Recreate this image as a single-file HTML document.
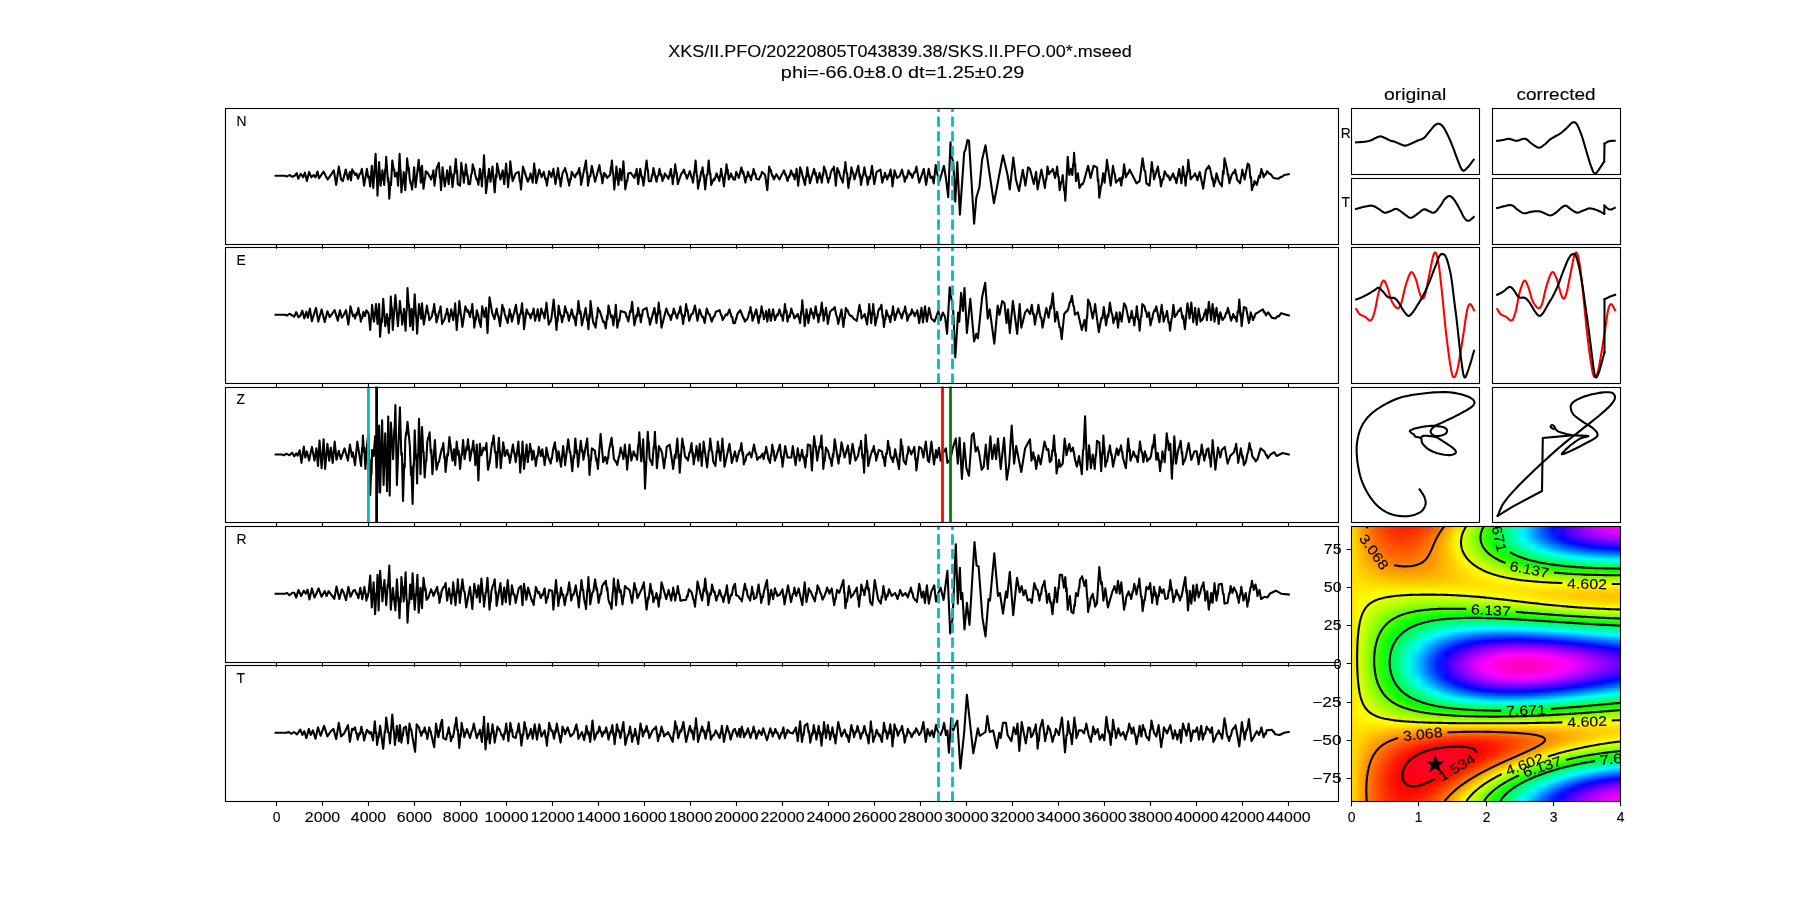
<!DOCTYPE html>
<html><head><meta charset="utf-8"><style>
html,body{margin:0;padding:0;background:#fff;}
#fig{position:relative;width:1800px;height:900px;overflow:hidden;background:#fff;}
#field{position:absolute;left:1351.24px;top:525.84px;width:268.76px;height:275.16px;overflow:hidden;}
svg{position:absolute;left:0;top:0;will-change:transform;}
text{font-family:"Liberation Sans", sans-serif;fill:#000;stroke:#000;stroke-width:0.12px;}
</style></head><body><div id="fig">
<div id="field"><div style="height:2px;background:linear-gradient(90deg,#ffe500,#ffa900,#ff7300,#ff4800,#ff2d00,#ff1d00,#ff1d00,#ff2800,#ff4300,#ff6900,#ff9900,#ffd500,#e8ff00,#9dff00,#4cff00,#00ff0b,#00ff5b,#00ffb1,#00f6ff,#00a5ff,#0059ff,#0012ff,#2a00ff,#6000ff,#9100ff,#b700ff,#d700ff,#ed00ff,#fe00ff)"></div><div style="height:2px;background:linear-gradient(90deg,#ffe500,#ffa900,#ff7300,#ff4e00,#ff3300,#ff2200,#ff2200,#ff2d00,#ff4800,#ff6e00,#ff9f00,#ffda00,#deff00,#92ff00,#41ff00,#00ff10,#00ff66,#00ffbc,#00f1ff,#00a0ff,#0059ff,#0012ff,#2f00ff,#6500ff,#9100ff,#b700ff,#d700ff,#ed00ff,#f800ff)"></div><div style="height:2px;background:linear-gradient(90deg,#ffe500,#ffa900,#ff7900,#ff4e00,#ff3300,#ff2800,#ff2800,#ff3300,#ff4e00,#ff7300,#ffa900,#ffe500,#d8ff00,#8dff00,#3bff00,#00ff16,#00ff6c,#00ffbc,#00ecff,#00a0ff,#0053ff,#0012ff,#2a00ff,#6000ff,#8b00ff,#b100ff,#cd00ff,#e200ff,#f300ff)"></div><div style="height:2px;background:linear-gradient(90deg,#ffe500,#ffa900,#ff7900,#ff5300,#ff3800,#ff2d00,#ff2d00,#ff3800,#ff5300,#ff7e00,#ffaf00,#ffea00,#d3ff00,#87ff00,#36ff00,#00ff1b,#00ff6c,#00ffc2,#00ecff,#00a0ff,#0059ff,#0018ff,#2400ff,#5a00ff,#8600ff,#a700ff,#c200ff,#d700ff,#e200ff)"></div><div style="height:2px;background:linear-gradient(90deg,#ffe500,#ffa900,#ff7900,#ff5300,#ff3d00,#ff3300,#ff3300,#ff3d00,#ff5e00,#ff8400,#ffb400,#fff000,#cdff00,#82ff00,#36ff00,#00ff1b,#00ff6c,#00ffbc,#00f1ff,#00a5ff,#005eff,#001dff,#1900ff,#5000ff,#7600ff,#9c00ff,#b700ff,#c700ff,#d200ff)"></div><div style="height:2px;background:linear-gradient(90deg,#ffe500,#ffaf00,#ff7e00,#ff5800,#ff3d00,#ff3300,#ff3800,#ff4300,#ff6300,#ff8900,#ffba00,#fff500,#c8ff00,#82ff00,#31ff00,#00ff1b,#00ff6c,#00ffbc,#00f6ff,#00aaff,#0069ff,#0028ff,#0e00ff,#3f00ff,#6500ff,#8b00ff,#a100ff,#b100ff,#bc00ff)"></div><div style="height:2px;background:linear-gradient(90deg,#ffe500,#ffaf00,#ff7e00,#ff5e00,#ff4300,#ff3800,#ff3d00,#ff4800,#ff6300,#ff8e00,#ffbf00,#fff500,#c8ff00,#82ff00,#36ff00,#00ff1b,#00ff66,#00ffb1,#00fffd,#00b5ff,#0074ff,#0038ff,#0002ff,#2f00ff,#5500ff,#7600ff,#8b00ff,#9c00ff,#a700ff)"></div><div style="height:2px;background:linear-gradient(90deg,#ffe500,#ffaf00,#ff8400,#ff5e00,#ff4800,#ff3d00,#ff4300,#ff4e00,#ff6900,#ff8e00,#ffbf00,#fffb00,#c8ff00,#82ff00,#36ff00,#00ff16,#00ff61,#00ffac,#00fff2,#00c6ff,#0084ff,#0049ff,#0018ff,#1400ff,#3a00ff,#5a00ff,#7000ff,#8100ff,#8b00ff)"></div><div style="height:2px;background:linear-gradient(90deg,#ffe500,#ffaf00,#ff8400,#ff6300,#ff4e00,#ff4300,#ff4800,#ff5300,#ff6e00,#ff9400,#ffc400,#fffb00,#c8ff00,#82ff00,#3bff00,#00ff0b,#00ff56,#00ffa1,#00ffe7,#00d6ff,#009aff,#005eff,#002dff,#0002ff,#1f00ff,#3f00ff,#5500ff,#6000ff,#6b00ff)"></div><div style="height:2px;background:linear-gradient(90deg,#ffe500,#ffb400,#ff8900,#ff6900,#ff5300,#ff4800,#ff4800,#ff5800,#ff7300,#ff9900,#ffc400,#fffb00,#c8ff00,#87ff00,#41ff00,#00ff05,#00ff4b,#00ff91,#00ffd2,#00ecff,#00b0ff,#0079ff,#0049ff,#001dff,#0400ff,#1f00ff,#3400ff,#3f00ff,#4a00ff)"></div><div style="height:2px;background:linear-gradient(90deg,#ffe500,#ffb400,#ff8900,#ff6900,#ff5800,#ff4e00,#ff4e00,#ff5e00,#ff7900,#ff9900,#ffc400,#fffb00,#cdff00,#8dff00,#4cff00,#05ff00,#00ff3b,#00ff81,#00ffc2,#00fffd,#00c6ff,#0095ff,#0064ff,#003eff,#001dff,#0007ff,#0e00ff,#1900ff,#2400ff)"></div><div style="height:2px;background:linear-gradient(90deg,#ffe500,#ffb400,#ff8e00,#ff6e00,#ff5800,#ff5300,#ff5300,#ff6300,#ff7900,#ff9900,#ffc400,#fff500,#cdff00,#92ff00,#56ff00,#16ff00,#00ff30,#00ff6c,#00ffac,#00ffe7,#00e1ff,#00b0ff,#0084ff,#005eff,#0043ff,#0028ff,#0018ff,#000dff,#0007ff)"></div><div style="height:2px;background:linear-gradient(90deg,#ffe500,#ffba00,#ff8e00,#ff7300,#ff5e00,#ff5800,#ff5800,#ff6900,#ff7e00,#ff9f00,#ffc400,#fff500,#d3ff00,#9dff00,#61ff00,#20ff00,#00ff1b,#00ff5b,#00ff97,#00ffcc,#00fffd,#00d0ff,#00aaff,#0084ff,#0069ff,#0053ff,#0043ff,#0038ff,#002dff)"></div><div style="height:2px;background:linear-gradient(90deg,#ffe500,#ffba00,#ff9400,#ff7900,#ff6300,#ff5e00,#ff5e00,#ff6900,#ff7e00,#ff9f00,#ffc400,#fff000,#d8ff00,#a2ff00,#6cff00,#31ff00,#00ff0b,#00ff46,#00ff7c,#00ffb1,#00ffe2,#00f1ff,#00cbff,#00aaff,#008fff,#0079ff,#0069ff,#0064ff,#005eff)"></div><div style="height:2px;background:linear-gradient(90deg,#ffe500,#ffba00,#ff9900,#ff7e00,#ff6900,#ff6300,#ff6300,#ff6e00,#ff8400,#ff9f00,#ffc400,#fff000,#e3ff00,#adff00,#77ff00,#41ff00,#0bff00,#00ff2b,#00ff61,#00ff91,#00ffc2,#00ffe7,#00f1ff,#00d6ff,#00bbff,#00a5ff,#009aff,#008fff,#008aff)"></div><div style="height:2px;background:linear-gradient(90deg,#ffe500,#ffbf00,#ff9900,#ff8400,#ff6e00,#ff6900,#ff6900,#ff7300,#ff8900,#ff9f00,#ffc400,#ffea00,#e8ff00,#b8ff00,#87ff00,#51ff00,#1bff00,#00ff16,#00ff46,#00ff76,#00ff9c,#00ffc2,#00ffe7,#00fcff,#00e6ff,#00d0ff,#00c6ff,#00bbff,#00bbff)"></div><div style="height:2px;background:linear-gradient(90deg,#ffe500,#ffbf00,#ff9f00,#ff8900,#ff7900,#ff6e00,#ff6e00,#ff7900,#ff8900,#ffa400,#ffbf00,#ffe500,#eeff00,#c3ff00,#92ff00,#61ff00,#31ff00,#05ff00,#00ff2b,#00ff56,#00ff7c,#00ffa1,#00ffbc,#00ffd7,#00ffed,#00fffd,#00f6ff,#00ecff,#00e6ff)"></div><div style="height:2px;background:linear-gradient(90deg,#ffe500,#ffc400,#ffa400,#ff8e00,#ff7e00,#ff7300,#ff7300,#ff7e00,#ff8e00,#ffa400,#ffbf00,#ffe000,#f9ff00,#cdff00,#a2ff00,#77ff00,#46ff00,#1bff00,#00ff0b,#00ff36,#00ff56,#00ff7c,#00ff97,#00ffac,#00ffc2,#00ffd2,#00ffdc,#00ffe2,#00ffe7)"></div><div style="height:2px;background:linear-gradient(90deg,#ffe500,#ffc400,#ffa900,#ff9400,#ff8400,#ff7900,#ff7900,#ff8400,#ff8e00,#ffa400,#ffbf00,#ffe000,#feff00,#d8ff00,#b2ff00,#87ff00,#5cff00,#36ff00,#10ff00,#00ff16,#00ff36,#00ff51,#00ff6c,#00ff81,#00ff97,#00ffa1,#00ffac,#00ffb1,#00ffb7)"></div><div style="height:2px;background:linear-gradient(90deg,#ffe500,#ffc400,#ffaf00,#ff9900,#ff8900,#ff8400,#ff8400,#ff8900,#ff9400,#ffa400,#ffbf00,#ffda00,#fffb00,#e3ff00,#bdff00,#97ff00,#72ff00,#51ff00,#2bff00,#0bff00,#00ff10,#00ff2b,#00ff46,#00ff56,#00ff66,#00ff76,#00ff7c,#00ff86,#00ff86)"></div><div style="height:2px;background:linear-gradient(90deg,#ffe500,#ffca00,#ffaf00,#ff9f00,#ff8e00,#ff8900,#ff8900,#ff8e00,#ff9900,#ffa900,#ffbf00,#ffd500,#fff000,#eeff00,#cdff00,#adff00,#87ff00,#67ff00,#4cff00,#2bff00,#10ff00,#00ff05,#00ff1b,#00ff30,#00ff3b,#00ff46,#00ff51,#00ff56,#00ff56)"></div><div style="height:2px;background:linear-gradient(90deg,#ffe500,#ffca00,#ffb400,#ffa400,#ff9900,#ff8e00,#ff8e00,#ff9400,#ff9f00,#ffa900,#ffbf00,#ffd500,#ffea00,#f9ff00,#d8ff00,#bdff00,#9dff00,#82ff00,#67ff00,#4cff00,#31ff00,#1bff00,#0bff00,#00ff05,#00ff10,#00ff1b,#00ff26,#00ff2b,#00ff2b)"></div><div style="height:2px;background:linear-gradient(90deg,#ffe500,#ffcf00,#ffba00,#ffa900,#ff9f00,#ff9900,#ff9400,#ff9900,#ff9f00,#ffaf00,#ffbf00,#ffcf00,#ffe500,#feff00,#e8ff00,#cdff00,#b2ff00,#97ff00,#82ff00,#67ff00,#51ff00,#41ff00,#31ff00,#20ff00,#16ff00,#10ff00,#05ff00,#05ff00,#00ff00)"></div><div style="height:2px;background:linear-gradient(90deg,#ffe500,#ffcf00,#ffbf00,#ffaf00,#ffa400,#ff9f00,#ff9f00,#ff9f00,#ffa400,#ffaf00,#ffbf00,#ffcf00,#ffe000,#fff500,#f3ff00,#deff00,#c3ff00,#adff00,#97ff00,#87ff00,#72ff00,#61ff00,#56ff00,#46ff00,#41ff00,#36ff00,#31ff00,#2bff00,#2bff00)"></div><div style="height:2px;background:linear-gradient(90deg,#ffe500,#ffd500,#ffc400,#ffb400,#ffaf00,#ffa900,#ffa400,#ffa900,#ffa900,#ffb400,#ffbf00,#ffcf00,#ffe000,#fff000,#feff00,#e8ff00,#d8ff00,#c3ff00,#b2ff00,#a2ff00,#92ff00,#82ff00,#77ff00,#6cff00,#67ff00,#5cff00,#56ff00,#56ff00,#56ff00)"></div><div style="height:2px;background:linear-gradient(90deg,#ffe500,#ffd500,#ffca00,#ffbf00,#ffb400,#ffaf00,#ffaf00,#ffaf00,#ffb400,#ffba00,#ffc400,#ffcf00,#ffda00,#ffea00,#fffb00,#f9ff00,#e8ff00,#d8ff00,#c8ff00,#b8ff00,#adff00,#a2ff00,#97ff00,#8dff00,#87ff00,#82ff00,#7cff00,#7cff00,#7cff00)"></div><div style="height:2px;background:linear-gradient(90deg,#ffe500,#ffda00,#ffcf00,#ffc400,#ffbf00,#ffba00,#ffb400,#ffba00,#ffba00,#ffbf00,#ffc400,#ffcf00,#ffda00,#ffe500,#fff000,#fffb00,#f3ff00,#e8ff00,#deff00,#d3ff00,#c8ff00,#bdff00,#b2ff00,#adff00,#a8ff00,#a2ff00,#a2ff00,#9dff00,#9dff00)"></div><div style="height:2px;background:linear-gradient(90deg,#ffe500,#ffe000,#ffd500,#ffca00,#ffc400,#ffc400,#ffbf00,#ffbf00,#ffc400,#ffc400,#ffca00,#ffcf00,#ffda00,#ffe000,#ffea00,#fff500,#feff00,#f9ff00,#eeff00,#e3ff00,#deff00,#d8ff00,#cdff00,#c8ff00,#c8ff00,#c3ff00,#c3ff00,#bdff00,#bdff00)"></div><div style="height:2px;background:linear-gradient(90deg,#ffe500,#ffe000,#ffda00,#ffd500,#ffcf00,#ffca00,#ffca00,#ffca00,#ffca00,#ffcf00,#ffcf00,#ffd500,#ffda00,#ffe000,#ffe500,#fff000,#fff500,#fffb00,#feff00,#f9ff00,#f3ff00,#eeff00,#e8ff00,#e3ff00,#e3ff00,#deff00,#deff00,#deff00,#deff00)"></div><div style="height:2px;background:linear-gradient(90deg,#ffe500,#ffe500,#ffe000,#ffda00,#ffda00,#ffd500,#ffd500,#ffd500,#ffd500,#ffd500,#ffda00,#ffda00,#ffe000,#ffe000,#ffe500,#ffea00,#fff000,#fff000,#fff500,#fffb00,#fffb00,#feff00,#feff00,#f9ff00,#f9ff00,#f9ff00,#f3ff00,#f3ff00,#f3ff00)"></div><div style="height:2px;background:linear-gradient(90deg,#ffe500,#ffe500,#ffe500,#ffe500,#ffe000,#ffe000,#ffe000,#ffe000,#ffe000,#ffe000,#ffe000,#ffe500,#ffe500,#ffe500,#ffe500,#ffe500,#ffea00,#ffea00,#ffea00,#fff000,#fff000,#fff000,#fff000,#fff000,#fff000,#fff500,#fff500,#fff500,#fff500)"></div><div style="height:2px;background:linear-gradient(90deg,#ffe500,#ffea00,#ffea00,#ffea00,#ffea00,#ffea00,#ffea00,#ffea00,#ffea00,#ffea00,#ffea00,#ffea00,#ffea00,#ffea00,#ffea00,#ffea00,#ffe500,#ffe500,#ffe500,#ffe500,#ffe500,#ffe500,#ffe500,#ffe500,#ffe500,#ffe000,#ffe000,#ffe000,#ffe000)"></div><div style="height:2px;background:linear-gradient(90deg,#ffe500,#ffea00,#fff000,#fff500,#fff500,#fff500,#fffb00,#fffb00,#fffb00,#fffb00,#fff500,#fff500,#fff500,#fff000,#fff000,#ffea00,#ffea00,#ffe500,#ffe500,#ffe000,#ffe000,#ffda00,#ffda00,#ffda00,#ffd500,#ffd500,#ffd500,#ffd500,#ffd500)"></div><div style="height:2px;background:linear-gradient(90deg,#ffe500,#fff000,#fff500,#fffb00,#feff00,#f9ff00,#f9ff00,#f9ff00,#f9ff00,#f9ff00,#f9ff00,#feff00,#feff00,#fffb00,#fff500,#fff000,#fff000,#ffea00,#ffe500,#ffe000,#ffda00,#ffd500,#ffd500,#ffcf00,#ffcf00,#ffcf00,#ffca00,#ffca00,#ffca00)"></div><div style="height:2px;background:linear-gradient(90deg,#ffe500,#fff000,#fffb00,#f9ff00,#f3ff00,#eeff00,#eeff00,#e8ff00,#e8ff00,#e8ff00,#e8ff00,#eeff00,#f3ff00,#f9ff00,#feff00,#fffb00,#fff500,#fff000,#ffea00,#ffe000,#ffda00,#ffd500,#ffd500,#ffcf00,#ffca00,#ffca00,#ffc400,#ffc400,#ffc400)"></div><div style="height:2px;background:linear-gradient(90deg,#ffe500,#fff500,#feff00,#f3ff00,#e8ff00,#e3ff00,#deff00,#d8ff00,#d8ff00,#d8ff00,#deff00,#deff00,#e3ff00,#e8ff00,#eeff00,#f9ff00,#feff00,#fff500,#fff000,#ffea00,#ffe000,#ffda00,#ffd500,#ffcf00,#ffca00,#ffca00,#ffc400,#ffc400,#ffc400)"></div><div style="height:2px;background:linear-gradient(90deg,#ffe500,#fff500,#f9ff00,#e8ff00,#deff00,#d8ff00,#cdff00,#c8ff00,#c8ff00,#c8ff00,#c8ff00,#cdff00,#d3ff00,#d8ff00,#deff00,#e8ff00,#f3ff00,#f9ff00,#fffb00,#fff000,#ffea00,#ffe000,#ffda00,#ffd500,#ffcf00,#ffca00,#ffca00,#ffc400,#ffc400)"></div><div style="height:2px;background:linear-gradient(90deg,#ffe500,#fffb00,#f3ff00,#e3ff00,#d3ff00,#c8ff00,#bdff00,#b8ff00,#b8ff00,#b2ff00,#b8ff00,#b8ff00,#bdff00,#c8ff00,#cdff00,#d8ff00,#e3ff00,#e8ff00,#f3ff00,#feff00,#fff500,#fff000,#ffe500,#ffe000,#ffda00,#ffd500,#ffcf00,#ffcf00,#ffca00)"></div><div style="height:2px;background:linear-gradient(90deg,#ffe500,#feff00,#eeff00,#d8ff00,#c8ff00,#bdff00,#b2ff00,#a8ff00,#a2ff00,#a2ff00,#a2ff00,#a2ff00,#a8ff00,#b2ff00,#b8ff00,#c3ff00,#cdff00,#d8ff00,#e3ff00,#eeff00,#f9ff00,#fffb00,#fff500,#ffea00,#ffe500,#ffe000,#ffda00,#ffda00,#ffd500)"></div><div style="height:2px;background:linear-gradient(90deg,#ffe500,#feff00,#e3ff00,#d3ff00,#bdff00,#adff00,#a2ff00,#97ff00,#8dff00,#8dff00,#8dff00,#8dff00,#92ff00,#97ff00,#a2ff00,#adff00,#b8ff00,#c3ff00,#cdff00,#d8ff00,#e3ff00,#eeff00,#f9ff00,#feff00,#fff500,#fff000,#ffea00,#ffe500,#ffe500)"></div><div style="height:2px;background:linear-gradient(90deg,#ffe500,#f9ff00,#deff00,#c8ff00,#b2ff00,#9dff00,#92ff00,#82ff00,#7cff00,#77ff00,#72ff00,#77ff00,#77ff00,#82ff00,#87ff00,#92ff00,#9dff00,#a8ff00,#b2ff00,#c3ff00,#cdff00,#d8ff00,#e3ff00,#eeff00,#f3ff00,#f9ff00,#feff00,#fffb00,#fff500)"></div><div style="height:2px;background:linear-gradient(90deg,#ffe500,#f9ff00,#d8ff00,#bdff00,#a8ff00,#92ff00,#7cff00,#72ff00,#67ff00,#5cff00,#5cff00,#5cff00,#5cff00,#61ff00,#6cff00,#77ff00,#82ff00,#8dff00,#97ff00,#a8ff00,#b2ff00,#bdff00,#c8ff00,#d3ff00,#deff00,#e3ff00,#e8ff00,#eeff00,#f3ff00)"></div><div style="height:2px;background:linear-gradient(90deg,#ffe500,#f3ff00,#d3ff00,#b8ff00,#9dff00,#82ff00,#6cff00,#5cff00,#51ff00,#46ff00,#41ff00,#41ff00,#41ff00,#46ff00,#4cff00,#56ff00,#61ff00,#6cff00,#77ff00,#87ff00,#92ff00,#9dff00,#adff00,#b8ff00,#bdff00,#c8ff00,#cdff00,#d3ff00,#d8ff00)"></div><div style="height:2px;background:linear-gradient(90deg,#ffe500,#f3ff00,#cdff00,#adff00,#8dff00,#72ff00,#5cff00,#46ff00,#36ff00,#2bff00,#26ff00,#20ff00,#20ff00,#26ff00,#2bff00,#36ff00,#41ff00,#4cff00,#56ff00,#67ff00,#72ff00,#7cff00,#8dff00,#97ff00,#a2ff00,#a8ff00,#b2ff00,#b8ff00,#bdff00)"></div><div style="height:2px;background:linear-gradient(90deg,#ffe500,#eeff00,#c8ff00,#a2ff00,#82ff00,#67ff00,#4cff00,#31ff00,#20ff00,#16ff00,#0bff00,#05ff00,#00ff00,#05ff00,#0bff00,#10ff00,#1bff00,#26ff00,#31ff00,#41ff00,#4cff00,#5cff00,#67ff00,#72ff00,#7cff00,#87ff00,#92ff00,#97ff00,#9dff00)"></div><div style="height:2px;background:linear-gradient(90deg,#ffe500,#eeff00,#c3ff00,#9dff00,#77ff00,#56ff00,#36ff00,#20ff00,#0bff00,#00ff05,#00ff16,#00ff1b,#00ff20,#00ff20,#00ff1b,#00ff16,#00ff0b,#00ff00,#0bff00,#1bff00,#26ff00,#36ff00,#41ff00,#4cff00,#5cff00,#61ff00,#6cff00,#77ff00,#7cff00)"></div><div style="height:2px;background:linear-gradient(90deg,#ffe500,#e8ff00,#bdff00,#92ff00,#6cff00,#46ff00,#26ff00,#0bff00,#00ff10,#00ff20,#00ff30,#00ff3b,#00ff41,#00ff41,#00ff41,#00ff3b,#00ff30,#00ff26,#00ff1b,#00ff10,#00ff00,#0bff00,#1bff00,#26ff00,#31ff00,#3bff00,#46ff00,#51ff00,#56ff00)"></div><div style="height:2px;background:linear-gradient(90deg,#ffe500,#e8ff00,#b8ff00,#8dff00,#61ff00,#36ff00,#16ff00,#00ff0b,#00ff26,#00ff3b,#00ff51,#00ff5b,#00ff66,#00ff66,#00ff66,#00ff61,#00ff5b,#00ff51,#00ff46,#00ff3b,#00ff2b,#00ff20,#00ff10,#00ff05,#0bff00,#16ff00,#20ff00,#2bff00,#31ff00)"></div><div style="height:2px;background:linear-gradient(90deg,#ffe500,#e3ff00,#b2ff00,#82ff00,#56ff00,#2bff00,#00ff00,#00ff20,#00ff41,#00ff5b,#00ff6c,#00ff7c,#00ff86,#00ff8c,#00ff8c,#00ff8c,#00ff86,#00ff7c,#00ff71,#00ff66,#00ff5b,#00ff4b,#00ff3b,#00ff30,#00ff20,#00ff16,#00ff0b,#00ff00,#0bff00)"></div><div style="height:2px;background:linear-gradient(90deg,#ffe500,#e3ff00,#adff00,#7cff00,#4cff00,#1bff00,#00ff10,#00ff36,#00ff56,#00ff76,#00ff8c,#00ffa1,#00ffac,#00ffb1,#00ffb7,#00ffb7,#00ffb1,#00ffac,#00ffa1,#00ff97,#00ff86,#00ff7c,#00ff6c,#00ff5b,#00ff51,#00ff41,#00ff36,#00ff2b,#00ff20)"></div><div style="height:2px;background:linear-gradient(90deg,#ffe500,#deff00,#a8ff00,#72ff00,#41ff00,#0bff00,#00ff20,#00ff4b,#00ff71,#00ff91,#00ffac,#00ffc2,#00ffd2,#00ffdc,#00ffe2,#00ffe2,#00ffdc,#00ffd7,#00ffcc,#00ffc2,#00ffb7,#00ffa7,#00ff9c,#00ff8c,#00ff7c,#00ff6c,#00ff61,#00ff56,#00ff4b)"></div><div style="height:2px;background:linear-gradient(90deg,#ffe500,#deff00,#a2ff00,#6cff00,#36ff00,#00ff00,#00ff36,#00ff61,#00ff8c,#00ffac,#00ffcc,#00ffe2,#00fff7,#00fcff,#00f6ff,#00f1ff,#00f1ff,#00f6ff,#00fffd,#00fff2,#00ffe7,#00ffd7,#00ffc7,#00ffb7,#00ffac,#00ff9c,#00ff8c,#00ff81,#00ff76)"></div><div style="height:2px;background:linear-gradient(90deg,#ffe500,#deff00,#a2ff00,#67ff00,#2bff00,#00ff10,#00ff46,#00ff76,#00ffa1,#00ffc7,#00ffe7,#00fcff,#00e6ff,#00d6ff,#00cbff,#00c6ff,#00c6ff,#00cbff,#00d0ff,#00dbff,#00e6ff,#00f6ff,#00fff7,#00ffe7,#00ffd7,#00ffc7,#00ffbc,#00ffac,#00ffa1)"></div><div style="height:2px;background:linear-gradient(90deg,#ffe500,#d8ff00,#9dff00,#5cff00,#20ff00,#00ff1b,#00ff56,#00ff8c,#00ffb7,#00ffe2,#00f6ff,#00d6ff,#00c0ff,#00b0ff,#00a0ff,#009aff,#009aff,#009aff,#00a0ff,#00aaff,#00b5ff,#00c6ff,#00d6ff,#00e6ff,#00f6ff,#00fff7,#00ffe7,#00ffd7,#00ffcc)"></div><div style="height:2px;background:linear-gradient(90deg,#ffe500,#d8ff00,#97ff00,#56ff00,#16ff00,#00ff2b,#00ff66,#00ff9c,#00ffd2,#00fffd,#00d6ff,#00b5ff,#009aff,#0084ff,#0079ff,#006fff,#0069ff,#006fff,#0074ff,#0079ff,#008aff,#0095ff,#00a5ff,#00b5ff,#00cbff,#00dbff,#00ecff,#00fcff,#00fff2)"></div><div style="height:2px;background:linear-gradient(90deg,#ffe500,#d8ff00,#92ff00,#51ff00,#0bff00,#00ff36,#00ff76,#00ffb1,#00ffe7,#00e6ff,#00bbff,#0095ff,#0079ff,#005eff,#004eff,#0043ff,#003eff,#003eff,#0043ff,#004eff,#0059ff,#0069ff,#0079ff,#008aff,#009aff,#00b0ff,#00c0ff,#00d0ff,#00e1ff)"></div><div style="height:2px;background:linear-gradient(90deg,#ffe500,#d3ff00,#92ff00,#4cff00,#05ff00,#00ff41,#00ff81,#00ffc2,#00fffd,#00cbff,#00a0ff,#0079ff,#0053ff,#003eff,#0028ff,#001dff,#0018ff,#0012ff,#0018ff,#001dff,#002dff,#0038ff,#0049ff,#005eff,#006fff,#0084ff,#0095ff,#00a5ff,#00b5ff)"></div><div style="height:2px;background:linear-gradient(90deg,#ffe500,#d3ff00,#8dff00,#46ff00,#00ff05,#00ff4b,#00ff91,#00ffd2,#00ecff,#00b5ff,#0084ff,#0059ff,#0033ff,#0018ff,#0002ff,#0e00ff,#1400ff,#1900ff,#1400ff,#0e00ff,#0400ff,#000dff,#001dff,#0033ff,#0043ff,#0059ff,#0069ff,#007fff,#008fff)"></div><div style="height:2px;background:linear-gradient(90deg,#ffe500,#d3ff00,#8dff00,#41ff00,#00ff0b,#00ff56,#00ff9c,#00ffe2,#00dbff,#00a0ff,#0069ff,#003eff,#0018ff,#0900ff,#1f00ff,#3400ff,#3a00ff,#3f00ff,#3f00ff,#3400ff,#2a00ff,#1f00ff,#0e00ff,#0007ff,#001dff,#002dff,#0043ff,#0059ff,#006fff)"></div><div style="height:2px;background:linear-gradient(90deg,#ffe500,#d3ff00,#87ff00,#3bff00,#00ff16,#00ff61,#00ffac,#00fff2,#00c6ff,#008aff,#0053ff,#0023ff,#0900ff,#2a00ff,#4500ff,#5500ff,#6000ff,#6500ff,#6500ff,#6000ff,#5500ff,#4500ff,#3400ff,#1f00ff,#0900ff,#000dff,#0023ff,#0033ff,#0049ff)"></div><div style="height:2px;background:linear-gradient(90deg,#ffe500,#cdff00,#87ff00,#36ff00,#00ff1b,#00ff66,#00ffb7,#00fcff,#00b5ff,#0074ff,#003eff,#0007ff,#2400ff,#4a00ff,#6500ff,#7600ff,#8600ff,#8b00ff,#8b00ff,#8600ff,#7b00ff,#6b00ff,#5a00ff,#4500ff,#2f00ff,#1900ff,#0400ff,#0012ff,#0028ff)"></div><div style="height:2px;background:linear-gradient(90deg,#ffe500,#cdff00,#82ff00,#31ff00,#00ff20,#00ff71,#00ffc2,#00f1ff,#00a5ff,#0064ff,#0028ff,#0e00ff,#3f00ff,#6500ff,#8100ff,#9600ff,#a700ff,#ac00ff,#ac00ff,#a700ff,#9c00ff,#8b00ff,#7b00ff,#6500ff,#5000ff,#3a00ff,#2400ff,#0900ff,#000dff)"></div><div style="height:2px;background:linear-gradient(90deg,#ffe500,#cdff00,#82ff00,#31ff00,#00ff26,#00ff76,#00ffc7,#00e6ff,#009aff,#0053ff,#0012ff,#2400ff,#5500ff,#7b00ff,#9c00ff,#b100ff,#c200ff,#cd00ff,#cd00ff,#c700ff,#bc00ff,#ac00ff,#9c00ff,#8600ff,#7000ff,#5500ff,#3f00ff,#2400ff,#0e00ff)"></div><div style="height:2px;background:linear-gradient(90deg,#ffe500,#cdff00,#82ff00,#2bff00,#00ff26,#00ff7c,#00ffd2,#00dbff,#008fff,#0043ff,#0002ff,#3a00ff,#6b00ff,#9100ff,#b700ff,#cd00ff,#dd00ff,#e800ff,#e800ff,#e200ff,#d700ff,#c700ff,#b700ff,#a100ff,#8b00ff,#7000ff,#5500ff,#3f00ff,#2400ff)"></div><div style="height:2px;background:linear-gradient(90deg,#ffe500,#cdff00,#7cff00,#2bff00,#00ff2b,#00ff81,#00ffd7,#00d0ff,#0084ff,#0038ff,#0900ff,#4a00ff,#7b00ff,#a700ff,#c700ff,#e200ff,#f300ff,#fe00ff,#fe00ff,#fe00ff,#f300ff,#e200ff,#cd00ff,#b700ff,#a100ff,#8600ff,#6b00ff,#5500ff,#3a00ff)"></div><div style="height:2px;background:linear-gradient(90deg,#ffe500,#cdff00,#7cff00,#2bff00,#00ff30,#00ff86,#00ffdc,#00cbff,#0079ff,#002dff,#1900ff,#5500ff,#8b00ff,#b700ff,#dd00ff,#f800ff,#ff00f6,#ff00eb,#ff00eb,#ff00f0,#ff00f6,#f800ff,#e200ff,#cd00ff,#b100ff,#9600ff,#7b00ff,#6500ff,#4a00ff)"></div><div style="height:2px;background:linear-gradient(90deg,#ffe500,#cdff00,#7cff00,#26ff00,#00ff30,#00ff86,#00ffe2,#00c6ff,#0074ff,#0028ff,#1f00ff,#6000ff,#9600ff,#c700ff,#e800ff,#ff00f6,#ff00e5,#ff00da,#ff00da,#ff00da,#ff00e5,#ff00f6,#f300ff,#dd00ff,#c200ff,#a700ff,#8b00ff,#7000ff,#5500ff)"></div><div style="height:2px;background:linear-gradient(90deg,#ffe500,#cdff00,#7cff00,#26ff00,#00ff30,#00ff8c,#00ffe2,#00c0ff,#006fff,#001dff,#2a00ff,#6b00ff,#a100ff,#d200ff,#f800ff,#ff00eb,#ff00da,#ff00d0,#ff00ca,#ff00d0,#ff00da,#ff00eb,#fe00ff,#e800ff,#cd00ff,#b100ff,#9600ff,#7b00ff,#6000ff)"></div><div style="height:2px;background:linear-gradient(90deg,#ffe500,#cdff00,#7cff00,#26ff00,#00ff30,#00ff8c,#00ffe7,#00c0ff,#0069ff,#001dff,#2f00ff,#7000ff,#a700ff,#d700ff,#fe00ff,#ff00e5,#ff00d0,#ff00c5,#ff00c5,#ff00c5,#ff00d0,#ff00e0,#ff00f6,#ed00ff,#d200ff,#b700ff,#9c00ff,#8100ff,#6000ff)"></div><div style="height:2px;background:linear-gradient(90deg,#ffe500,#cdff00,#7cff00,#2bff00,#00ff30,#00ff8c,#00ffe7,#00c0ff,#0069ff,#001dff,#2f00ff,#7000ff,#ac00ff,#dd00ff,#ff00fb,#ff00e0,#ff00ca,#ff00bf,#ff00bf,#ff00c5,#ff00d0,#ff00e0,#ff00f6,#f300ff,#d700ff,#b700ff,#9c00ff,#8100ff,#6500ff)"></div><div style="height:2px;background:linear-gradient(90deg,#ffe500,#cdff00,#82ff00,#2bff00,#00ff30,#00ff86,#00ffe2,#00c0ff,#006fff,#001dff,#2f00ff,#7000ff,#ac00ff,#dd00ff,#ff00fb,#ff00e0,#ff00ca,#ff00bf,#ff00bf,#ff00bf,#ff00d0,#ff00e0,#ff00f6,#f300ff,#d200ff,#b700ff,#9c00ff,#7b00ff,#6000ff)"></div><div style="height:2px;background:linear-gradient(90deg,#ffe500,#cdff00,#82ff00,#2bff00,#00ff2b,#00ff86,#00ffe2,#00c6ff,#006fff,#001dff,#2a00ff,#6b00ff,#a700ff,#d700ff,#fe00ff,#ff00e0,#ff00d0,#ff00c5,#ff00bf,#ff00c5,#ff00d0,#ff00e5,#ff00fb,#ed00ff,#cd00ff,#b100ff,#9100ff,#7600ff,#5a00ff)"></div><div style="height:2px;background:linear-gradient(90deg,#ffe500,#d3ff00,#82ff00,#31ff00,#00ff2b,#00ff81,#00ffdc,#00cbff,#0074ff,#0023ff,#2400ff,#6500ff,#a100ff,#d200ff,#f800ff,#ff00eb,#ff00d5,#ff00ca,#ff00ca,#ff00d0,#ff00da,#ff00eb,#fe00ff,#e200ff,#c700ff,#a700ff,#8600ff,#6b00ff,#4a00ff)"></div><div style="height:2px;background:linear-gradient(90deg,#ffe500,#d3ff00,#87ff00,#31ff00,#00ff26,#00ff7c,#00ffd7,#00d0ff,#0079ff,#002dff,#1f00ff,#6000ff,#9600ff,#c700ff,#ed00ff,#ff00f6,#ff00e0,#ff00d5,#ff00d5,#ff00da,#ff00e5,#ff00fb,#ed00ff,#d200ff,#b700ff,#9600ff,#7b00ff,#5a00ff,#3f00ff)"></div><div style="height:2px;background:linear-gradient(90deg,#ffe500,#d3ff00,#87ff00,#36ff00,#00ff20,#00ff76,#00ffcc,#00dbff,#0084ff,#0038ff,#0e00ff,#5000ff,#8b00ff,#b700ff,#dd00ff,#f800ff,#ff00f0,#ff00e5,#ff00e5,#ff00eb,#ff00fb,#f300ff,#dd00ff,#c200ff,#a700ff,#8600ff,#6500ff,#4a00ff,#2a00ff)"></div><div style="height:2px;background:linear-gradient(90deg,#ffe500,#d3ff00,#87ff00,#3bff00,#00ff1b,#00ff71,#00ffc7,#00e1ff,#008fff,#0043ff,#0400ff,#4500ff,#7b00ff,#a700ff,#cd00ff,#e800ff,#f800ff,#ff00fb,#ff00fb,#fe00ff,#ed00ff,#dd00ff,#c700ff,#ac00ff,#8b00ff,#7000ff,#5000ff,#2f00ff,#1400ff)"></div><div style="height:2px;background:linear-gradient(90deg,#ffe500,#d3ff00,#8dff00,#41ff00,#00ff16,#00ff66,#00ffbc,#00f1ff,#00a0ff,#0053ff,#000dff,#2f00ff,#6500ff,#9100ff,#b700ff,#d200ff,#e200ff,#ed00ff,#ed00ff,#e200ff,#d700ff,#c200ff,#ac00ff,#9100ff,#7600ff,#5500ff,#3400ff,#1900ff,#0007ff)"></div><div style="height:2px;background:linear-gradient(90deg,#ffe500,#d8ff00,#92ff00,#46ff00,#00ff0b,#00ff61,#00ffb1,#00fcff,#00b0ff,#0064ff,#0023ff,#1900ff,#5000ff,#7b00ff,#9c00ff,#b700ff,#c700ff,#d200ff,#d200ff,#c700ff,#bc00ff,#a700ff,#9100ff,#7600ff,#5500ff,#3a00ff,#1900ff,#0007ff,#0023ff)"></div><div style="height:2px;background:linear-gradient(90deg,#ffe500,#d8ff00,#92ff00,#4cff00,#00ff05,#00ff56,#00ffa1,#00fff2,#00c0ff,#0079ff,#0038ff,#0400ff,#3400ff,#6000ff,#8100ff,#9c00ff,#ac00ff,#b100ff,#b100ff,#a700ff,#9c00ff,#8600ff,#7000ff,#5500ff,#3400ff,#1900ff,#0007ff,#0023ff,#0043ff)"></div><div style="height:2px;background:linear-gradient(90deg,#ffe500,#d8ff00,#97ff00,#51ff00,#05ff00,#00ff46,#00ff97,#00ffe2,#00d0ff,#008fff,#004eff,#0018ff,#1900ff,#4500ff,#6500ff,#7b00ff,#8600ff,#9100ff,#8b00ff,#8600ff,#7600ff,#6000ff,#4a00ff,#2f00ff,#1400ff,#000dff,#0028ff,#0049ff,#0064ff)"></div><div style="height:2px;background:linear-gradient(90deg,#ffe500,#deff00,#9dff00,#56ff00,#10ff00,#00ff3b,#00ff86,#00ffd2,#00e6ff,#00a5ff,#0069ff,#0033ff,#0002ff,#2400ff,#3f00ff,#5500ff,#6500ff,#6b00ff,#6500ff,#6000ff,#5000ff,#3a00ff,#2400ff,#0900ff,#0012ff,#0033ff,#004eff,#0069ff,#008aff)"></div><div style="height:2px;background:linear-gradient(90deg,#ffe500,#deff00,#a2ff00,#61ff00,#1bff00,#00ff30,#00ff76,#00ffbc,#00fcff,#00c0ff,#0084ff,#004eff,#0023ff,#0400ff,#1f00ff,#2f00ff,#3f00ff,#3f00ff,#3f00ff,#3400ff,#2400ff,#1400ff,#0007ff,#0023ff,#003eff,#0059ff,#0074ff,#0095ff,#00b0ff)"></div><div style="height:2px;background:linear-gradient(90deg,#ffe500,#e3ff00,#a8ff00,#67ff00,#26ff00,#00ff20,#00ff66,#00ffa7,#00ffe7,#00dbff,#00a0ff,#006fff,#0049ff,#0023ff,#0007ff,#0900ff,#1400ff,#1400ff,#1400ff,#0900ff,#0007ff,#001dff,#0033ff,#004eff,#0069ff,#0084ff,#00a0ff,#00bbff,#00d6ff)"></div><div style="height:2px;background:linear-gradient(90deg,#ffe500,#e3ff00,#adff00,#72ff00,#31ff00,#00ff10,#00ff51,#00ff91,#00ffd2,#00f6ff,#00c0ff,#0095ff,#0069ff,#004eff,#0033ff,#0023ff,#0018ff,#0018ff,#001dff,#0028ff,#0033ff,#0049ff,#005eff,#0079ff,#0095ff,#00b0ff,#00cbff,#00e6ff,#00fcff)"></div><div style="height:2px;background:linear-gradient(90deg,#ffe500,#e8ff00,#b2ff00,#77ff00,#3bff00,#00ff05,#00ff41,#00ff7c,#00ffb7,#00ffed,#00e1ff,#00b5ff,#0095ff,#0074ff,#005eff,#004eff,#0049ff,#0043ff,#0049ff,#0053ff,#0064ff,#0079ff,#008fff,#00a5ff,#00c0ff,#00dbff,#00f6ff,#00ffed,#00ffd7)"></div><div style="height:2px;background:linear-gradient(90deg,#ffe500,#e8ff00,#b8ff00,#82ff00,#46ff00,#10ff00,#00ff2b,#00ff66,#00ff9c,#00ffcc,#00fff7,#00dbff,#00bbff,#00a0ff,#008aff,#007fff,#0074ff,#0074ff,#0079ff,#0084ff,#0095ff,#00aaff,#00c0ff,#00d6ff,#00f1ff,#00fff7,#00ffdc,#00ffc2,#00ffac)"></div><div style="height:2px;background:linear-gradient(90deg,#ffe500,#eeff00,#bdff00,#8dff00,#56ff00,#20ff00,#00ff16,#00ff4b,#00ff7c,#00ffac,#00ffd7,#00fffd,#00e6ff,#00cbff,#00bbff,#00aaff,#00a5ff,#00aaff,#00b0ff,#00bbff,#00c6ff,#00dbff,#00f1ff,#00fff7,#00ffe2,#00ffc7,#00ffb1,#00ff97,#00ff81)"></div><div style="height:2px;background:linear-gradient(90deg,#ffe500,#eeff00,#c3ff00,#92ff00,#61ff00,#31ff00,#00ff00,#00ff30,#00ff61,#00ff8c,#00ffb1,#00ffd2,#00fff2,#00f6ff,#00e6ff,#00dbff,#00dbff,#00dbff,#00e1ff,#00ecff,#00fcff,#00fff2,#00ffdc,#00ffc7,#00ffb1,#00ff9c,#00ff81,#00ff6c,#00ff5b)"></div><div style="height:2px;background:linear-gradient(90deg,#ffe500,#f3ff00,#c8ff00,#9dff00,#72ff00,#41ff00,#16ff00,#00ff1b,#00ff46,#00ff6c,#00ff8c,#00ffac,#00ffc7,#00ffd7,#00ffe7,#00ffed,#00fff2,#00fff2,#00ffe7,#00ffdc,#00ffd2,#00ffc2,#00ffac,#00ff97,#00ff81,#00ff6c,#00ff56,#00ff41,#00ff30)"></div><div style="height:2px;background:linear-gradient(90deg,#ffe500,#f3ff00,#cdff00,#a8ff00,#7cff00,#51ff00,#2bff00,#00ff00,#00ff26,#00ff46,#00ff66,#00ff81,#00ff97,#00ffac,#00ffb7,#00ffbc,#00ffc2,#00ffbc,#00ffb7,#00ffac,#00ff9c,#00ff8c,#00ff7c,#00ff66,#00ff56,#00ff41,#00ff2b,#00ff1b,#00ff05)"></div><div style="height:2px;background:linear-gradient(90deg,#ffe500,#f9ff00,#d8ff00,#b2ff00,#8dff00,#67ff00,#41ff00,#1bff00,#00ff05,#00ff26,#00ff41,#00ff5b,#00ff6c,#00ff7c,#00ff86,#00ff8c,#00ff8c,#00ff8c,#00ff81,#00ff7c,#00ff6c,#00ff5b,#00ff4b,#00ff3b,#00ff26,#00ff16,#00ff00,#10ff00,#20ff00)"></div><div style="height:2px;background:linear-gradient(90deg,#ffe500,#f9ff00,#deff00,#bdff00,#9dff00,#77ff00,#56ff00,#36ff00,#1bff00,#00ff05,#00ff1b,#00ff30,#00ff41,#00ff51,#00ff56,#00ff5b,#00ff5b,#00ff56,#00ff51,#00ff46,#00ff3b,#00ff2b,#00ff1b,#00ff0b,#05ff00,#16ff00,#26ff00,#36ff00,#46ff00)"></div><div style="height:2px;background:linear-gradient(90deg,#ffe500,#feff00,#e3ff00,#c8ff00,#a8ff00,#8dff00,#6cff00,#51ff00,#36ff00,#20ff00,#0bff00,#00ff05,#00ff16,#00ff20,#00ff26,#00ff2b,#00ff2b,#00ff26,#00ff20,#00ff16,#00ff0b,#00ff00,#10ff00,#20ff00,#31ff00,#41ff00,#4cff00,#5cff00,#67ff00)"></div><div style="height:2px;background:linear-gradient(90deg,#ffe500,#fffb00,#e8ff00,#d3ff00,#b8ff00,#9dff00,#87ff00,#6cff00,#56ff00,#41ff00,#31ff00,#20ff00,#16ff00,#0bff00,#05ff00,#05ff00,#05ff00,#0bff00,#10ff00,#1bff00,#26ff00,#31ff00,#3bff00,#4cff00,#56ff00,#67ff00,#72ff00,#7cff00,#87ff00)"></div><div style="height:2px;background:linear-gradient(90deg,#ffe500,#fffb00,#f3ff00,#deff00,#c8ff00,#b2ff00,#9dff00,#87ff00,#77ff00,#67ff00,#56ff00,#4cff00,#41ff00,#3bff00,#36ff00,#36ff00,#36ff00,#3bff00,#41ff00,#46ff00,#51ff00,#5cff00,#67ff00,#72ff00,#7cff00,#87ff00,#92ff00,#9dff00,#a8ff00)"></div><div style="height:2px;background:linear-gradient(90deg,#ffe500,#fff500,#f9ff00,#e8ff00,#d8ff00,#c3ff00,#b2ff00,#a2ff00,#97ff00,#87ff00,#7cff00,#72ff00,#6cff00,#67ff00,#61ff00,#61ff00,#67ff00,#67ff00,#6cff00,#72ff00,#7cff00,#82ff00,#8dff00,#97ff00,#a2ff00,#adff00,#b2ff00,#bdff00,#c3ff00)"></div><div style="height:2px;background:linear-gradient(90deg,#ffe500,#fff500,#feff00,#f3ff00,#e3ff00,#d8ff00,#cdff00,#bdff00,#b2ff00,#a8ff00,#a2ff00,#97ff00,#92ff00,#92ff00,#8dff00,#8dff00,#92ff00,#92ff00,#97ff00,#9dff00,#a2ff00,#adff00,#b2ff00,#b8ff00,#c3ff00,#c8ff00,#cdff00,#d8ff00,#deff00)"></div><div style="height:2px;background:linear-gradient(90deg,#ffe500,#fff000,#fffb00,#feff00,#f3ff00,#e8ff00,#e3ff00,#d8ff00,#d3ff00,#c8ff00,#c3ff00,#c3ff00,#bdff00,#b8ff00,#b8ff00,#b8ff00,#b8ff00,#bdff00,#c3ff00,#c3ff00,#c8ff00,#cdff00,#d3ff00,#d8ff00,#deff00,#e3ff00,#e8ff00,#eeff00,#f3ff00)"></div><div style="height:2px;background:linear-gradient(90deg,#ffe500,#ffea00,#fff000,#fff500,#fffb00,#feff00,#f9ff00,#f3ff00,#eeff00,#e8ff00,#e8ff00,#e3ff00,#e3ff00,#e3ff00,#e3ff00,#e3ff00,#e3ff00,#e3ff00,#e3ff00,#e8ff00,#e8ff00,#eeff00,#f3ff00,#f3ff00,#f9ff00,#f9ff00,#feff00,#fffb00,#fffb00)"></div><div style="height:2px;background:linear-gradient(90deg,#ffe500,#ffea00,#ffea00,#ffea00,#fff000,#fff000,#fff000,#fff000,#fff500,#fff500,#fff500,#fff500,#fff500,#fff500,#fff500,#fff500,#fff500,#fff500,#fff500,#fff500,#fff500,#fff500,#fff000,#fff000,#fff000,#fff000,#fff000,#fff000,#ffea00)"></div><div style="height:2px;background:linear-gradient(90deg,#ffe500,#ffe500,#ffe500,#ffe000,#ffe000,#ffe000,#ffda00,#ffda00,#ffda00,#ffd500,#ffd500,#ffd500,#ffd500,#ffd500,#ffd500,#ffd500,#ffd500,#ffd500,#ffd500,#ffd500,#ffda00,#ffda00,#ffda00,#ffda00,#ffe000,#ffe000,#ffe000,#ffe000,#ffe500)"></div><div style="height:2px;background:linear-gradient(90deg,#ffe500,#ffe500,#ffe000,#ffda00,#ffcf00,#ffca00,#ffc400,#ffc400,#ffbf00,#ffba00,#ffba00,#ffb400,#ffb400,#ffb400,#ffb400,#ffb400,#ffb400,#ffba00,#ffba00,#ffbf00,#ffbf00,#ffc400,#ffca00,#ffca00,#ffcf00,#ffd500,#ffd500,#ffda00,#ffda00)"></div><div style="height:2px;background:linear-gradient(90deg,#ffe500,#ffe000,#ffd500,#ffcf00,#ffc400,#ffba00,#ffb400,#ffa900,#ffa400,#ff9f00,#ff9900,#ff9900,#ff9400,#ff9400,#ff9400,#ff9400,#ff9900,#ff9f00,#ff9f00,#ffa400,#ffaf00,#ffb400,#ffba00,#ffbf00,#ffc400,#ffca00,#ffcf00,#ffd500,#ffda00)"></div><div style="height:2px;background:linear-gradient(90deg,#ffe500,#ffda00,#ffcf00,#ffc400,#ffba00,#ffa900,#ff9f00,#ff9400,#ff8e00,#ff8400,#ff7e00,#ff7900,#ff7900,#ff7900,#ff7900,#ff7e00,#ff7e00,#ff8400,#ff8e00,#ff9400,#ff9f00,#ffa400,#ffaf00,#ffb400,#ffbf00,#ffca00,#ffcf00,#ffd500,#ffda00)"></div><div style="height:2px;background:linear-gradient(90deg,#ffe500,#ffda00,#ffca00,#ffba00,#ffa900,#ff9900,#ff8e00,#ff8400,#ff7900,#ff6e00,#ff6900,#ff6300,#ff5e00,#ff5e00,#ff5e00,#ff6300,#ff6900,#ff7300,#ff7900,#ff8400,#ff8e00,#ff9900,#ffa900,#ffb400,#ffbf00,#ffca00,#ffcf00,#ffda00,#ffe500)"></div><div style="height:2px;background:linear-gradient(90deg,#ffe500,#ffd500,#ffc400,#ffaf00,#ff9f00,#ff8e00,#ff7e00,#ff6e00,#ff6300,#ff5800,#ff4e00,#ff4800,#ff4800,#ff4800,#ff4800,#ff4e00,#ff5800,#ff6300,#ff6e00,#ff7900,#ff8900,#ff9400,#ffa400,#ffb400,#ffbf00,#ffcf00,#ffda00,#ffe500,#ffea00)"></div><div style="height:2px;background:linear-gradient(90deg,#ffe500,#ffd500,#ffbf00,#ffa900,#ff9400,#ff7e00,#ff6e00,#ff5e00,#ff4e00,#ff4300,#ff3800,#ff3300,#ff3300,#ff3300,#ff3800,#ff3d00,#ff4800,#ff5300,#ff6300,#ff7300,#ff8400,#ff9400,#ffa400,#ffb400,#ffc400,#ffd500,#ffe500,#fff000,#fffb00)"></div><div style="height:2px;background:linear-gradient(90deg,#ffe500,#ffcf00,#ffba00,#ff9f00,#ff8900,#ff7300,#ff5e00,#ff4800,#ff3d00,#ff2d00,#ff2800,#ff2200,#ff2200,#ff2200,#ff2800,#ff3300,#ff3d00,#ff4e00,#ff5e00,#ff6e00,#ff8400,#ff9900,#ffa900,#ffbf00,#ffcf00,#ffe500,#fff000,#feff00,#f3ff00)"></div><div style="height:2px;background:linear-gradient(90deg,#ffe500,#ffcf00,#ffb400,#ff9900,#ff7e00,#ff6300,#ff4e00,#ff3d00,#ff2d00,#ff1d00,#ff1800,#ff1200,#ff1200,#ff1200,#ff1d00,#ff2800,#ff3800,#ff4800,#ff5e00,#ff6e00,#ff8900,#ff9f00,#ffb400,#ffca00,#ffe000,#fff500,#f9ff00,#e8ff00,#deff00)"></div><div style="height:2px;background:linear-gradient(90deg,#ffe500,#ffca00,#ffa900,#ff8e00,#ff7300,#ff5800,#ff4300,#ff2d00,#ff1d00,#ff0d00,#ff0700,#ff0200,#ff0200,#ff0700,#ff1200,#ff2200,#ff3300,#ff4800,#ff5e00,#ff7300,#ff8e00,#ffa900,#ffbf00,#ffda00,#fff000,#f3ff00,#e3ff00,#d3ff00,#c3ff00)"></div><div style="height:2px;background:linear-gradient(90deg,#ffe500,#ffca00,#ffa900,#ff8900,#ff6900,#ff4e00,#ff3300,#ff1d00,#ff0d00,#ff0200,#ff0003,#ff0009,#ff0009,#ff0200,#ff0d00,#ff1d00,#ff3300,#ff4800,#ff6300,#ff7e00,#ff9900,#ffb400,#ffd500,#fff000,#f3ff00,#deff00,#c8ff00,#b8ff00,#a8ff00)"></div><div style="height:2px;background:linear-gradient(90deg,#ffe500,#ffc400,#ffa400,#ff7e00,#ff5e00,#ff4300,#ff2800,#ff1200,#ff0200,#ff0009,#ff000e,#ff0013,#ff000e,#ff0003,#ff0700,#ff1d00,#ff3300,#ff4e00,#ff6900,#ff8900,#ffa900,#ffca00,#ffea00,#f9ff00,#deff00,#c3ff00,#adff00,#97ff00,#87ff00)"></div><div style="height:2px;background:linear-gradient(90deg,#ffe500,#ffc400,#ff9f00,#ff7900,#ff5800,#ff3800,#ff1d00,#ff0700,#ff0009,#ff0013,#ff0019,#ff0019,#ff0013,#ff0009,#ff0700,#ff1d00,#ff3800,#ff5800,#ff7900,#ff9900,#ffba00,#ffe000,#feff00,#deff00,#bdff00,#a2ff00,#8dff00,#77ff00,#61ff00)"></div><div style="height:2px;background:linear-gradient(90deg,#ffe500,#ffbf00,#ff9900,#ff7300,#ff4e00,#ff3300,#ff1200,#ff0003,#ff0013,#ff001e,#ff001e,#ff001e,#ff0013,#ff0009,#ff0d00,#ff2800,#ff4300,#ff6300,#ff8400,#ffa900,#ffcf00,#fff500,#e3ff00,#bdff00,#9dff00,#82ff00,#67ff00,#51ff00,#3bff00)"></div><div style="height:2px;background:linear-gradient(90deg,#ffe500,#ffbf00,#ff9400,#ff6e00,#ff4800,#ff2800,#ff0d00,#ff0009,#ff0019,#ff0023,#ff0023,#ff001e,#ff0013,#ff0003,#ff1200,#ff2d00,#ff4e00,#ff7300,#ff9900,#ffbf00,#ffea00,#eeff00,#c3ff00,#9dff00,#7cff00,#5cff00,#41ff00,#26ff00,#16ff00)"></div><div style="height:2px;background:linear-gradient(90deg,#ffe500,#ffba00,#ff8e00,#ff6900,#ff4300,#ff2200,#ff0700,#ff000e,#ff001e,#ff0029,#ff0029,#ff0023,#ff0013,#ff0200,#ff1800,#ff3800,#ff5e00,#ff8400,#ffaf00,#ffda00,#f9ff00,#cdff00,#a2ff00,#7cff00,#56ff00,#36ff00,#16ff00,#00ff00,#00ff16)"></div><div style="height:2px;background:linear-gradient(90deg,#ffe500,#ffba00,#ff8900,#ff6300,#ff3d00,#ff1800,#ff0003,#ff0013,#ff0023,#ff0029,#ff0029,#ff001e,#ff000e,#ff0700,#ff2200,#ff4800,#ff6e00,#ff9900,#ffc400,#fff500,#deff00,#adff00,#82ff00,#56ff00,#31ff00,#0bff00,#00ff10,#00ff2b,#00ff41)"></div><div style="height:2px;background:linear-gradient(90deg,#ffe500,#ffb400,#ff8900,#ff5e00,#ff3800,#ff1200,#ff0009,#ff0019,#ff0029,#ff0029,#ff0029,#ff001e,#ff0009,#ff1200,#ff3300,#ff5800,#ff7e00,#ffaf00,#ffe000,#eeff00,#bdff00,#8dff00,#5cff00,#31ff00,#05ff00,#00ff20,#00ff41,#00ff56,#00ff71)"></div><div style="height:2px;background:linear-gradient(90deg,#ffe500,#ffb400,#ff8400,#ff5800,#ff3300,#ff0d00,#ff0009,#ff001e,#ff0029,#ff0029,#ff0023,#ff0019,#ff0003,#ff1d00,#ff3d00,#ff6900,#ff9400,#ffca00,#fffb00,#cdff00,#97ff00,#67ff00,#36ff00,#05ff00,#00ff26,#00ff4b,#00ff6c,#00ff86,#00ff9c)"></div><div style="height:2px;background:linear-gradient(90deg,#ffe500,#ffb400,#ff8400,#ff5300,#ff2d00,#ff0d00,#ff000e,#ff001e,#ff0029,#ff0029,#ff0023,#ff0013,#ff0700,#ff2800,#ff4e00,#ff7e00,#ffaf00,#ffe000,#e3ff00,#adff00,#77ff00,#41ff00,#0bff00,#00ff26,#00ff51,#00ff76,#00ff97,#00ffb7,#00ffcc)"></div><div style="height:2px;background:linear-gradient(90deg,#ffe500,#ffaf00,#ff7e00,#ff5300,#ff2800,#ff0700,#ff0013,#ff0023,#ff0029,#ff0029,#ff001e,#ff0009,#ff1200,#ff3800,#ff6300,#ff9400,#ffc400,#feff00,#c8ff00,#8dff00,#51ff00,#16ff00,#00ff1b,#00ff51,#00ff7c,#00ffa7,#00ffc7,#00ffe2,#00fff7)"></div><div style="height:2px;background:linear-gradient(90deg,#ffe500,#ffaf00,#ff7e00,#ff4e00,#ff2800,#ff0700,#ff0013,#ff0023,#ff0029,#ff0023,#ff0013,#ff0200,#ff1d00,#ff4800,#ff7300,#ffa900,#ffe000,#e3ff00,#a8ff00,#67ff00,#2bff00,#00ff10,#00ff46,#00ff7c,#00ffa7,#00ffd2,#00fff7,#00ecff,#00d6ff)"></div><div style="height:2px;background:linear-gradient(90deg,#ffe500,#ffaf00,#ff7900,#ff4800,#ff2200,#ff0200,#ff0013,#ff0023,#ff0023,#ff001e,#ff000e,#ff0d00,#ff2d00,#ff5800,#ff8900,#ffbf00,#fffb00,#c3ff00,#82ff00,#46ff00,#05ff00,#00ff36,#00ff71,#00ffa7,#00ffd7,#00fffd,#00dbff,#00bbff,#00a5ff)"></div><div style="height:2px;background:linear-gradient(90deg,#ffe500,#ffaf00,#ff7900,#ff4800,#ff2200,#ff0200,#ff0013,#ff001e,#ff0023,#ff0019,#ff0003,#ff1800,#ff3d00,#ff6900,#ff9f00,#ffda00,#e8ff00,#a8ff00,#61ff00,#20ff00,#00ff20,#00ff61,#00ff9c,#00ffd2,#00fcff,#00d0ff,#00aaff,#008fff,#0079ff)"></div><div style="height:2px;background:linear-gradient(90deg,#ffe500,#ffa900,#ff7300,#ff4800,#ff1d00,#ff0200,#ff0013,#ff001e,#ff001e,#ff0013,#ff0200,#ff2200,#ff4e00,#ff7e00,#ffb400,#fff000,#cdff00,#87ff00,#41ff00,#00ff05,#00ff46,#00ff86,#00ffc7,#00fffd,#00d0ff,#00a5ff,#007fff,#0064ff,#004eff)"></div><div style="height:2px;background:linear-gradient(90deg,#ffe500,#ffa900,#ff7300,#ff4300,#ff1d00,#ff0200,#ff0013,#ff0019,#ff0019,#ff0009,#ff0d00,#ff3300,#ff5e00,#ff8e00,#ffca00,#f3ff00,#adff00,#67ff00,#20ff00,#00ff26,#00ff6c,#00ffb1,#00ffed,#00d6ff,#00a5ff,#0079ff,#0053ff,#0038ff,#0023ff)"></div><div style="height:2px;background:linear-gradient(90deg,#ffe500,#ffa900,#ff7300,#ff4300,#ff1d00,#ff0200,#ff0013,#ff0019,#ff0013,#ff0003,#ff1800,#ff3d00,#ff6e00,#ffa400,#ffe000,#d8ff00,#92ff00,#46ff00,#00ff00,#00ff4b,#00ff91,#00ffd7,#00ecff,#00b0ff,#007fff,#004eff,#002dff,#000dff,#0900ff)"></div><div style="height:2px;background:linear-gradient(90deg,#ffe500,#ffa900,#ff7300,#ff4300,#ff1d00,#ff0200,#ff000e,#ff0013,#ff000e,#ff0700,#ff2200,#ff4e00,#ff7e00,#ffba00,#fffb00,#bdff00,#77ff00,#2bff00,#00ff20,#00ff6c,#00ffb7,#00fffd,#00c6ff,#008aff,#0053ff,#0028ff,#0002ff,#1900ff,#2f00ff)"></div><div style="height:2px;background:linear-gradient(90deg,#ffe500,#ffa900,#ff6e00,#ff4300,#ff1d00,#ff0200,#ff000e,#ff000e,#ff0003,#ff1200,#ff3300,#ff5800,#ff8e00,#ffca00,#eeff00,#a8ff00,#5cff00,#0bff00,#00ff41,#00ff8c,#00ffd7,#00e1ff,#00a0ff,#0064ff,#002dff,#0002ff,#2400ff,#3f00ff,#5500ff)"></div><div style="height:2px;background:linear-gradient(90deg,#ffe500,#ffa900,#ff6e00,#ff4300,#ff1d00,#ff0200,#ff0009,#ff0009,#ff0200,#ff1800,#ff3d00,#ff6900,#ff9f00,#ffe000,#d8ff00,#8dff00,#41ff00,#00ff10,#00ff61,#00ffac,#00fff7,#00c0ff,#007fff,#0043ff,#000dff,#1f00ff,#4500ff,#6000ff,#7600ff)"></div><div style="height:2px;background:linear-gradient(90deg,#ffe500,#ffa900,#ff6e00,#ff4300,#ff1d00,#ff0700,#ff0003,#ff0003,#ff0700,#ff2200,#ff4800,#ff7900,#ffaf00,#fff000,#c3ff00,#77ff00,#26ff00,#00ff2b,#00ff7c,#00ffcc,#00e6ff,#00a0ff,#005eff,#0023ff,#1400ff,#3f00ff,#6500ff,#8100ff,#9600ff)"></div><div style="height:2px;background:linear-gradient(90deg,#ffe500,#ffa900,#ff6e00,#ff4300,#ff1d00,#ff0700,#ff0003,#ff0200,#ff1200,#ff2d00,#ff5300,#ff8400,#ffbf00,#f9ff00,#adff00,#61ff00,#10ff00,#00ff46,#00ff97,#00ffe7,#00cbff,#0084ff,#003eff,#0007ff,#2f00ff,#5a00ff,#8100ff,#9c00ff,#ac00ff)"></div><div style="height:2px;background:linear-gradient(90deg,#ffe500,#ffa900,#ff6e00,#ff4300,#ff2200,#ff0d00,#ff0200,#ff0700,#ff1800,#ff3800,#ff5e00,#ff9400,#ffcf00,#e8ff00,#9dff00,#4cff00,#00ff05,#00ff5b,#00ffac,#00fffd,#00b0ff,#0069ff,#0028ff,#1400ff,#4a00ff,#7600ff,#9600ff,#b100ff,#c700ff)"></div><div style="height:2px;background:linear-gradient(90deg,#ffe500,#ffa900,#ff6e00,#ff4300,#ff2200,#ff0d00,#ff0700,#ff0d00,#ff2200,#ff3d00,#ff6900,#ff9f00,#ffe000,#d8ff00,#8dff00,#36ff00,#00ff1b,#00ff71,#00ffc2,#00e6ff,#009aff,#0053ff,#0012ff,#2a00ff,#6000ff,#8b00ff,#ac00ff,#c700ff,#d700ff)"></div><div style="height:2px;background:linear-gradient(90deg,#ffe500,#ffa900,#ff6e00,#ff4300,#ff2200,#ff1200,#ff0d00,#ff1200,#ff2800,#ff4800,#ff7300,#ffaf00,#fff000,#c8ff00,#77ff00,#26ff00,#00ff30,#00ff81,#00ffd7,#00d6ff,#0084ff,#003eff,#0400ff,#3f00ff,#7000ff,#9c00ff,#bc00ff,#d700ff,#e800ff)"></div><div style="height:2px;background:linear-gradient(90deg,#ffe500,#ffa900,#ff6e00,#ff4300,#ff2800,#ff1200,#ff1200,#ff1800,#ff2d00,#ff5300,#ff7e00,#ffba00,#fffb00,#b8ff00,#6cff00,#16ff00,#00ff41,#00ff97,#00ffe7,#00c6ff,#0074ff,#002dff,#1400ff,#5000ff,#8100ff,#a700ff,#c700ff,#e200ff,#f300ff)"></div><div style="height:2px;background:linear-gradient(90deg,#ffe500,#ffa900,#ff7300,#ff4800,#ff2800,#ff1800,#ff1800,#ff1d00,#ff3800,#ff5800,#ff8900,#ffc400,#f9ff00,#adff00,#5cff00,#0bff00,#00ff4b,#00ffa1,#00fff7,#00b5ff,#0069ff,#0023ff,#1f00ff,#5a00ff,#8b00ff,#b100ff,#d200ff,#e800ff,#f800ff)"></div><div style="height:2px;background:linear-gradient(90deg,#ffe500,#ffa900,#ff7300,#ff4800,#ff2d00,#ff1d00,#ff1800,#ff2800,#ff3d00,#ff6300,#ff9400,#ffcf00,#eeff00,#a2ff00,#51ff00,#00ff05,#00ff56,#00ffac,#00fcff,#00aaff,#005eff,#0018ff,#2a00ff,#6000ff,#9100ff,#b700ff,#d700ff,#ed00ff,#fe00ff)"></div></div>
<svg width="1800" height="900" viewBox="0 0 1800 900">
<text x="900.00" y="56.90" font-size="16.67" text-anchor="middle" textLength="463.5" lengthAdjust="spacingAndGlyphs">XKS/II.PFO/20220805T043839.38/SKS.II.PFO.00*.mseed</text>
<text x="902.60" y="77.70" font-size="16.67" text-anchor="middle" textLength="243.5" lengthAdjust="spacingAndGlyphs">phi=-66.0±8.0 dt=1.25±0.29</text>
<path d="M275.6 175.7 L284.8 175.7 287.1 176.5 289.4 175 292.4 176.8 294.7 175.7 296.7 173.1 298.2 178.8 300.8 173.8 303.1 177.3 304.9 172.7 306.9 181.1 309.1 171.9 311.4 177.3 313.7 175 315.5 177.3 317.5 171.6 319 178.3 321.3 175 323.6 171.6 325.6 175.7 327.7 179.5 330.4 175.7 333.8 170.4 336.2 184.9 338.8 166.6 341.1 179.5 342.9 181.1 345.7 169.6 348 179.5 349.9 171.9 351 180.3 352.2 169.4 353.7 172.6 354.2 172.4 355 175 356.5 173.5 358 178.8 359.8 173.7 360.5 173.8 361.9 168.9 364.1 185.7 366.9 168.9 368.3 177.5 369 176.3 370.2 186.4 371.8 165.9 373.3 187.9 375.6 153.7 376.6 177.2 377 179.2 377.5 195.6 379.1 162.1 380.6 185.7 381.3 178.9 381.5 180.6 382.4 170.4 383.3 178.4 383.5 176.4 384.2 184.9 385.2 169.3 385.6 169.9 386.2 156.7 387.9 181.3 388.3 178.1 389.3 198.6 390.4 182.1 391 185.1 392.3 160.5 393.6 169.5 394.2 169.3 394.9 176.5 396.9 172.7 398.1 185.7 399.6 153.7 400.3 169.6 400.6 169.9 401.4 192.5 402.6 181.6 403.1 180.1 403.7 172 405.3 190.2 406.2 172.5 406.5 173.2 407.1 158.3 408.4 169.9 408.8 167.7 409.8 179.6 410.6 183.4 411.1 184.1 412.1 189.5 412.8 180.7 413.1 181.4 414.1 167.4 415.6 187.2 418.7 159.8 419.6 171 419.8 167.8 420.8 182.6 422 165.9 423.5 188.7 424.7 179 425.1 178.5 425.8 171.2 428.1 173.5 429.6 176.8 430.1 176.7 431.1 179.6 432.1 175.4 432.4 176.3 433.4 170.4 434.5 185.7 435.6 175.8 435.8 176.6 436.5 168.9 438.8 162.8 439.9 177.9 440.3 177 441 190.2 442.6 167.4 444.8 186.4 445.9 178.6 446.3 177.9 447.1 170.4 448.7 184.1 450.2 166.6 451.1 175.9 451.4 173.5 452.5 187.2 453.9 174.5 454.4 173.8 455.8 159 456.8 173.4 457.1 170.7 457.8 184.1 460.1 185.7 461.3 162.8 462.3 171.3 462.7 171.2 463.9 182.6 464.7 174.1 465 174.9 465.9 164.3 467.3 176.1 467.7 175.6 468.4 184.1 470 184.1 471.3 174 471.9 173.5 472.7 164.3 473.7 168.8 474.1 168.4 475.3 175 476.5 179.6 477.2 178.8 478.4 184.9 479.9 168.9 480.9 179 481.3 177.3 481.9 186.4 482.9 169.5 483.3 169.8 484 155.2 485.1 177.4 485.4 176.2 486 193.2 489 168.9 490.5 181.8 492.5 166.6 494.7 192.5 496 174.8 496.5 177.2 497.1 163.6 500.4 179.5 502.7 170.4 504.2 184.1 506.1 163.6 506.8 173.2 507.2 174.4 508.1 187.1 509 175.1 509.3 177.8 510.3 161.3 512.6 181.1 515.7 173.4 518.7 171.9 519.9 181.5 520.2 180.6 521 189.4 523 166.6 523.9 169.9 524.3 170.2 525.1 173.4 527.8 181.8 528.8 178.2 529.3 179.2 530.6 173.4 531.3 177.1 531.6 176.4 532.7 182.6 534.2 163.6 534.9 171.9 535.2 169.4 536.2 183.3 539.3 169.6 540.3 173.4 540.7 173.8 541.5 177.3 543.8 171.9 545.3 179.4 545.8 178.2 546.9 185.6 549.1 171.2 550.1 173.9 550.6 174 551.4 177.3 552.5 172.3 552.9 172.7 553.4 168.9 555.5 184.1 558 168.1 559.4 179.2 559.9 178.1 560.6 186.4 562.5 173.4 564 170.4 564.5 170.1 565.1 168.1 566.3 173 566.6 172.9 567.4 177.3 568.1 180.9 568.4 180.3 569.2 185.6 570.4 178.5 570.9 179.3 571.7 171.9 575 177.3 576.7 173.1 577.3 174 579.3 168.1 579.9 175.1 580.2 172.6 581.1 184.9 583.4 173.4 586 160.5 586.8 172.6 587.2 172.2 588 185.6 589.6 176 590.4 176 591.8 165.8 595.1 181.8 599.4 165.1 600.7 173.8 601.2 173.6 602.4 183.3 604.2 172.7 605.7 175.8 606.1 175.2 607 178 610 175 611 166.7 611.4 166.9 611.9 160.5 612.9 174 613.2 172.9 614.3 189.4 615.3 177.7 615.6 179.9 616.4 166.6 617.4 176.6 617.8 177 618.4 184.9 619.9 168.9 621.4 180.3 622.5 169.6 622.8 169.9 623.4 161.3 625.3 189.4 626.8 180.8 627.3 180.9 628.3 173.4 630.6 172.7 634.4 178 635.3 173.7 635.7 174.7 636.7 168.9 638.2 184.1 640.2 168.9 641.8 177.6 642.2 176.6 643.5 185.6 646.6 160.5 647.4 168.9 647.9 169.9 648.8 181.1 651.1 181.1 652 175.1 652.5 175.5 653.4 168.1 656.5 181.8 657.7 175.8 658.4 175.4 659.5 168.9 661.1 175.9 661.5 174.9 662.5 181.1 663.4 177.8 663.8 178.3 664.8 173.4 668.6 178.8 670.9 168.9 671.8 177.2 672.1 175.5 672.7 184.1 673.6 176.3 674 176.6 675.2 164.3 676.2 172.7 676.6 172.4 677.8 184.1 680.8 175 682 172.7 682.5 172.7 683.9 169.6 685.2 174.1 685.8 174.5 686.9 178.8 689.9 171.2 691.6 177.7 692.3 178.7 693 182.6 694 173 694.5 172.1 695.6 160.5 696.8 175.8 697.2 175.8 698 188.7 699.4 180.8 699.8 180.8 700.6 175 701.4 171.2 701.8 172.1 702.6 167.4 703.5 176.4 703.8 174.5 705.2 189.4 706.7 175.3 707.4 175 708.7 160.5 710 174.5 710.4 173.5 711.2 184.9 713.8 178.8 714.5 180 716.6 173.4 718 177.8 718.4 177.1 719.3 181.1 720.1 175.4 720.4 175.9 721.1 168.9 722.3 176.6 722.9 177.9 723.9 186.4 725.3 173.7 725.7 174.4 726.5 164.3 727.3 170.9 727.6 169.4 728.8 179.5 729.7 176.7 730 177.4 731 173.4 732.2 176.9 732.7 176.9 733.3 179.5 735 179.5 736.2 171.9 737.4 175 737.9 174.8 738.8 178 741.4 167.4 742.8 173.6 743.3 171.6 745.4 182.6 746.7 176.3 747.3 176.6 747.9 171.9 749.5 176.5 749.9 176.1 751 180.3 752.2 174.6 752.5 175.1 753.6 168.9 755 174.5 755.4 173.6 756.3 178.8 759 179.5 760.2 176.4 760.6 176.8 762.1 171.9 765.1 175 767.3 190.2 769.2 166.6 770.4 170.6 770.9 170 771.5 173.4 772.4 176.3 772.8 175.6 773.8 179.5 776.4 174.2 779.4 179.5 784 170.4 785.3 174.9 785.8 174.4 787.5 181.1 789 176 789.5 176.8 791 170.4 792.9 175.7 793.4 174.3 794.7 179.5 795.5 174.5 795.9 173.9 796.6 168.9 798.2 185.6 799 177.4 799.3 177.5 800.1 167.4 801 170.3 801.2 170.1 802 173.4 805 184.9 805.9 176.8 806.4 177.2 807.3 167.4 808.6 176.3 809 175.4 809.9 183.3 814.1 168.9 815.3 174.8 815.7 172.8 817.2 182.6 818.4 176.9 818.7 177.6 819.5 172.7 820.7 178.5 821.1 177.7 821.8 182.6 822.9 173.7 823.2 175.3 824 166.6 825.2 170.2 825.5 170.3 826.3 173.4 827.2 178.4 827.6 178.5 828.2 182.6 829.2 177.8 829.8 178.1 830.9 171.9 832.4 169 833.1 169.3 833.9 166.6 834.6 174.3 835 174.9 835.8 185.6 837.3 168.1 838.4 171.8 839 171.4 840 175.7 841.4 179.3 841.7 179.2 842.8 182.6 844.1 171 844.7 169.3 845.4 162 846.5 172.9 847.1 173.4 848.4 187.9 849.7 177.9 850.2 179 851.4 167.4 852.6 172.3 853 172.2 854.5 179.5 858.3 165.8 859.7 177.1 860.1 174.6 861 184.9 862.6 176.2 863.2 175.2 864.4 167.4 865.9 176 866.6 176.2 867.7 184.9 869.2 176.9 870 178.6 872 165.8 874.3 184.1 876.6 171.9 880.4 169.6 882.3 182.6 883.7 176.8 884.1 177.5 884.9 172.7 887.2 179.5 888.5 175.1 889 175.7 890.6 169.6 891.3 176.9 891.6 175.3 892.5 186.4 893.4 178.7 893.7 178.7 894.5 170.4 897.1 178 899.4 176.5 902.1 169.6 903.4 176.1 903.9 175.9 904.7 181.8 906.1 177.1 906.8 177.8 908.5 170.4 910.5 174.8 910.9 173.7 912.3 178 914.2 172.2 915.1 172.5 916.4 166.6 919.2 182.6 923.8 168.9 926.1 184.9 928.7 168.9 930.7 178 932.2 176.5 933.7 183.4 935.7 165.1 937.5 175 939.5 181.1 941.3 175 943.9 165.9 945.9 178 948.2 197.1 950.5 142.3 951.5 156.7 953.2 161.3 955.3 201.7 957.3 162.1 959.9 214.6 964.2 152.2 965.4 149.9 967.5 140 969 140.7 974.1 223.7 976.3 197.8 979.4 187.2 982.1 159.8 985.5 145.3 989.3 172 993.9 203.2 996.1 191.8 999.2 175 1003 155.2 1007.6 175 1009.8 189.5 1013.3 157.5 1015.9 179.6 1019 191 1022.8 169.7 1025.4 185.7 1028.1 167.4 1030 168.9 1033.8 184.1 1036.1 171.9 1037.6 189.4 1041.4 169.6 1044.9 187.9 1045.9 179 1046.4 179.2 1047.5 166.6 1049 174.2 1051.1 171.2 1051.9 170.9 1052.8 168.9 1055.1 178 1056 172.5 1056.4 172.4 1057.1 166.6 1058.1 176.5 1058.6 176.4 1059.7 190.2 1061.2 181.7 1061.9 181.7 1062.7 175 1064.1 190.5 1064.5 187.9 1065.3 200.8 1067.7 156.7 1069.3 175 1070 172.2 1070.3 172.6 1071.1 168.9 1072.3 175 1073.2 163.6 1073.4 166.2 1074.1 152.9 1074.8 164.7 1075.2 164.2 1076 181.1 1076.9 177 1077.3 176.9 1077.9 173.4 1079.5 187.9 1081.7 184.1 1082.6 184.3 1084 181.1 1088.1 165.8 1090.6 178 1093.6 165.8 1097 167.4 1097.9 181.3 1098.3 179.5 1099.3 197.8 1101 185.8 1101.6 185 1103.1 173.4 1104.6 182.6 1105.6 172 1106.1 170.3 1106.9 159.8 1110.7 185.6 1113 165.8 1114.1 172.9 1114.7 173.7 1116 182.6 1117.8 180.2 1118.5 180.3 1119.8 178 1121.3 185.6 1122.3 176.7 1122.7 178.9 1124.1 164.3 1125.9 177.3 1127.6 173.4 1128.2 173.7 1129.7 169.6 1136.5 183.3 1139.6 181.1 1142.6 158.2 1144.4 170.7 1145.2 171.2 1146.4 183.3 1149.5 185.6 1151.8 162 1152.9 171.7 1153.3 170.4 1154 179.5 1157.9 166.6 1159.4 177.5 1159.9 176.6 1160.9 186.4 1162.5 179.2 1163.3 179.2 1164.7 171.2 1167.4 176.3 1168.3 175.7 1170 180.3 1173.1 173.4 1174.6 178.5 1175.1 177.6 1176.4 183.3 1179.2 168.9 1180.3 176.8 1180.7 176.4 1181.4 183.3 1183 166.6 1184.1 176 1184.7 176.1 1185.6 185.6 1186.8 172.4 1187.2 174.6 1188.3 159.8 1189.5 171.5 1189.9 170.3 1190.6 179.5 1192.6 176.7 1193.5 176.2 1195.1 173.4 1196.1 176.5 1196.4 176.2 1197.4 180.3 1199.7 171.9 1203.2 188.7 1205.8 170.4 1207.2 168.1 1207.6 168.4 1208.8 165.8 1209.7 169 1210 168.1 1211.1 173.4 1212.2 179.5 1212.6 177.7 1213.9 186.4 1214.8 181 1215.1 182.5 1216.5 173.4 1218.7 181.1 1220.2 183.9 1220.8 183.7 1221.8 186.4 1223.1 170.8 1223.6 174 1224.5 158.2 1227.1 169.6 1228 175.5 1228.3 174.4 1229.4 183.3 1231.7 175 1233.2 172.4 1233.8 172.8 1235.2 169.6 1236 174.8 1236.4 174.5 1237 179.5 1238.6 181.7 1239.3 181.9 1240 183.3 1241 177.3 1241.3 177.3 1242.3 169.6 1243.4 175 1243.9 174.4 1244.6 179.5 1247.7 163.6 1249.2 165.1 1250.4 177.9 1251 177.1 1251.9 190.2 1253.2 184.9 1253.8 185.4 1254.5 181.1 1255.4 182.7 1255.7 182.3 1256.8 184.9 1259.1 175.8 1259.9 177.5 1261.4 168.9 1262.5 173.6 1262.8 172.8 1263.6 177.3 1265 174.6 1265.5 174.8 1267.1 171.2 1269.6 174 1270.6 174.1 1273.5 178 1278.1 178.8 1280.9 176.9 1281.9 177 1284.2 175 1288.8 174.2" fill="none" stroke="#000" stroke-width="2.08" stroke-linejoin="round" stroke-linecap="square"/>
<path d="M938.5 244.55V108.00" stroke="#00bfbf" stroke-width="2.78" stroke-dasharray="10.28 4.44"/>
<path d="M952.5 244.55V108.00" stroke="#00bfbf" stroke-width="2.78" stroke-dasharray="10.28 4.44"/>
<rect x="225.5" y="108.5" width="1113.0" height="136.0" fill="none" stroke="#000" stroke-width="1.11"/>
<path d="M276.5 244.5v4.36M322.5 244.5v4.36M368.5 244.5v4.36M414.5 244.5v4.36M460.5 244.5v4.36M506.5 244.5v4.36M552.5 244.5v4.36M598.5 244.5v4.36M644.5 244.5v4.36M690.5 244.5v4.36M736.5 244.5v4.36M782.5 244.5v4.36M828.5 244.5v4.36M874.5 244.5v4.36M920.5 244.5v4.36M966.5 244.5v4.36M1012.5 244.5v4.36M1058.5 244.5v4.36M1104.5 244.5v4.36M1150.5 244.5v4.36M1196.5 244.5v4.36M1242.5 244.5v4.36M1288.5 244.5v4.36" stroke="#000" stroke-width="1.11"/>
<text x="236.60" y="125.67" font-size="13.89" text-anchor="start">N</text>
<path d="M275.6 314.7 L284.8 314.7 287.1 315.5 289.4 313.7 292.4 315.5 294.2 316.7 296.2 312.1 298.5 317.3 300.3 315.8 302.3 310.6 304.3 318.5 306.4 311.7 307.9 317.8 309.9 308.6 311.9 321.3 314 314 316 307.9 318.3 321.6 321.6 309.4 324.7 321.9 327.4 311.2 329.7 317 332 314 334.7 310.2 337.8 320.8 339.9 310.2 341.9 317.8 343.8 314.7 346 310.2 348.4 324.6 350.5 306.4 353 316.3 354 314.7 354.3 314.8 355 318.6 356.4 313.4 356.9 314.8 358.4 307.9 359.6 315.6 359.9 314.4 360.8 321.6 361.8 317 362.2 318.2 363.4 311.7 364.9 316.3 366.4 310.2 367.5 312.1 367.9 312.1 368.7 314 370.2 330 370.9 319.4 371.3 319.6 372.1 304.9 373.1 314.9 373.4 313.2 374 321.6 375 312.3 375.4 311.7 376 304.1 377.5 323.9 379.1 304.1 380.1 336.8 381.4 319.2 381.9 322.1 383.2 298.8 385.2 326.2 386 319.6 386.3 320.4 387 314 388 325.5 388.2 323.6 388.8 333 389.5 317.5 389.9 319 390.8 296.5 391.6 312.2 391.8 307.2 392.8 330 395.4 295 397.9 326.2 398.9 313.2 399.1 313.6 399.9 301.1 401 313.1 401.4 313.2 402.2 324.7 403.1 316.3 403.5 316.1 404 308.7 405.6 330.8 406.4 311.9 406.8 310 407.5 288.1 408.6 304.9 409 304.1 410.1 326.2 411.6 308.7 412.9 330 414.7 294.2 416 316.5 416.4 317.8 417.1 333.8 419 304.1 421.2 318.6 422 303.3 423.8 324.7 426.9 305.6 428.2 313.8 428.5 313.1 429.3 320.1 430.5 318.2 430.8 318.3 431.9 316.3 432.8 311 433.2 311.8 434.2 304.1 435.4 314.8 435.8 313.8 436.5 322.4 437.5 318 437.8 318.1 438.4 314.8 439.2 311.4 439.6 311.7 440.6 306.4 442.1 323.9 444.8 318.6 445.8 314 446.3 313.9 447.1 308.7 447.9 314.3 448.1 313.1 449.1 321.6 450.1 315.7 450.5 315.7 451.2 309.4 452.3 315.8 452.6 314.8 453.2 320.1 454.1 311.9 454.4 311.9 455.2 303.3 456.7 330 457.9 315.5 458.5 314.2 459.3 301.1 462.4 326.9 465.4 306.4 467.5 312 468.1 310.3 470 317 470.9 311.3 471.3 312.2 472.3 304.1 473.4 318.2 473.7 316.5 474.3 327.7 475.5 318.4 475.9 319.9 476.8 310.2 477.7 314.1 478.1 314.2 478.8 318.5 479.8 323.5 480.1 323.3 480.7 326.9 482.2 306.4 484.5 317 486 307.9 487.5 333 489.5 297.2 492.1 312.4 493.2 316.3 493.6 315.7 494.4 319.3 496.6 308.6 497.9 315.6 498.5 316 500.1 326.1 502.3 304.8 503.2 308.9 503.6 308.3 504.7 314 507.7 323.1 508.7 315.1 509 316.8 509.6 309.4 510.5 314.9 510.9 314 511.9 321.6 516 304.8 517 313.6 517.5 314.5 518.4 323.9 520 314.4 520.7 313.4 522.1 303.3 522.9 315.5 523.2 312.2 524 329.2 526.6 309.4 528.5 314.2 529.3 313.8 530.6 318.5 532.1 313 532.7 313.7 533.6 308.6 535.1 320.8 536.3 315.2 536.6 316.2 537.7 309.4 539.3 320.8 540.1 315.5 540.4 315.1 541.2 308.6 542.6 313 543.1 313 544.6 318.5 545.5 309.2 545.9 310.5 546.4 302.6 548.8 324.6 550.1 321.3 550.5 321.8 551.4 318.5 553.7 299.5 555.2 317.1 555.6 317.1 556.5 330 557.2 320 557.6 321.5 558.6 305.6 560.5 315.3 561 315 562.1 322.3 563.2 315.8 563.7 316.9 565.1 306.4 566.6 312.8 567.4 312.6 568.9 320.8 570.1 315.6 570.7 314.7 571.7 309.4 573.7 318.2 574.3 316.6 575.8 325.4 576.9 313.5 577.4 314.3 578.4 301 580 313.7 580.6 311.4 581.9 325.4 585.7 307.9 587.1 320.1 587.6 319.6 588.4 329.2 589.4 314.5 589.8 317.6 590.5 301 593 321.6 594 324.5 594.4 323.7 595.6 327.7 596.7 317.1 597.1 317.9 597.9 307.9 599.2 311.3 599.8 311.1 601.2 315.5 603.3 322.1 604.3 321.8 605.8 328.4 607.1 315.7 607.5 319 608.5 305.6 611.1 317.3 612 315.7 613.4 325.4 614.5 315 614.8 317.3 615.8 304.8 617.3 327.7 618.7 320 619.3 320.9 620.7 310.9 625.3 312.4 626.6 316.9 627 316.8 628.3 321.6 630.2 310.8 630.8 312.1 632.1 301.8 634.4 325.4 636.4 315.1 637 316.7 638.2 307.9 639.4 315.6 639.9 314.4 640.8 322.3 641.8 315.3 642.2 315.7 642.8 310.2 646.6 307.9 648.4 317.6 649 317.7 649.9 324.6 654.5 307.9 655.2 313.8 655.6 314.5 656.5 323.1 657.5 313 657.8 314.6 658.7 302.6 659.7 312.9 660.1 310.9 661.5 327.7 666.3 308.6 668.8 315.3 669.7 315.2 670.9 320.1 672.2 314.1 672.8 314.1 673.7 308.6 677 318.5 678.4 313.1 678.9 313.1 680.4 306.4 681.5 314.5 682 314.4 683.1 323.9 684.2 315.5 684.8 316.2 686.1 304.1 687.2 310.9 687.6 309.9 689.2 320.8 691.4 314.2 692.7 313.9 695 305.6 697.5 320.8 699.5 309.4 702.1 317 703.1 316.7 704.7 323.1 706.7 308.6 708.7 314.3 709.6 314.4 711.7 321.6 713.6 316.6 714.4 316.6 715.8 311.7 719.6 310.2 721.1 315.2 721.5 314.9 722.7 320.1 726 314.2 727.2 315.1 729.5 309.4 731.5 317.1 732.2 316.8 733.3 323.1 735 323.1 736.1 318.3 736.4 318.8 737.3 314 738.8 311.8 739.3 312.2 740.3 310.2 741.8 314 743.4 318.2 743.8 318.1 744.9 321.6 746.1 319.9 746.6 319.9 747.9 317.8 749.3 311.7 749.8 312.3 750.5 307.1 751.3 313.4 751.7 312.5 752.5 320.8 756.3 309.4 758.6 323.1 759.8 315.5 760.2 316.9 761.6 306.4 762.7 312.8 763 312.5 763.9 319.3 764.9 315.2 765.3 315.6 766.2 310.9 767.3 321.6 769.2 309.4 770.8 320.8 772 314.4 772.3 314.4 773.1 309.4 774 315.4 774.3 315.4 774.9 320.1 777.1 314.3 777.8 315.4 779.4 309.4 781.3 316.2 782 315.5 782.9 320.8 783.9 311.8 784.2 313 784.9 304.1 786 312.6 786.5 310.9 787.5 321.6 789.1 315.5 789.7 316.8 791.3 308.6 792.6 313.4 793.2 313.5 794.4 318.5 796.1 315.9 796.6 316.1 797.7 314 798.9 318.6 799.2 318.5 800.1 323.1 801.1 311.7 801.6 310.9 802.3 300.3 803.5 314.9 804 315.2 804.7 326.1 805.6 317.3 805.9 317.9 806.5 309.4 807.2 315.1 807.5 314.7 808.4 323.1 810.8 308.6 812.3 314.1 812.7 313.3 813.8 318.5 815.7 306.4 817.1 315.6 817.6 314.8 818.4 322.3 819.6 313.9 820.3 315.1 821.8 302.6 822.6 312 822.9 309.9 823.6 320.8 824.6 314.7 825.1 314.5 826 307.9 826.8 314.9 827 315 827.8 323.9 830.1 311.7 832 309.6 832.9 309.6 834.7 307.1 836.4 315.9 837 316.6 838.2 323.9 841.5 309.4 843.4 326.9 844.4 317.8 844.9 317.8 845.8 307.9 847 310.7 847.4 309.9 848.9 314 850.7 316.1 851.7 315.9 853.4 318.5 856.8 320.8 859.5 304.8 860.4 311.3 860.8 310.4 861.6 318.5 863 316.3 863.6 316.2 864.7 314 867.1 324.6 868.3 312.8 868.7 311.8 869.2 304.1 870.2 314.1 870.6 314.2 871.2 323.1 872.3 312.1 872.6 312.8 873.2 304.1 874.1 314.3 874.5 313.5 875.3 325.4 876.8 317.7 877.3 317.5 878.1 311.7 879.4 308.5 880 309.1 881.4 304.8 882.7 317.3 883 315.5 883.9 326.9 885 318.8 885.4 319.6 886.4 310.2 888.2 316.2 888.8 316 890.3 322.3 891.3 315.2 891.9 315.2 893 306.4 893.9 313.9 894.2 313.5 894.8 320.1 898.2 308.6 899.9 313.8 900.5 314 901.7 318.5 903.4 311.9 904.2 311.4 905.2 306.4 906.1 313.9 906.5 312.7 907.3 320.8 909.7 314 910.7 314.7 911.9 309.4 913.1 313 913.6 312.4 914.6 316.3 916 313 916.4 313 917.3 310.2 919.2 323.1 921.5 307.9 923 322.4 925 306.4 926.9 321.6 929.1 307.9 931.4 318.6 934.5 321.6 938.3 311 940.6 320.1 942.8 312.5 945.1 317 947.1 333.8 949.7 287.4 951.2 297.3 953.2 311 955.3 357.4 958.1 312.5 959.3 321.6 961.1 292.7 962.9 311 964.5 288.1 966.9 333 970.3 298.8 974.1 341.4 976.3 333.8 977.9 338.4 982.1 297.3 985.2 282.8 987.8 318.6 989.7 309.4 994.3 343.7 997.7 305.6 999.5 314.8 1002.2 301.1 1004.5 303.3 1006.5 323.1 1008 309.4 1009.8 333 1012.9 301.1 1017.2 333.8 1019.7 304.1 1021.3 327.7 1025.1 312.5 1027.4 309.4 1030 314 1031.8 304.8 1033.1 314.3 1033.7 313.7 1034.9 324.6 1036.5 314.8 1037.2 313.5 1038.4 304.8 1040.5 317.6 1041.3 317.5 1042.5 327.7 1046.4 307.9 1047.5 313.2 1047.9 313.7 1048.6 317.8 1050.4 306.1 1051 308.4 1052.8 293.4 1054 308.2 1054.3 308.7 1055.1 321.6 1056.1 316.2 1056.4 316.9 1057.1 311.7 1059.5 327.4 1060.3 327.5 1061.7 339.1 1064.2 314 1066.1 311.5 1066.7 311.6 1068.1 309.4 1070 301.8 1070.5 302.3 1071.9 295.7 1073.4 306.1 1073.9 306.3 1074.9 314.7 1077.9 312.4 1081.8 330 1084.5 320.1 1086 330.7 1086.9 316.7 1087.2 317.1 1088.1 299.5 1089.2 302.5 1089.5 302.6 1090.1 304.8 1092.7 318.5 1093.7 312.2 1094.1 311.9 1095.1 304.1 1098.8 332.2 1101.4 317.9 1102.4 318.3 1103.8 307.1 1106.1 325.4 1107.7 314.5 1108.3 316.9 1109.9 302.6 1111.6 313.4 1112.3 314.2 1113.4 323.1 1114.8 317.7 1115.2 318.7 1116.5 312.4 1118 327.7 1119 318.6 1119.4 318.9 1119.8 312.4 1120.7 317.2 1120.9 317.1 1121.6 321.6 1124.1 303.3 1125.9 306.4 1129.2 322.3 1130.2 317.2 1130.5 318.5 1131.7 310.9 1132.9 318.4 1133.3 317.9 1134.3 325.4 1135.3 316.7 1135.8 317.3 1136.8 306.4 1138.2 319.7 1138.8 319.5 1139.6 330.7 1140.9 316.7 1141.4 316.5 1142.3 304.1 1144.5 306.4 1145.6 311.3 1146 310.9 1147.2 317 1147.9 315.1 1148.1 315.5 1149 312.4 1150.5 325.4 1151.8 319.2 1152.3 318.9 1153 314 1154.3 310.6 1154.8 311.2 1156.3 306.4 1159.4 322.3 1161.7 304.8 1162.5 313.1 1162.9 312.3 1163.6 321.6 1165.2 316.2 1165.7 316.4 1167 310.9 1168.6 322.8 1169.3 322.3 1170 330.7 1171.5 318.8 1172.1 317.9 1173.4 304.8 1174.9 317 1176 315 1176.6 314.9 1177.6 312.4 1178.7 310.6 1179.1 311 1180.7 307.9 1182.5 318.5 1183.2 315.9 1184.9 329.2 1187.5 303.3 1188.4 310.7 1188.7 309.2 1189.5 318.5 1191.3 302.6 1192.3 313.9 1192.6 313.2 1193.2 322.3 1194.1 315.1 1194.4 315.6 1195.1 307.9 1196.7 324.6 1197.7 316.1 1198 315.7 1198.6 308.6 1199.6 315.7 1199.8 315.3 1200.5 321.6 1201.6 319.6 1202.1 320.1 1203.5 317 1204.7 312.6 1205.1 312.8 1205.8 309.4 1206.9 320.1 1207.6 312.3 1207.9 313.3 1208.8 301.8 1209.8 309.7 1210.1 310 1211.1 320.1 1212.6 304.1 1213.3 311.3 1213.5 309 1214.5 321.6 1216.5 307.9 1217.5 316.3 1217.8 314.2 1218.7 323.9 1220.3 312.4 1222.5 320.1 1224.8 317 1226.1 312.8 1226.6 313.3 1227.9 307.9 1231.2 320.8 1232.3 316.8 1232.6 317.3 1233.2 314 1234.7 317.8 1235.3 316.8 1236.7 321.6 1237.7 311.4 1238.3 312.6 1239.3 299.5 1240.5 315.6 1240.9 313.2 1241.6 326.1 1243.9 307.1 1246.1 307.9 1248.9 323.1 1249.5 318.6 1249.8 319.7 1250.7 312.4 1251.6 315.8 1251.9 315.5 1253 320.1 1253.9 317.3 1254.3 317.7 1255.3 314 1258 312.4 1262.9 309.4 1264.5 313 1265.1 312.6 1265.9 315.5 1268.2 312.4 1272 317.8 1275.4 318.5 1277.6 316.1 1278.8 316.5 1281.1 313.2 1288.8 315.5" fill="none" stroke="#000" stroke-width="2.08" stroke-linejoin="round" stroke-linecap="square"/>
<path d="M938.5 383.83V247.28" stroke="#00bfbf" stroke-width="2.78" stroke-dasharray="10.28 4.44"/>
<path d="M952.5 383.83V247.28" stroke="#00bfbf" stroke-width="2.78" stroke-dasharray="10.28 4.44"/>
<rect x="225.5" y="247.5" width="1113.0" height="136.0" fill="none" stroke="#000" stroke-width="1.11"/>
<path d="M276.5 383.5v4.36M322.5 383.5v4.36M368.5 383.5v4.36M414.5 383.5v4.36M460.5 383.5v4.36M506.5 383.5v4.36M552.5 383.5v4.36M598.5 383.5v4.36M644.5 383.5v4.36M690.5 383.5v4.36M736.5 383.5v4.36M782.5 383.5v4.36M828.5 383.5v4.36M874.5 383.5v4.36M920.5 383.5v4.36M966.5 383.5v4.36M1012.5 383.5v4.36M1058.5 383.5v4.36M1104.5 383.5v4.36M1150.5 383.5v4.36M1196.5 383.5v4.36M1242.5 383.5v4.36M1288.5 383.5v4.36" stroke="#000" stroke-width="1.11"/>
<text x="236.60" y="264.95" font-size="13.89" text-anchor="start">E</text>
<path d="M275.6 454.5 L281.7 454.5 284 455.3 286.3 453.7 289.4 455.3 292.1 452.7 294.2 456.3 296.2 453.3 297.7 455.7 299.7 450.2 301.5 462.9 303.8 446.6 305.3 457.5 306.9 451.4 309.1 460.6 311.9 446.9 314.5 460.6 316.4 448.4 318 465.9 319.5 440.5 321.6 468.2 323.6 439.3 325.1 469 327.4 443.8 329.2 460.6 330.8 447.6 332.7 462.9 334.7 441.6 336.5 459.8 338.8 450.7 340.8 459.1 344.5 448.4 348 460.6 349.9 444.6 352.1 456.8 352.9 452.5 355 465.2 357.3 441.6 361.1 465.9 362.1 447.7 362.4 449.3 362.9 435.5 364 452.3 364.3 447.8 365.4 469 366.9 446.1 368.4 433.2 369.2 462.1 369.5 459.5 370.2 494.9 371.1 471.5 371.5 474 372.1 450 373.6 456 375.1 436.3 376.3 466.5 376.6 462.3 377.5 492.6 379.1 425.6 380.1 492.6 382.1 420.3 383.6 485 385.2 433.2 385.9 459.5 386.2 458.7 387 491.1 388.2 416.5 389.7 495.6 390.9 422.5 391.9 440.4 392.2 439.5 393.1 459.1 394.3 428.8 394.6 429.3 395.4 405 396.9 485 399.9 407.3 401.3 455 401.9 452.7 403 501 404.2 464.1 404.7 467.6 405.3 440.1 406.1 432.4 406.4 434.6 407.5 421.8 409.8 445.4 411 475.2 411.4 466.9 412.6 504 413.6 464.1 413.9 465.9 414.7 430.2 415.9 459.1 416.4 455.5 417.1 483.5 417.8 454.5 418.2 456.7 419 418.7 420.5 474.3 422 427.1 423.3 452.2 423.6 451.7 424.7 477.4 425.8 461 426.3 461.1 427.3 441.6 428.3 437.2 428.7 437.7 429.6 432.4 430.8 453 431.3 449.7 432.4 474.3 434.9 440.1 436.5 469.8 438.2 462.5 439 461.9 440.3 455.3 441.9 448.2 442.3 449.5 443.3 443.1 444.4 458.1 444.7 456 445.6 472 447.4 453.9 448 455.5 449.4 437 452.5 460.6 454 449.2 455.2 465.2 456.7 441.6 458.1 454.8 458.6 450.9 460.1 469 461.5 454.3 461.9 455 463.1 440.1 464.6 459.1 466.5 447.1 466.9 450 468 439.3 468.7 448.6 469 446.2 470 460.6 471.8 449.3 472.2 449.9 473.3 440.8 474.3 453.7 474.6 452.3 475.3 465.1 476.8 444.6 478.4 480.4 479.9 443.8 481.4 455.3 482.4 450.9 482.7 451.7 483.4 447.6 485.2 449.9 486.4 443.1 488 469.7 489.8 462.1 491.3 448.4 492.2 442.3 492.5 444.1 493.6 435.5 495 452.4 495.7 451.8 496.6 467.4 498.9 437.8 499.7 452.4 500 451.4 500.7 468.2 501.7 457 502.2 455.8 503.2 442.3 504 449 504.2 447.1 505 456 506.2 452.4 506.5 453.1 507.3 449.9 508.2 455.3 508.6 453.9 509.9 462.9 512.9 444.6 514.2 453.3 514.6 453.2 515.7 462.1 518.4 441.6 519.2 456.7 519.5 456.7 520.2 472.8 521.5 454.1 521.8 457.6 522.5 441.6 524 469 526.6 444.6 527.8 462.1 529 451.9 529.3 452.6 530.1 443.8 530.9 450.8 531.2 448.8 532.1 459.8 533.6 450.7 534.7 459.3 535.1 458.5 535.8 465.9 537.2 455.8 537.7 456.5 538.8 446.9 539.7 451.5 540 451.4 540.8 456 542.3 449.2 543.3 456.9 543.7 456.3 544.6 465.1 545.4 456.8 545.6 458.7 546.4 447.6 548.4 457.5 549.5 460.7 549.7 460.1 550.7 463.6 551.5 457.7 551.9 458.7 553 449.9 554.9 442.3 555.7 450.4 556 449.2 557.1 461.3 558.6 451.4 561 466.7 563.2 446.1 564.2 456.6 564.5 456.7 565.1 465.1 568.2 439.3 569.7 452.2 570.2 451.3 572.3 471.2 573.5 455.8 574.1 457.8 575.3 438.5 576.6 453.1 577 450.4 578.1 466.7 580.8 440.8 582.1 451.6 582.6 450.5 583.4 459.8 587.2 438.5 588.2 456.1 588.6 455 589.5 475 590.6 461.3 591 460.1 591.8 448.4 594.8 450.7 596.3 460.8 596.7 458.7 597.9 469 600.6 433.9 603.2 462.1 604.2 459.2 604.5 459.6 605.2 456.8 606.1 460.5 606.3 460.3 607 463.6 607.8 457.3 608.2 458.3 608.8 451.4 611.6 437.8 612.5 447.1 612.8 446.6 613.8 458.3 615.1 461.1 615.8 461.3 617.3 465.1 618.8 456.8 619.2 457 620.7 447.6 621.8 452.9 622.4 453.1 623.4 459.1 624.9 444.6 625.9 456.7 626.3 455.5 627.1 469.7 629.5 444.6 630.3 451.9 630.6 452.2 631.3 460.6 632.6 455.3 633.1 454.8 633.6 451.4 635.4 456.1 636 455.6 637.1 459.8 638.2 444.9 638.6 445.4 639.3 432.4 641.2 461.3 642.2 449.5 642.6 449.8 643.2 439.3 644 462.3 644.3 461.6 645 488.7 647.8 431.7 648.5 444.1 648.8 442.1 649.6 458.3 650.7 461.3 651.2 461.1 652.3 465.1 653.7 446.2 654.1 448.3 654.9 431.7 655.6 446.3 656 446.4 656.9 468.2 657.9 456.8 658.2 458 659 446.1 660.1 448.8 660.7 449.1 662.1 453 664.1 468.2 665.1 458.7 665.7 457.6 666.7 446.9 669.7 444.6 673.2 469 674.8 454.9 675.5 458.2 677.3 438.5 678.6 457.9 678.9 454.2 679.7 472.8 682.3 438.5 683.5 447.1 683.8 446.5 684.9 456 686.2 458.3 686.8 457.8 688 460.6 689.4 452.8 690.1 452 691.5 443.1 692.7 456.1 693 452.7 693.7 464.4 695 455 695.4 456.8 696.5 446.1 697.3 453.2 697.6 452.2 698.3 460.6 699.8 443.8 700.8 456.6 701.1 456.2 701.7 465.9 702.7 451.6 703.1 451.9 703.6 441.6 707.1 467.4 708.8 450.9 709.3 450.2 710.2 438.5 711.8 451.7 712.2 451.2 713.2 461.3 714 463.3 714.3 462.9 715.4 465.9 716.7 451 717.2 452.5 717.8 441.6 720.4 460.6 721.1 451.8 721.5 451.1 722.4 438.5 723.2 450.5 723.5 450 724.5 466.7 729.5 443.8 730.6 453.1 730.9 453.9 731.8 462.9 733.3 457.5 735 451.4 735.9 456.6 736.2 456.6 736.8 461.3 739.3 450.7 740.2 450.5 741.4 443.1 742.6 454.9 743 452.3 743.8 464.4 744.8 460.8 745.3 461.3 746.4 456 747.7 454.2 748.3 454.5 749.5 452.2 750.2 454.5 750.5 454.5 751.4 457.5 754 444.6 755.6 453 756.2 453.4 757.1 459.8 759.1 457.1 760.1 457.6 762.4 453.7 763.6 459.1 764.9 452.2 765.4 452.9 766.2 446.9 767.2 452.9 767.4 452.6 768.2 458.3 769.1 460.9 769.4 460.6 770 462.9 770.9 454.8 771.3 456 772.3 444.6 773.3 451.3 773.7 450.6 774.9 460.6 775.7 457.8 776 457.9 776.9 454.5 779.9 444.6 781.3 457.6 781.8 457.1 782.5 466.7 785.2 446.1 787.5 457.5 791.3 457.5 792.8 446.1 795.6 465.1 796.6 456.3 797 456 797.7 448.4 798.7 455.4 799.1 454.9 799.7 460.6 800.7 455.2 801.1 456.1 802 449.9 803.3 458 803.8 456.7 805.3 467.4 806.5 454.6 807 456.8 807.8 444.6 810.3 445.4 811.9 470.5 814.1 436.2 815.4 446.9 815.8 446.4 817.2 460.6 819.4 446.2 820.2 447.1 821.5 435.5 822.1 449.5 822.4 446.6 823.3 469 824.2 460.5 824.7 461.2 826 447.6 828.2 451.4 829.8 458.8 830.5 458.8 831.7 465.9 832.9 453.8 833.3 456.8 834.7 439.3 838.5 463.6 839.6 454.8 840 456.3 841.5 442.3 844.6 457.5 847.9 445.4 848.9 454.7 849.2 454.1 849.9 463.6 852.5 443.8 855.5 460.6 858 456 859.5 447.3 860.2 448 861 440.8 862.4 457.8 863 455 864.1 472.8 865.6 434.7 866.9 451.8 867.3 450.1 868.2 465.9 870.5 456 872.2 450.4 872.6 451.3 873.8 446.1 875 453.9 875.4 453.2 876.2 460.6 878.8 449.9 881.9 451.4 883.1 458 883.5 456.4 884.9 465.9 886.3 453 887 453.8 888 440.8 889.1 449.1 889.5 447.4 890.3 455.3 891.2 458.1 891.7 457.7 893 462.1 893.8 456.4 894.1 458 895.1 449.2 899.1 469 899.9 453.3 900.2 456.8 900.9 439.3 902 449.2 902.3 445.9 903.6 460.6 904.8 462.8 905.2 462.7 905.8 464.4 907.2 454.3 907.8 453.8 908.5 446.9 909.6 450.3 910.1 450.4 911.3 454.5 912.4 451.3 912.9 451.7 914.3 446.9 915.4 459.6 915.7 458.4 916.4 470.5 919.2 446.9 921.5 448.4 923.4 457.6 925.8 441.6 927.9 460.6 929.1 462.1 931.4 441.6 934 464.4 936 450 937.1 457.6 939 447.7 940.6 460.6 942.8 453 945.9 448.4 947.4 462.9 950.5 459.1 952.7 448.4 955.8 438.5 957.8 463.7 959.6 437.8 961.9 478.9 964.2 443.1 966.4 468.2 969 475.8 971.8 435.5 973.6 433.2 975.6 451.5 977.6 446.9 979.1 453 981.7 469.8 983.7 466.7 985.8 444.6 987.8 469 990.4 436.3 992.3 459.1 994.6 444.6 996.1 459.1 998 438.5 1000.7 469 1004.1 437.8 1006.8 479.7 1009.1 465.2 1011.7 425.6 1014.1 463.7 1016.2 446.1 1019 460.6 1021.3 472 1025.1 448.4 1030 439.3 1031.5 460.6 1032.3 456.3 1032.7 456.9 1033.3 452.2 1034.3 459.1 1034.8 457.3 1036.1 469 1038.4 455.3 1040.7 464.4 1044.5 441.6 1045.7 446.4 1046.1 446.6 1046.7 449.9 1048.3 449.2 1049.8 462.1 1051.3 460.6 1052.3 450.4 1052.8 451.4 1054 435.5 1055.3 455.7 1055.7 453.4 1056.6 473.5 1057.8 465.5 1058.2 467.3 1058.9 459.8 1060.4 466.7 1062.7 463.6 1064.7 438.5 1065.4 445.2 1065.7 445.8 1066.5 455.3 1069.3 443.8 1070.8 451.4 1071.6 449.8 1072 450.1 1072.9 447.6 1073.7 452.4 1073.9 451.8 1074.9 459.1 1076.9 466.7 1077.9 461.3 1078.3 461 1079 456 1080.3 465 1080.8 465.9 1081.8 474.3 1083 450.2 1083.6 449.1 1085.1 416.4 1087.1 469.7 1087.8 459.6 1088.3 457.7 1089.1 445.4 1090.9 468.2 1091.8 460.2 1092.1 461.9 1092.7 454.5 1093.7 462.4 1094 462.3 1094.7 469 1095.7 455.2 1096 456 1097 440.8 1099.3 442.3 1101.2 471.2 1102.3 452 1102.6 453.9 1103.4 435.5 1104.2 449.8 1104.4 446.8 1105.3 466.7 1106.6 460.8 1107.1 461.7 1107.9 456 1108.7 451.1 1109.1 451.6 1109.9 445.4 1111.2 455.3 1111.6 454.2 1113 466.7 1116.8 448.4 1118.3 455.3 1119.7 449.4 1120.1 450.4 1121 445.4 1122 452.7 1122.4 452 1122.8 457.5 1125.9 468.2 1128.2 438.5 1129.4 451.6 1129.7 449.3 1130.5 460.6 1131.7 456.5 1132.1 456.7 1133.5 451.4 1135.4 456.8 1136.1 456 1137.8 462.1 1138.9 450.3 1139.3 450.4 1139.9 441.6 1141.6 452.4 1142.2 452.4 1143.4 462.1 1144.9 451.4 1145.8 456 1146.2 455.1 1147.2 461.3 1149.2 458.3 1149.7 459 1151 456 1152.6 445.1 1153 448 1154.5 434.7 1156.3 459.8 1157.9 453 1158.7 460.8 1159 459.8 1160.1 471.2 1161.1 461.3 1161.6 462.6 1162.4 451.4 1163.4 456.3 1163.8 456.2 1164.7 462.1 1165.5 449.4 1165.8 448.9 1166.7 433.2 1167.8 442.6 1168.1 440.9 1168.8 449.9 1170.3 443.8 1171.9 478.8 1172.7 461.3 1173.1 463.7 1174.3 436.2 1176.1 463.6 1177.9 451.4 1179 447 1179.4 446.8 1180.7 440.8 1181.8 453.7 1182.2 452.1 1183 464.4 1184.4 459.9 1184.9 460.4 1186 456 1188.6 443.1 1191.3 459.8 1194.4 451.4 1196.7 451.4 1197.5 457.6 1197.8 456.9 1198.6 464.4 1200.1 454 1200.6 455.1 1201.7 444.6 1204.3 460.6 1205.4 454.8 1205.8 455.6 1206.6 449.9 1208.4 448.4 1209.5 458.2 1210 456.6 1210.8 466.7 1211.8 451.5 1212 453.7 1212.6 440 1215.4 469.7 1218 447.6 1218.8 451.5 1219.3 452.1 1220.3 457.5 1221.8 449.9 1224.8 446.9 1227.6 463.6 1229 459.2 1229.3 459.3 1230.2 456 1234 452.2 1234.9 448.4 1235.2 448.9 1236.2 443.8 1237.3 454.8 1237.6 455 1238.2 462.9 1239.5 455.4 1240 454.4 1240.8 448.4 1242.4 458 1242.8 455.9 1243.9 465.1 1244.7 463.2 1245.1 463.6 1246.1 460.6 1247.4 453.7 1248 452.6 1249.5 443.1 1250.8 449.8 1251.3 449.6 1252.2 456 1253.5 458.2 1254.1 458.3 1255.6 461.3 1257.5 459.1 1260.6 448.4 1264.4 451.4 1266.1 455.3 1266.8 455 1267.7 458.3 1270.5 454.5 1274.3 452.2 1276.6 456 1282.7 453 1288.8 454.5" fill="none" stroke="#000" stroke-width="2.08" stroke-linejoin="round" stroke-linecap="square"/>
<path d="M368.4 522.44V386.56" stroke="#00bfbf" stroke-width="2.78"/>
<path d="M376.6 522.44V386.56" stroke="#000" stroke-width="2.78"/>
<path d="M942.5 522.44V386.56" stroke="#f00" stroke-width="2.78"/>
<path d="M950.5 522.44V386.56" stroke="#008000" stroke-width="2.78"/>
<rect x="225.5" y="387.5" width="1113.0" height="135.0" fill="none" stroke="#000" stroke-width="1.11"/>
<path d="M276.5 522.5v4.36M322.5 522.5v4.36M368.5 522.5v4.36M414.5 522.5v4.36M460.5 522.5v4.36M506.5 522.5v4.36M552.5 522.5v4.36M598.5 522.5v4.36M644.5 522.5v4.36M690.5 522.5v4.36M736.5 522.5v4.36M782.5 522.5v4.36M828.5 522.5v4.36M874.5 522.5v4.36M920.5 522.5v4.36M966.5 522.5v4.36M1012.5 522.5v4.36M1058.5 522.5v4.36M1104.5 522.5v4.36M1150.5 522.5v4.36M1196.5 522.5v4.36M1242.5 522.5v4.36M1288.5 522.5v4.36" stroke="#000" stroke-width="1.11"/>
<text x="236.60" y="404.23" font-size="13.89" text-anchor="start">Z</text>
<path d="M275.6 593.7 L284.8 593.7 287.1 593 289.4 595.3 292.4 592.7 294.2 592.7 296.2 597.5 298.5 589.9 301.2 596 303.8 590.7 305.8 593.7 307.6 589.6 309.4 599.4 311.9 588.4 314.5 597.5 316 594.5 318.6 588.4 321.6 596.8 324.7 591.1 326.6 596 328.6 591.1 332 595.7 334.3 598.8 336.5 586.6 339.3 599.1 341.9 589.2 343.8 593 346 600.3 348.4 586.9 350.5 596.8 353.3 590.7 355 590 356.5 594.1 357 593.7 358.4 598.3 360.3 587.7 361.3 593.9 361.7 594.4 362.3 599.1 364.4 586.9 365.3 593.4 365.7 593.5 366.4 600.6 367.3 596.6 367.6 597.1 368.7 591.5 370.2 575.5 371.8 607.5 372.5 596.4 372.8 596 373.6 582.3 375.1 614.3 376.3 593.6 376.8 591.9 377.5 574.7 378.6 610.5 380.1 570.9 381.3 588.1 381.7 587.5 382.4 601.4 384.4 580.1 385.2 592 385.5 592.3 386.2 605.2 387.7 584.6 388 587.4 389.3 565.6 390.8 609.8 391.8 597.2 392.1 599.6 392.8 587.7 395.4 610.5 396.9 579.3 398.3 601.4 398.7 602.6 399.5 618.1 400.3 597.4 400.7 602.1 401.4 577 402.3 587.5 402.7 586.8 403.7 601.4 404.5 588.1 404.7 590 405.6 572.4 406.5 599 406.9 600.4 407.5 622.7 408.7 603.4 409.2 603.2 410.1 584.6 411.6 599.1 412.6 573.2 414.7 609.8 415.8 594.6 416.2 595.2 417.4 574.7 418.7 612.8 420.5 587.7 422 608.2 423.5 577.8 425.1 590.4 425.6 588.7 426.6 599.9 427.6 597.9 428.1 598.2 428.9 596 430 592.3 430.4 592.3 431.1 589.2 432.2 592.5 432.5 592.3 433.4 596 437.2 586.9 438.1 594.2 438.5 592.7 439.5 602.9 440.5 596.4 440.9 597.1 441.5 591.5 443.4 587.1 444.3 587.3 445.6 583.1 447.1 600.6 449.1 588.4 450 595.7 450.5 596 451.2 603.7 452 593.7 452.4 595.6 453.2 582.3 455.5 605.2 456.8 589.5 457.1 592.5 457.8 579.3 458.7 591 459 590.7 459.8 602.9 462.4 579.3 463.8 590.9 464.6 591.7 466.2 607.5 470 586.9 472.3 609 473.2 596.2 473.6 594.2 474.3 583.8 475.6 591.5 475.9 590.4 476.8 597.5 478.4 585.4 479.9 602.1 481.4 578.5 482.8 594.4 483.4 596.5 484 606.7 485.6 592.8 486.1 592.5 487.5 577.8 489.5 609.7 490.4 599.3 490.7 601.7 491.3 591.4 492.9 585.2 493.5 585 494.7 579.3 495.6 593.4 496 591.9 496.6 605.9 500.4 583.1 502.3 604.4 504.2 587.6 505.8 602.1 507.7 580 509.9 604.4 510.7 595.3 511.2 594.3 511.9 585.4 513.7 594.7 514.5 594.5 515.7 602.9 518.7 588.4 521 586.1 522.5 605.1 524 583.8 525.1 591.7 525.3 590.6 526.3 599.8 527 595 527.3 594.9 528.1 587.6 530.9 597.5 532.2 601.6 532.6 600.6 533.6 605.1 534.6 595.6 534.9 596.7 535.8 586.9 538.2 593.3 539 591.8 540.8 598.3 542.1 594.2 542.6 595.5 544.6 588.4 546.1 602.9 547.2 597.6 547.7 598.1 549.1 589.9 552.2 590.7 553.4 609.7 556 580 557.1 593.4 557.5 592.9 558.3 605.9 559.4 597.2 559.9 597.9 561 587.6 562.4 595.2 563.2 594.5 564.7 605.1 566.7 594.1 567.3 594.9 569.2 582.3 570 589.8 570.2 588.4 571.2 600.6 572.8 594.5 573.7 594.6 575.8 585.4 577.1 595.4 577.7 596.5 578.8 607.4 580.2 591.7 580.8 589.9 581.4 580 582.7 590.2 583.2 590 583.9 597.5 584.9 603.7 585.2 602.8 586 609 587.3 590.5 587.8 588.6 588.4 577 589.3 591.5 589.6 589.4 590.2 604.4 592.3 592.7 593.3 591.6 595.1 579.3 596.5 590 597 588.2 598.6 602.9 600.3 594 601 594.5 602.1 586.1 604.1 582.9 604.6 583.4 605.8 580.8 607 590.4 607.3 587.9 608.5 599.8 609.7 603.6 610 603.2 611.6 609 612.7 592.6 613.1 592 613.8 578.5 614.7 590.1 615.1 587.6 616.1 605.1 617.1 590.6 617.3 592.9 617.9 580 620 592.2 620.7 590.3 622.5 604.4 623.6 595.6 624 596.2 624.9 586.1 627.3 588.5 628.2 588.7 629.8 590.7 632.1 602.9 634.4 583.1 635.6 589.9 636.1 589 637.4 598.3 642 588.4 642.9 584.9 643.3 585.5 643.8 582.3 646.6 609.7 648.2 597.2 648.7 598.9 650.4 583.8 651.9 594 652.3 591.3 653.4 602.1 654.9 597.2 655.3 597.9 656.5 593 657.4 599.3 657.7 597.9 658.7 606.7 659.9 594.7 660.3 598.5 661.5 582.3 666.3 599.1 667.5 594.1 667.9 594.1 668.6 589.9 669.9 595.6 670.4 596.3 671.2 600.6 672.3 593.1 672.7 593 673.2 587.6 674.2 595 674.5 594.3 675.2 600.6 676.3 593.7 676.8 593.4 677.8 586.1 679.1 594.2 679.7 595.3 680.4 600.6 686.1 599.8 687.1 595.4 687.5 596.8 688.9 589.2 690.5 591.4 691.1 591.4 691.9 593 693.3 599.5 693.9 600.2 695 606.7 696 595.9 696.5 594.7 697.5 581.6 702.1 600.6 703.6 588.8 704 591.2 705.2 578.5 706.7 593.9 707.3 591.8 708.2 605.1 710.2 593.2 710.9 594.5 712 584.6 713.8 592.2 714.6 591.5 716.3 600.6 717.6 596 718.2 595.8 719.6 589.9 721.7 597 722.3 596.9 723.4 602.1 724.8 594.8 725.3 595.4 726.9 585.4 728.8 602.9 730.8 594.7 731.8 595.1 733.3 586.9 735 583.8 736.2 595.3 738.3 596 740 598.8 740.7 598.7 741.8 601.3 744.9 583.8 746.1 589.9 746.6 589.4 747.5 595.3 748.7 597.9 749.2 597.6 750.2 600.6 751 593.8 751.4 594.5 752 586.9 753 593.6 753.4 592.6 754 599.1 756.3 597.5 758.6 584.6 759.8 594.1 760.3 593.8 761.2 602.9 762.6 596.5 763 597.4 763.9 591.4 767 580 767.7 590.4 768 589.6 768.8 604.4 771.2 589.9 772.1 595 772.5 594.4 773.1 599.1 773.8 594.1 774.2 594.3 774.9 588.4 776 592.3 776.4 592.3 777.3 596 779.9 594.5 781.2 591.7 781.7 591.3 782.5 589.2 783.5 597.7 783.7 595.4 784.5 604.4 788 585.4 791 602.1 792.8 593.8 793.5 594 794.4 587.6 796.2 596 797.2 592.5 797.7 592.3 798.6 588.4 802.3 605.1 804.7 582.3 806.5 602.1 807.5 595.9 808 595.4 808.8 588.4 810.3 591.6 810.8 591.3 811.9 594.5 814.9 601.3 816.1 592.9 816.6 593.9 817.5 585.4 819 588.4 820.6 593.8 821 593.7 822.5 599.8 824.8 595.3 825.7 592.2 825.9 592.4 827.1 587.6 828 590.4 828.5 590.2 829.4 593.7 830.5 590.9 830.8 591 831.7 588.4 834.2 605.1 835.3 598.6 835.7 598.8 837 589.9 839.3 593 843.4 580 844.2 593.3 844.5 592 845.4 608.2 846.6 599 847.1 601.6 848.9 586.1 849.8 591.3 850.1 591.3 851 597.5 852.2 595.6 852.7 595.4 854 593 855 590.8 855.4 591.2 856.8 587.6 858 599.2 858.4 597.4 859 606.7 860.2 594.6 860.6 595.5 861.3 584.6 862.9 590.7 863.4 589.8 864.4 595.3 865.7 587.4 866.2 588.2 867.1 580.8 868.2 590 868.8 588.3 870.2 602.1 872.3 605.1 874.7 580 878.1 599.1 879.2 601.2 879.8 601.1 880.8 603.6 881.7 596.4 882.3 597.4 883.4 586.1 884.4 592.8 884.9 593.6 885.7 599.8 886.9 595.4 887.6 596.1 889 589.2 891.8 596 895.1 593 897.6 599.1 898.7 594.7 899 595.3 900.1 589.9 901.2 592.9 901.5 592.9 902.4 596 905.5 593 906.5 595.3 906.8 594.7 907.8 597.5 909.4 591.9 909.9 591.9 910.8 587.6 912.1 593.1 912.5 592.7 913.4 597.5 915.2 600.2 916 600 916.9 602.1 919.2 583.8 921.8 597.6 923.4 591.5 924.9 602.9 926.9 585.4 928.8 603.7 931.4 591.5 934.2 585.4 936 601.4 938.3 593 940.6 587.7 943.6 599.9 947.4 570.9 950.2 633.4 952.7 617.4 955.8 544.3 957.8 603.7 959.9 567.9 961.1 599.1 962.3 593 964.5 629.5 966.9 602.9 969.5 625 974.5 542 976.6 565.6 978.6 566.4 982.4 617.4 985.5 636.4 988.5 599.1 990 600.6 994.3 553.4 998 596 999.9 593 1003 613.6 1006 591.5 1007.1 597.6 1009.8 571.7 1013.2 615.1 1017 577.8 1019.7 592.2 1021.7 586.1 1023.5 595.3 1025.4 590 1027.8 600.6 1030 599.1 1031.8 602.9 1034.3 583.1 1035 585.9 1035.3 585.4 1036.1 589.2 1037.6 589.9 1038.5 595.5 1038.8 595.4 1039.4 600.6 1040.7 593.5 1041.1 594.5 1041.9 588.4 1043.2 584.4 1043.7 583.9 1044.5 580.8 1045.6 591.1 1046 590.7 1047 602.9 1049 593.7 1050.4 602.6 1051 602.2 1052.5 614.3 1053.8 599.8 1054.1 603 1055.1 587.6 1056.2 596.3 1056.5 594.8 1057.1 602.1 1058.4 587.5 1058.7 588.8 1059.7 574.7 1062 574.7 1062.8 581.1 1063.1 581.2 1063.8 587.6 1065.3 577 1066.2 591.4 1066.6 587.7 1067.7 609.7 1068.7 603.2 1069 603.2 1069.9 596 1071.4 612 1073.4 613.5 1074.4 604.7 1074.7 606.3 1076 593 1077.9 596 1078.9 587.5 1079.3 587.8 1079.9 580 1080.8 578.2 1081.3 578.3 1082.1 576.2 1084.5 586.1 1086 580 1087.2 598.8 1087.5 597.8 1088.1 612 1089 606.7 1089.5 606.4 1090.6 599.1 1091.7 595.9 1092.1 596.3 1092.7 593.7 1093.8 599.9 1094.2 600 1095.1 606.7 1095.8 605.1 1096.1 605.2 1097 602.9 1099.3 567.1 1101.1 584.2 1101.9 582.3 1103.4 600.6 1104.3 594.5 1104.6 594.3 1105.3 588.4 1107.9 607.4 1112.2 592.2 1113 589.8 1113.4 589.9 1114.5 586.1 1115.3 589.4 1115.7 589.1 1116.5 593 1118 580.8 1118.7 586.4 1118.9 585.6 1119.8 593.7 1121.3 582.3 1124.1 609.7 1124.9 604.1 1125.3 604.8 1126.2 597.5 1127.4 594.1 1127.7 595 1128.6 591.4 1129.6 594.7 1130 594.3 1131.2 599.1 1132.6 591.7 1133 592.1 1134.3 583.8 1135.3 589.1 1135.7 589.2 1136.5 594.5 1137.9 585.7 1138.3 587.5 1139.3 578.5 1141 596.5 1141.6 596.6 1142.6 611.2 1144.3 599.9 1144.8 600.1 1146.4 586.9 1148.4 589.2 1149.1 586.6 1149.4 586.8 1150.2 583.1 1151.2 594.6 1151.6 595 1152.1 602.9 1153.1 593.9 1153.3 596.3 1154 586.9 1155.3 594.8 1155.6 592.6 1157.1 604.4 1158.3 594.9 1158.9 595.8 1159.7 586.9 1160.6 589.9 1160.9 589.7 1161.7 593 1162.7 590.7 1163.1 591 1163.6 589.2 1165.5 599.1 1167.7 598.3 1168.7 590.7 1169.2 591.3 1170.3 580 1171.6 590 1172 589.2 1173.4 602.1 1174.7 596.3 1175.2 596.9 1176.4 589.9 1178 595.3 1178.4 594.4 1179.9 600.6 1180.9 596.8 1181.3 597.2 1182.2 593 1185.3 577 1186.4 592.4 1186.8 589.5 1188 610.5 1189 598.8 1189.3 600.7 1189.8 590.7 1191.3 603.6 1192 596.3 1192.3 596.1 1193.2 585.4 1194.7 600.6 1195.4 594 1195.7 595.5 1196.7 584.6 1197.7 592.1 1198.1 591.9 1198.6 597.5 1199.7 593.6 1200.2 593 1201.2 588.4 1202.2 585.7 1202.4 586 1203.5 582.3 1204.3 590.9 1204.6 589.9 1205.3 600.6 1206.2 596.3 1206.6 595.8 1207.3 591.4 1208.8 609.7 1209.9 601.1 1210.2 602.6 1211.1 593 1212.6 602.9 1213.5 592 1213.8 593.8 1214.5 583.1 1215.4 592.5 1215.7 591 1216.5 600.6 1217.4 593.4 1217.8 594.5 1218.7 584.6 1221.8 583.8 1223 593.7 1223.6 593.7 1224.5 603.6 1227.6 602.9 1229.2 593 1229.7 593.5 1230.6 586.1 1231.6 590.1 1231.9 590 1232.4 593 1234 587.6 1236.7 593 1237.6 597.7 1238 597 1238.8 602.9 1239.9 594.9 1240.3 595.3 1241.3 586.9 1242.1 592.5 1242.5 592.9 1243.4 600.6 1245.8 593 1247.4 606.7 1248.1 601.1 1248.5 601.9 1249.2 595.3 1250.6 587.2 1251.1 587.2 1251.9 580.8 1252.9 586.2 1253.2 585.2 1253.7 589.9 1254.6 587.1 1255 586.8 1255.6 584.6 1256.3 589.2 1256.6 588.8 1257.5 596 1258.4 593.2 1258.6 593.7 1259.5 589.9 1261.1 599.1 1264.4 596.8 1267.4 597.5 1268.5 595.5 1269 595.5 1269.7 593.7 1275.8 590.7 1281.1 593.7 1288.8 594.5" fill="none" stroke="#000" stroke-width="2.08" stroke-linejoin="round" stroke-linecap="square"/>
<path d="M938.5 662.39V525.84" stroke="#00bfbf" stroke-width="2.78" stroke-dasharray="10.28 4.44"/>
<path d="M952.5 662.39V525.84" stroke="#00bfbf" stroke-width="2.78" stroke-dasharray="10.28 4.44"/>
<rect x="225.5" y="526.5" width="1113.0" height="136.0" fill="none" stroke="#000" stroke-width="1.11"/>
<path d="M276.5 662.5v4.36M322.5 662.5v4.36M368.5 662.5v4.36M414.5 662.5v4.36M460.5 662.5v4.36M506.5 662.5v4.36M552.5 662.5v4.36M598.5 662.5v4.36M644.5 662.5v4.36M690.5 662.5v4.36M736.5 662.5v4.36M782.5 662.5v4.36M828.5 662.5v4.36M874.5 662.5v4.36M920.5 662.5v4.36M966.5 662.5v4.36M1012.5 662.5v4.36M1058.5 662.5v4.36M1104.5 662.5v4.36M1150.5 662.5v4.36M1196.5 662.5v4.36M1242.5 662.5v4.36M1288.5 662.5v4.36" stroke="#000" stroke-width="1.11"/>
<text x="236.60" y="543.51" font-size="13.89" text-anchor="start">R</text>
<path d="M275.6 732.7 L286.3 732.7 288.6 732 291.6 733.8 293.9 732 297 734.3 300.3 729.7 302.3 735 304.3 731.2 306.4 738.1 308.8 728.9 310.7 735 312.9 730.4 315.5 738.8 318 727.4 320.6 735.8 324.1 725.9 327.4 736.5 330.8 731.2 333.5 728.9 336.2 739.3 338.8 722.8 341.1 736.5 344.1 733.5 348 725.1 349.9 741.9 352.1 728.9 353 730 355 727.4 356.2 733.4 356.7 733 357.7 739.6 359.4 733.1 360 734.4 361.4 726.7 362.5 732.6 363 732.5 364.1 740.4 366.9 729.7 368 731.7 368.6 731.4 369.5 733.5 371 732 372 736.8 372.3 736.1 373 740.4 374.8 721.3 375.8 733.2 376.3 732.6 377.1 744.9 378.3 736.8 378.7 737.4 380.1 725.9 383.2 748.8 384.8 731.2 385.2 732.3 386.2 717.5 388.2 732.5 389 732.7 390 743.4 392.3 714.5 393.6 730.4 394 731.2 394.9 744.9 395.7 736.3 396 737.8 396.9 725.9 397.7 733.5 398 731.1 398.9 741.1 399.9 725.1 401.4 742.7 402.6 734.3 402.9 735.7 403.7 728.2 406 726.7 406.9 735.1 407.2 733.8 408 743.4 409.5 723.6 410.8 729.8 411.3 729.4 412.1 735 415.1 751.8 416.7 724.4 419 727.4 420.2 732.4 420.5 731.8 421.2 735.8 423.1 730.8 423.6 732 424.7 727.4 426 733.5 426.6 733.6 427.3 738.9 429.3 727.4 430.3 731.2 430.6 730.9 431.4 735 434.2 747.2 434.9 737.2 435.2 737.1 436 723.6 438.4 737.3 439.4 730.5 439.8 731.7 440.6 724.4 442.1 719.8 443.3 738.1 446.1 739.6 447.2 733.9 447.6 733.9 448.7 727.4 449.6 733.5 450 733.4 450.9 741.1 452.4 736.3 452.9 737.2 454 732 455 724.7 455.4 725.6 456.3 717.5 457.4 730.5 457.9 729.9 459.3 748 460.4 734.4 460.8 736.2 461.6 722.9 462.7 729.5 463.3 729.9 464.3 737.3 465.7 732.5 466.2 732.4 466.9 729 470 738.1 471.6 731.5 472.3 730.9 473.8 723.6 476.8 738.1 478.2 733.9 478.8 734.1 479.9 729.7 481.9 741.9 483 726.8 483.3 730.4 484 716.8 485.5 749.5 486.5 738 486.9 739.6 488 723.6 489.8 743.4 491 733.9 491.6 733.4 492.5 724.4 493.3 731.8 493.6 730.8 494.7 742.6 495.9 735.1 496.2 735.3 497.4 726.6 498.7 729.3 499.2 728.8 500.4 732 501.7 735.6 502.4 735.1 503.5 739.6 504.5 732.6 504.9 733.7 506.2 723.6 507.1 731.1 507.4 731.6 508.4 741.1 509.2 731.9 509.6 732.7 510.3 722.8 511.7 730.8 512 729.4 512.9 736.5 515.7 738.1 516.7 732.2 517.4 732.2 518.7 723.6 519.9 733.6 520.3 734.1 521.4 745.7 522.8 734.1 523.3 734.4 524.5 722.1 525.6 728.6 526 727.9 527.5 738.8 528.7 734.9 529.2 735.4 530.9 728.9 531.7 733.7 532 733.7 532.7 738.8 534.7 724.4 537 739.6 539.3 724.4 541.5 736.5 543 733.3 543.6 733.1 544.6 730.4 545.6 737.6 545.9 737 546.9 745.7 548 733 548.3 735.1 549.1 722.8 551.5 731.3 552.4 730.6 554 738.8 555.4 730.4 555.7 732.4 556.8 723.6 560.6 742.6 561.3 735.9 561.6 737 562.5 726.6 563.6 730.1 564 729.6 565.1 734.3 567.7 727.4 570.5 736.5 571.8 734.8 572.3 735 573.8 732.7 576.5 724.4 577.3 730.9 577.5 729.2 578.4 738.8 581.9 732 584.2 740.3 585.1 733.7 585.4 735.2 586.4 725.9 588.2 734.4 588.7 732.2 590.2 741.9 592.5 720.6 594.5 739.6 597 732.3 598 732.8 599.4 726.6 600.7 731.9 601.2 731.8 602.1 736.5 604.1 731.5 604.8 732.6 606.2 727.4 607.1 732.3 607.3 731.6 608.5 739.6 610.5 731.4 611 732.3 612.3 725.1 613.4 735.2 613.7 733 614.6 744.1 615.5 735.9 615.9 735.2 616.9 724.4 618.5 731.4 619 730.2 620.4 738.1 623.4 722.1 624.1 731.8 624.5 732.2 625.3 744.9 627.8 734.8 628.5 734.8 630.1 726.6 630.9 733.2 631.2 732.4 632.1 741.9 633.5 735 634.1 735.9 635.1 728.9 638.2 744.1 640.5 723.6 641.4 729.6 641.9 729 642.8 736.5 644.8 730.2 645.3 731.6 646.6 725.9 647.9 732.4 648.3 731.2 649.3 738.1 652.6 730.4 654.1 728.6 654.7 728.9 656 726.6 656.8 733.1 657.1 733.3 658 741.1 659.4 734.6 659.8 736 661.5 726.6 662.8 732.1 663.2 731.4 664.1 736.5 665.9 734 666.7 734.4 667.9 732 670.6 737.3 672.7 741.9 673.8 732.1 674.2 732.9 675.2 721.3 676.3 728.5 676.8 726.4 678.2 738.1 680.6 729.9 681.3 731.5 683.4 722.1 686.1 741.9 689.9 725.9 691.6 732.8 692.1 730.6 693.7 739.6 694.9 727.6 695.3 728.2 696 718.3 696.8 728.4 697.2 728.7 698 741.9 702.1 726.6 703.4 731.8 704 730.7 705.6 738.8 707 730.2 707.5 730.9 708.7 722.1 709.8 732.4 710.2 731.5 710.8 739.6 713.1 735 713.9 735.4 715.8 730.4 719.6 738.1 720.6 732.5 721 732.7 721.9 725.9 722.8 733.7 723.1 734 723.9 741.9 727.2 725.9 728.6 731.9 729.1 731.7 730.6 739.6 733.3 730.4 735 728.9 736.2 733.4 736.6 733 737.3 736.5 738.2 732.4 738.5 733.5 739.3 728.9 740.3 737.3 741.8 726.6 742.7 731.3 743.1 730.7 744.1 737.3 745.6 733.3 746.1 734.1 747.9 728.2 750.5 738.1 751.9 732.5 752.4 732.7 753.6 726.6 754.7 732.1 755.1 731.2 756.3 738.8 759 730.4 760.3 732.9 760.6 732.5 761.6 735 763.2 728.2 767 740.3 770.3 728.2 771.6 733.1 772 732.3 772.7 736.5 773.8 733.1 774.3 733.1 775.3 728.9 776.8 733 777.5 732.7 779.4 738.8 781.3 733.1 781.9 733.2 783.4 727.4 784.9 738.1 786.3 733.2 786.7 733.6 787.5 729.7 790.1 732.7 792.8 733.5 794.3 730.3 794.8 730.7 795.9 727.4 796.7 734.7 797.1 733.6 797.7 741.1 800.1 721.3 802 741.9 803.1 734.3 803.6 735.2 804.7 725.9 807.3 723.6 808.6 732.7 809 731 810.3 742.6 812.1 733.1 812.6 734.6 813.8 725.1 815.1 732.7 815.6 732.8 816.4 739.6 818.7 725.9 819.7 734.2 820.1 731.9 821.5 745.7 822.8 732 823.2 733.9 824 722.1 825.1 731.1 825.5 732.1 826 738.1 826.9 730.9 827.2 731.4 827.8 725.1 828.9 732.5 829.3 731.6 830.1 739.6 831.4 732.5 831.7 732.8 832.4 727.4 834 737 834.5 735.1 835.5 743.4 838.2 722.1 841.5 736.5 844.6 729.7 846.7 736.6 847.3 734.8 848.9 741.9 851.4 725.1 852.6 731.1 852.9 730.1 854 737.3 855.5 731.9 856.2 732.2 857.5 725.9 858.8 731.8 859.3 731.9 860.6 738.8 862.2 732.7 862.9 733 864.4 725.9 866.4 734.9 867.1 734.9 868.6 743.4 869.6 732.7 870 732.7 870.8 721.3 871.8 731.2 872.2 729.9 873.2 741.9 874.5 736.8 875 736.9 876.6 729.7 878.9 735.7 879.6 734.4 881.9 741.9 882.8 732.4 883.1 733.1 883.9 722.8 885.6 732.1 886.1 730.6 887.2 738.8 888.4 732.5 888.8 733.8 890.3 724.4 891.1 733.8 891.4 730.4 892.5 746.4 893.4 736 893.7 737.6 894.5 724.4 895.9 729.6 896.5 729.1 897.9 735.8 899.9 730.7 900.8 730.1 902.1 725.9 903.2 733.5 903.7 733.7 904.7 742.6 906.1 735.5 906.7 735.8 907.8 728.9 909.4 732.9 910.2 732.8 911.6 737.3 914 731.8 914.7 733 916.1 728.2 919.2 735 921.2 732 923.4 722.1 925.8 741.9 927.6 729 929.9 735.8 931.9 730.5 933.7 737.3 936 725.1 938 732 940.6 735 942.8 729 944.1 722.9 945.9 735 947.4 730.5 948.9 752.6 951.2 718.3 953.2 730.5 955 725.9 957.3 720.6 960.4 768.5 964.2 732 966.9 694.7 973.3 753.3 977.9 728.2 979.7 735.8 985.5 732 987.3 716 989.7 732 993.1 730.5 996.9 748 999.2 732.8 1000.7 738.1 1003 722.9 1006 722.9 1007.6 735 1011.4 741.1 1013.7 727.4 1015.9 734.3 1017.5 723.6 1019.3 751 1021.7 722.1 1025.8 743.4 1028.4 727.4 1030 728.2 1031.2 737.3 1033 734.3 1034.3 729.4 1034.8 729.2 1035.8 724.4 1036.5 735 1036.8 733.1 1037.6 748.7 1038.6 739.5 1038.9 740.8 1039.9 728.9 1042.5 719.8 1045.2 741.1 1046.5 733.2 1046.9 733.9 1048 725.9 1049.1 729 1049.5 728.4 1050.5 732 1052.5 741.9 1054.1 735.5 1054.7 735.2 1055.9 728.9 1058.9 735 1062 717.5 1065 752.5 1066.5 735.3 1067.2 735 1068.1 721.3 1069.9 733.2 1070.6 733.6 1071.9 744.1 1074.4 717.5 1075.3 727.2 1075.5 725.1 1076.4 738.1 1077.5 734 1077.8 734.7 1078.7 730.4 1081.8 730.4 1084 733.5 1085 728.9 1085.4 729.3 1086.3 723.6 1088.6 735 1089.5 738 1090 738.2 1090.9 741.9 1091.8 734.9 1092.1 736.4 1093.2 726.6 1093.9 730 1094.3 729.4 1095.1 734.3 1096.5 731.3 1097 731.2 1097.7 728.9 1099.7 739.6 1102.3 734.3 1104.3 740.3 1106.4 716.8 1108.5 732.4 1109.3 730.9 1110.7 744.9 1111.6 733.5 1111.9 736.7 1113 719.8 1114.5 729.9 1115.1 730.4 1116 738.1 1117 733.2 1117.5 733.5 1118.3 728.2 1120.6 735.8 1121.5 734.3 1122 734.3 1123.2 732 1125.6 739.6 1127.1 732.2 1127.8 731.9 1129.2 723.6 1130.2 728.2 1130.8 727.9 1131.7 733.5 1132.4 730.7 1132.6 731.3 1133.5 727.4 1134.6 734.4 1135.2 734 1136.5 744.1 1137.7 736.5 1138.3 736 1139.6 725.9 1140.5 731.4 1140.7 730.9 1141.4 736.5 1142.9 725.1 1144.2 730.2 1144.7 729.2 1146 735.8 1147.2 737.9 1147.7 737.4 1149 740.3 1150.2 730.1 1150.7 729.9 1151.5 720.6 1154 732.7 1156.3 736.5 1158.6 725.1 1161.2 747.2 1162.3 738.8 1162.8 737.9 1163.9 727.4 1165.3 730.3 1165.8 730.3 1167 733.5 1170.3 725.1 1173.1 738.8 1174.1 734 1174.5 733.5 1174.9 730.4 1176.2 735.7 1176.5 734.4 1177.3 739.6 1178.6 734.3 1179 734.7 1179.9 729.7 1181 742.6 1183 723.6 1184.4 728.8 1185 729.4 1186.5 735.8 1187.3 730.4 1187.8 729.8 1188.6 723.6 1189.5 730.8 1190 730.9 1191 741.1 1193.2 730.4 1195.1 732 1197.1 727.4 1197.8 732.6 1198.1 732.5 1198.9 739.6 1201.2 725.9 1202.8 739.6 1204.4 733.2 1205.1 734 1206.6 726.6 1208.1 729.5 1208.9 729.4 1210.4 732.7 1211.9 727.4 1213.4 741.9 1214.4 739.3 1214.7 739.7 1216 735.8 1217 733.5 1217.4 734 1218.7 730.4 1220 734 1220.6 734 1222.1 738.8 1224.5 718.3 1225.3 724.2 1225.6 723.9 1226.7 733.5 1227.8 737.5 1228.1 736.6 1229.1 741.1 1230.5 735.7 1230.9 735.9 1232.1 730.4 1233.7 727.8 1234.1 728.2 1235.5 725.1 1239.3 746.4 1241.9 722.1 1243.3 731.9 1243.7 731.6 1244.6 739.6 1246.5 729.5 1247.2 730.1 1248.9 719 1251.5 741.1 1253.7 737.3 1256.8 731.2 1257.6 732.7 1258 732.6 1259.1 735 1260 731.6 1260.3 732.1 1261.4 727.4 1263.6 737.3 1265.2 733.3 1265.8 733.9 1266.7 730.4 1272 729.7 1273.4 732 1273.9 731.7 1275.1 734.3 1279.6 735 1284.2 732.7 1288.8 732" fill="none" stroke="#000" stroke-width="2.08" stroke-linejoin="round" stroke-linecap="square"/>
<path d="M938.5 801.67V665.12" stroke="#00bfbf" stroke-width="2.78" stroke-dasharray="10.28 4.44"/>
<path d="M952.5 801.67V665.12" stroke="#00bfbf" stroke-width="2.78" stroke-dasharray="10.28 4.44"/>
<rect x="225.5" y="665.5" width="1113.0" height="136.0" fill="none" stroke="#000" stroke-width="1.11"/>
<path d="M276.5 801.5v4.36M322.5 801.5v4.36M368.5 801.5v4.36M414.5 801.5v4.36M460.5 801.5v4.36M506.5 801.5v4.36M552.5 801.5v4.36M598.5 801.5v4.36M644.5 801.5v4.36M690.5 801.5v4.36M736.5 801.5v4.36M782.5 801.5v4.36M828.5 801.5v4.36M874.5 801.5v4.36M920.5 801.5v4.36M966.5 801.5v4.36M1012.5 801.5v4.36M1058.5 801.5v4.36M1104.5 801.5v4.36M1150.5 801.5v4.36M1196.5 801.5v4.36M1242.5 801.5v4.36M1288.5 801.5v4.36" stroke="#000" stroke-width="1.11"/>
<text x="236.60" y="682.79" font-size="13.89" text-anchor="start">T</text>
<text x="276.50" y="821.70" font-size="13.89" text-anchor="middle">0</text>
<text x="322.50" y="821.70" font-size="13.89" text-anchor="middle" textLength="35.3" lengthAdjust="spacingAndGlyphs">2000</text>
<text x="368.50" y="821.70" font-size="13.89" text-anchor="middle" textLength="35.3" lengthAdjust="spacingAndGlyphs">4000</text>
<text x="414.50" y="821.70" font-size="13.89" text-anchor="middle" textLength="35.3" lengthAdjust="spacingAndGlyphs">6000</text>
<text x="460.50" y="821.70" font-size="13.89" text-anchor="middle" textLength="35.3" lengthAdjust="spacingAndGlyphs">8000</text>
<text x="506.50" y="821.70" font-size="13.89" text-anchor="middle" textLength="44.2" lengthAdjust="spacingAndGlyphs">10000</text>
<text x="552.50" y="821.70" font-size="13.89" text-anchor="middle" textLength="44.2" lengthAdjust="spacingAndGlyphs">12000</text>
<text x="598.50" y="821.70" font-size="13.89" text-anchor="middle" textLength="44.2" lengthAdjust="spacingAndGlyphs">14000</text>
<text x="644.50" y="821.70" font-size="13.89" text-anchor="middle" textLength="44.2" lengthAdjust="spacingAndGlyphs">16000</text>
<text x="690.50" y="821.70" font-size="13.89" text-anchor="middle" textLength="44.2" lengthAdjust="spacingAndGlyphs">18000</text>
<text x="736.50" y="821.70" font-size="13.89" text-anchor="middle" textLength="44.2" lengthAdjust="spacingAndGlyphs">20000</text>
<text x="782.50" y="821.70" font-size="13.89" text-anchor="middle" textLength="44.2" lengthAdjust="spacingAndGlyphs">22000</text>
<text x="828.50" y="821.70" font-size="13.89" text-anchor="middle" textLength="44.2" lengthAdjust="spacingAndGlyphs">24000</text>
<text x="874.50" y="821.70" font-size="13.89" text-anchor="middle" textLength="44.2" lengthAdjust="spacingAndGlyphs">26000</text>
<text x="920.50" y="821.70" font-size="13.89" text-anchor="middle" textLength="44.2" lengthAdjust="spacingAndGlyphs">28000</text>
<text x="966.50" y="821.70" font-size="13.89" text-anchor="middle" textLength="44.2" lengthAdjust="spacingAndGlyphs">30000</text>
<text x="1012.50" y="821.70" font-size="13.89" text-anchor="middle" textLength="44.2" lengthAdjust="spacingAndGlyphs">32000</text>
<text x="1058.50" y="821.70" font-size="13.89" text-anchor="middle" textLength="44.2" lengthAdjust="spacingAndGlyphs">34000</text>
<text x="1104.50" y="821.70" font-size="13.89" text-anchor="middle" textLength="44.2" lengthAdjust="spacingAndGlyphs">36000</text>
<text x="1150.50" y="821.70" font-size="13.89" text-anchor="middle" textLength="44.2" lengthAdjust="spacingAndGlyphs">38000</text>
<text x="1196.50" y="821.70" font-size="13.89" text-anchor="middle" textLength="44.2" lengthAdjust="spacingAndGlyphs">40000</text>
<text x="1242.50" y="821.70" font-size="13.89" text-anchor="middle" textLength="44.2" lengthAdjust="spacingAndGlyphs">42000</text>
<text x="1288.50" y="821.70" font-size="13.89" text-anchor="middle" textLength="44.2" lengthAdjust="spacingAndGlyphs">44000</text>
<path d="M1356.1 142.4 L1357.5 142.3 1358.9 142.2 1360.2 142.1 1361.6 142 1362.9 141.9 1364.2 141.7 1365.4 141.6 1366.5 141.4 1367.6 141.2 1368.6 141 1369.6 140.7 1370.6 140.4 1371.5 140.1 1372.3 139.7 1373.1 139.3 1373.9 138.8 1374.7 138.4 1375.4 138 1376.2 137.7 1377.1 137.3 1377.9 137 1378.7 136.7 1379.5 136.5 1380.3 136.4 1381.1 136.5 1381.9 136.7 1382.7 137 1383.5 137.3 1384.3 137.7 1385.1 138 1385.9 138.4 1386.7 138.8 1387.5 139.2 1388.3 139.7 1389.1 140.1 1389.9 140.4 1390.8 140.8 1391.8 141 1392.8 141.3 1393.7 141.5 1394.7 141.8 1395.6 142.1 1396.4 142.4 1397.3 142.7 1398 143.1 1398.8 143.5 1399.6 143.8 1400.4 144.1 1401.2 144.5 1402 144.8 1402.8 145.1 1403.6 145.4 1404.4 145.6 1405.2 145.6 1406.1 145.5 1407 145.2 1408 144.9 1408.9 144.5 1409.9 144.1 1410.9 143.7 1411.9 143.2 1413 142.8 1414.1 142.3 1415.2 141.8 1416.2 141.3 1417.3 140.8 1418.4 140.3 1419.5 140 1420.6 139.6 1421.7 139.2 1422.7 138.7 1423.8 138 1424.8 137.2 1425.7 136.2 1426.6 135 1427.6 133.9 1428.5 132.7 1429.4 131.6 1430.4 130.4 1431.4 129.2 1432.3 128 1433.3 126.9 1434.2 125.9 1435.1 125.1 1435.8 124.6 1436.5 124.2 1437.2 123.9 1437.8 123.8 1438.4 123.8 1439.1 123.8 1439.7 124 1440.4 124.3 1441 124.7 1441.7 125.2 1442.4 125.9 1443.1 126.7 1443.9 127.9 1444.7 129.2 1445.5 130.7 1446.3 132.3 1447.1 133.9 1447.9 135.6 1448.7 137.3 1449.6 139.1 1450.4 141 1451.2 142.9 1452 144.9 1452.8 146.9 1453.6 149 1454.4 151.2 1455.2 153.4 1456 155.6 1456.8 157.7 1457.6 159.8 1458.4 161.8 1459.2 163.9 1460 166 1460.8 167.8 1461.6 169.3 1462.4 170.2 1463.2 170.7 1464 170.6 1464.8 170.2 1465.5 169.5 1466.4 168.7 1467.3 167.8 1468.3 166.8 1469.3 165.6 1470.4 164.2 1471.5 162.7 1472.6 161.2 1473.7 159.8" fill="none" stroke="#000" stroke-width="2.08" stroke-linejoin="round" stroke-linecap="square"/>
<path d="M1356.1 208.9 L1357.5 208.6 1358.8 208.2 1360.1 207.8 1361.5 207.4 1362.8 207.1 1364.2 206.8 1365.5 206.5 1366.9 206.2 1368.3 205.9 1369.7 205.7 1371 205.6 1372.2 205.7 1373.4 206 1374.5 206.4 1375.6 207 1376.6 207.6 1377.7 208.3 1378.7 208.9 1379.7 209.6 1380.6 210.3 1381.5 211 1382.5 211.7 1383.4 212.3 1384.3 212.6 1385.2 212.7 1386.2 212.6 1387.1 212.4 1388 212 1389 211.7 1389.9 211.3 1391 210.9 1392 210.4 1393.1 209.8 1394.2 209.3 1395.3 209 1396.4 208.9 1397.5 209.2 1398.5 209.8 1399.6 210.5 1400.6 211.3 1401.7 212.2 1402.8 212.9 1404 213.8 1405.2 214.8 1406.5 215.8 1407.7 216.7 1408.9 217.4 1410.1 217.8 1411.2 217.7 1412.3 217.4 1413.3 216.8 1414.3 216.1 1415.4 215.3 1416.5 214.6 1417.7 213.7 1418.9 212.7 1420.2 211.7 1421.4 210.7 1422.7 209.9 1423.8 209.4 1424.8 209.3 1425.8 209.5 1426.7 210 1427.7 210.5 1428.5 211 1429.4 211.3 1430.3 211.7 1431.1 212.1 1431.8 212.5 1432.6 212.8 1433.4 212.8 1434.2 212.6 1435.2 212 1436.1 211.2 1437.1 210.1 1438 208.9 1439 207.7 1439.9 206.5 1440.7 205.3 1441.6 204 1442.4 202.7 1443.1 201.4 1443.9 200.2 1444.7 199.2 1445.5 198.4 1446.3 197.6 1447.1 196.9 1447.9 196.4 1448.7 196.1 1449.6 196 1450.3 196.2 1451.1 196.6 1451.9 197.2 1452.7 198 1453.5 199 1454.4 200.1 1455.3 201.3 1456.2 202.9 1457.2 204.6 1458.2 206.3 1459.1 208.1 1460 209.7 1460.9 211.3 1461.7 213 1462.5 214.6 1463.3 216.2 1464.1 217.5 1464.9 218.6 1465.6 219.4 1466.2 220 1466.9 220.4 1467.5 220.7 1468.2 220.7 1468.9 220.7 1469.6 220.4 1470.4 219.9 1471.3 219.2 1472.1 218.4 1472.9 217.7 1473.7 217" fill="none" stroke="#000" stroke-width="2.08" stroke-linejoin="round" stroke-linecap="square"/>
<path d="M1497.1 140.8 L1498 140.7 1498.9 140.6 1499.9 140.5 1500.8 140.4 1501.7 140.3 1502.7 140.1 1503.7 139.9 1504.8 139.6 1505.8 139.3 1506.9 139 1508 138.9 1509.2 138.8 1510.3 139 1511.5 139.4 1512.6 139.8 1513.9 140.3 1515.1 140.6 1516.4 140.8 1517.8 140.6 1519.3 140.2 1520.9 139.6 1522.4 139.1 1523.9 138.8 1525.3 138.8 1526.5 139.3 1527.6 140 1528.6 140.9 1529.6 141.9 1530.6 142.8 1531.7 143.7 1532.9 144.5 1534.1 145.3 1535.4 146.2 1536.6 146.9 1537.8 147.5 1539 147.7 1540 147.6 1540.9 147.2 1541.8 146.7 1542.7 146 1543.6 145.2 1544.6 144.5 1545.6 143.7 1546.6 142.8 1547.6 141.8 1548.6 140.8 1549.8 139.8 1551.1 138.8 1552.5 137.9 1554.2 137 1555.9 136 1557.6 135.1 1559.3 134.1 1560.7 133.2 1562 132.2 1563.1 131.3 1564.2 130.3 1565.2 129.4 1566.2 128.5 1567.2 127.6 1568.2 126.6 1569.2 125.5 1570.1 124.5 1571.1 123.6 1572 122.8 1572.8 122.4 1573.6 122.2 1574.2 122.2 1574.9 122.3 1575.5 122.7 1576.1 123.4 1576.8 124.3 1577.6 125.6 1578.4 127.2 1579.2 129.1 1580 131.1 1580.9 133.3 1581.7 135.6 1582.5 138 1583.3 140.7 1584.1 143.4 1584.9 146.2 1585.7 149 1586.5 151.7 1587.3 154.4 1588.2 157.2 1589 160 1589.8 162.6 1590.6 165 1591.3 167 1592 168.7 1592.5 170.2 1593 171.4 1593.5 172.3 1594 173 1594.6 173.5 1595.1 173.7 1595.5 173.6 1596 173.3 1596.5 172.7 1597.1 172 1597.8 171.1 1598.7 169.9 1599.7 168.4 1600.8 166.7 1602 164.9 1603.1 163.1 1604.2 161.4" fill="none" stroke="#000" stroke-width="2.08" stroke-linejoin="round" stroke-linecap="square"/>
<path d="M1604.2 161.4 L1604.5 143.7" fill="none" stroke="#000" stroke-width="2.08" stroke-linejoin="round" stroke-linecap="square"/>
<path d="M1604.5 143.7 L1605.3 143.2 1606 142.8 1606.7 142.3 1607.5 141.9 1608.2 141.5 1609.1 141.2 1609.9 141.1 1610.8 140.9 1611.8 140.9 1612.8 140.9 1613.7 140.8 1614.7 140.8" fill="none" stroke="#000" stroke-width="2.08" stroke-linejoin="round" stroke-linecap="square"/>
<path d="M1497.1 208.1 L1498.3 207.8 1499.5 207.4 1500.7 207.1 1501.9 206.7 1503.1 206.4 1504.3 206.2 1505.6 205.9 1506.8 205.6 1508.1 205.3 1509.3 205.1 1510.5 205.1 1511.6 205.2 1512.6 205.6 1513.6 206.2 1514.5 207 1515.3 207.8 1516.3 208.7 1517.2 209.4 1518.2 210.1 1519.3 210.9 1520.3 211.7 1521.4 212.4 1522.5 212.9 1523.7 213.3 1524.9 213.3 1526.3 213.1 1527.6 212.7 1529 212.3 1530.4 211.9 1531.7 211.7 1533 211.5 1534.3 211.4 1535.5 211.3 1536.7 211.2 1537.9 211.2 1539 211.3 1540 211.5 1541 211.8 1541.9 212.1 1542.8 212.5 1543.7 212.9 1544.6 213.3 1545.5 213.7 1546.5 214.1 1547.4 214.6 1548.4 215 1549.3 215.3 1550.2 215.4 1551.2 215.2 1552 215 1552.9 214.6 1553.8 214 1554.8 213.4 1555.9 212.6 1557.2 211.6 1558.7 210.2 1560.3 208.8 1561.9 207.4 1563.4 206.3 1564.7 205.7 1565.9 205.6 1566.8 206 1567.7 206.6 1568.6 207.4 1569.4 208.2 1570.4 208.9 1571.4 209.6 1572.5 210.3 1573.6 211.1 1574.7 211.8 1575.7 212.3 1576.8 212.6 1577.9 212.6 1579 212.4 1580.1 211.9 1581.1 211.4 1582.2 210.9 1583.3 210.5 1584.3 210.1 1585.4 209.7 1586.4 209.2 1587.5 208.8 1588.6 208.5 1589.7 208.4 1591 208.5 1592.3 208.8 1593.7 209.1 1595.2 209.6 1596.5 210.1 1597.8 210.5 1598.9 211 1600 211.5 1601.1 212.1 1602.1 212.6 1603.2 213.2 1604.2 213.7" fill="none" stroke="#000" stroke-width="2.08" stroke-linejoin="round" stroke-linecap="square"/>
<path d="M1604.2 213.7 L1604.5 205.7" fill="none" stroke="#000" stroke-width="2.08" stroke-linejoin="round" stroke-linecap="square"/>
<path d="M1604.5 205.7 L1605.2 206.3 1605.8 206.9 1606.4 207.5 1607 208 1607.7 208.5 1608.2 208.9 1608.8 209.2 1609.4 209.4 1609.9 209.5 1610.4 209.5 1610.9 209.5 1611.5 209.4 1612 209.3 1612.5 209 1613.1 208.7 1613.6 208.4 1614.2 208.1 1614.7 207.8" fill="none" stroke="#000" stroke-width="2.08" stroke-linejoin="round" stroke-linecap="square"/>
<path d="M1356.2 309.1 L1356.8 310 1357.3 310.9 1357.9 311.8 1358.4 312.7 1359.1 313.5 1359.8 314.2 1360.6 314.8 1361.5 315.3 1362.4 315.6 1363.3 316 1364.3 316.4 1365.2 316.9 1366.1 317.5 1367.1 318.4 1368 319.4 1369 320.1 1369.8 320.5 1370.7 320.4 1371.4 319.8 1372.1 318.9 1372.7 317.6 1373.3 315.9 1373.9 314 1374.6 311.9 1375.2 309.3 1375.8 306.2 1376.5 302.8 1377.1 299.4 1377.8 296.1 1378.4 293.2 1379.2 290.6 1380 288 1380.8 285.5 1381.6 283.4 1382.4 281.7 1383.1 280.8 1383.8 280.5 1384.4 280.9 1385.1 281.8 1385.7 283.1 1386.3 284.6 1387 286.2 1387.7 288.2 1388.5 290.7 1389.2 293.5 1390 296.3 1390.8 298.9 1391.7 301 1392.5 302.7 1393.5 304.3 1394.4 305.7 1395.4 306.8 1396.3 307.6 1397.1 308 1397.8 308.2 1398.5 308.1 1399.1 307.7 1399.7 306.9 1400.3 305.7 1401 304.1 1401.7 301.8 1402.5 298.8 1403.2 295.4 1404 291.8 1404.8 288.4 1405.7 285.4 1406.5 282.7 1407.5 279.9 1408.4 277.2 1409.3 274.9 1410.2 273.2 1411.1 272.2 1411.9 272.1 1412.8 272.8 1413.5 274 1414.3 275.6 1415.1 277.4 1415.8 279.2 1416.5 281.2 1417.2 283.7 1417.8 286.3 1418.5 288.9 1419.1 291.3 1419.7 293.2 1420.2 294.8 1420.8 296.1 1421.3 297.3 1421.8 298.1 1422.3 298.6 1422.8 298.7 1423.3 298.4 1423.8 297.7 1424.3 296.7 1424.8 295.4 1425.3 293.7 1425.9 291.7 1426.5 289.1 1427.1 286.1 1427.7 282.7 1428.4 279.2 1429.1 275.6 1429.8 272.2 1430.5 268.6 1431.3 264.7 1432.1 260.7 1432.9 257.1 1433.7 254.4 1434.4 252.8 1435.1 252.4 1435.8 252.9 1436.4 254.2 1437.1 256.2 1437.7 258.9 1438.3 262.1 1439 266.1 1439.6 271 1440.3 276.6 1440.9 282.6 1441.6 288.7 1442.2 294.8 1442.9 301 1443.5 307.5 1444.1 314.1 1444.8 320.8 1445.4 327.4 1446.1 333.7 1446.9 339.9 1447.7 346.3 1448.5 352.6 1449.3 358.5 1450.1 363.7 1450.8 367.9 1451.4 371.1 1451.9 373.5 1452.4 375.3 1452.9 376.4 1453.3 377 1453.9 377.2 1454.5 377 1455.1 376.4 1455.7 375.2 1456.3 373.4 1457 371 1457.8 367.9 1458.6 363.7 1459.5 358.4 1460.5 352.5 1461.5 346.4 1462.4 340.5 1463.2 335.2 1464 330.4 1464.7 325.7 1465.3 321.1 1465.9 317 1466.5 313.3 1467.1 310.3 1467.7 308.1 1468.2 306.4 1468.7 305.3 1469.2 304.6 1469.7 304.2 1470.2 304.1 1470.8 304.4 1471.5 305.3 1472.1 306.4 1472.8 307.8 1473.5 309.2 1474.1 310.3" fill="none" stroke="#f00" stroke-width="2.08" stroke-linejoin="round" stroke-linecap="square"/>
<path d="M1356.2 299.4 L1357.2 299.1 1358.1 298.7 1359.1 298.4 1360.1 298 1361.1 297.6 1362.1 297.1 1363.2 296.6 1364.4 296 1365.6 295.4 1366.9 294.8 1368 294.1 1369.1 293.5 1370.1 292.9 1371.1 292.3 1372 291.7 1372.9 291.2 1373.8 290.6 1374.6 290.1 1375.3 289.6 1376 289.1 1376.6 288.5 1377.2 288.1 1377.8 287.8 1378.4 287.8 1379.1 288 1379.7 288.3 1380.3 288.8 1381 289.5 1381.6 290.2 1382.3 290.9 1383.1 291.7 1383.9 292.7 1384.7 293.7 1385.5 294.7 1386.3 295.6 1387 296.3 1387.7 296.8 1388.4 297.2 1389 297.4 1389.6 297.6 1390.2 297.7 1390.9 297.9 1391.5 298 1392.2 297.9 1392.8 297.9 1393.5 297.8 1394.1 297.9 1394.8 298.2 1395.4 298.7 1396 299.2 1396.7 299.9 1397.3 300.7 1398 301.6 1398.7 302.6 1399.4 303.7 1400.2 305 1401 306.4 1401.7 307.8 1402.5 309.1 1403.3 310.3 1404.1 311.5 1404.9 312.6 1405.7 313.7 1406.5 314.6 1407.3 315.3 1408 315.8 1408.7 315.9 1409.3 315.8 1409.8 315.5 1410.4 315 1411.1 314.3 1411.9 313.4 1412.8 312.3 1413.8 310.9 1414.9 309.3 1416 307.6 1417 305.8 1418.1 304.1 1419.2 302.4 1420.2 300.7 1421.3 298.9 1422.3 297 1423.3 295.1 1424.3 293.2 1425.3 291.3 1426.2 289.2 1427.1 287.2 1428 285.1 1428.9 283 1429.8 280.8 1430.7 278.5 1431.6 276.1 1432.6 273.6 1433.5 271.2 1434.4 268.9 1435.2 266.8 1436 264.8 1436.7 262.8 1437.3 261 1437.9 259.3 1438.5 257.9 1439.1 256.7 1439.7 255.7 1440.2 255 1440.7 254.5 1441.2 254.2 1441.7 254 1442.2 254 1442.8 254.1 1443.4 254.2 1444.1 254.5 1444.7 255.1 1445.4 256 1446.1 257.4 1446.9 259.4 1447.7 261.9 1448.5 264.8 1449.3 267.9 1450.1 271.2 1450.8 274.6 1451.4 278.1 1451.9 281.8 1452.4 285.7 1452.9 289.8 1453.4 293.8 1453.9 297.9 1454.4 301.9 1454.9 306 1455.4 310 1456 314.2 1456.5 318.4 1457 322.8 1457.5 327.3 1458 332 1458.5 336.7 1459 341.5 1459.5 346.2 1460.1 350.8 1460.7 355.6 1461.3 360.7 1462 365.7 1462.7 370.3 1463.3 374 1464 376.4 1464.6 377.5 1465.2 377.5 1465.8 376.6 1466.4 375.1 1467.1 373.1 1467.9 371 1468.8 368.5 1469.8 365.4 1470.9 361.8 1472 358.1 1473 354.3 1474.1 350.8" fill="none" stroke="#000" stroke-width="2.08" stroke-linejoin="round" stroke-linecap="square"/>
<path d="M1497.2 309.1 L1497.8 310 1498.3 310.9 1498.9 311.8 1499.4 312.7 1500.1 313.5 1500.8 314.2 1501.6 314.8 1502.5 315.3 1503.4 315.6 1504.3 316 1505.3 316.4 1506.2 316.9 1507.1 317.5 1508.1 318.4 1509 319.4 1510 320.1 1510.8 320.5 1511.7 320.4 1512.4 319.8 1513.1 318.9 1513.7 317.6 1514.3 315.9 1514.9 314 1515.6 311.9 1516.2 309.3 1516.8 306.2 1517.5 302.8 1518.1 299.4 1518.8 296.1 1519.4 293.2 1520.2 290.6 1521 288 1521.8 285.5 1522.6 283.4 1523.4 281.7 1524.1 280.8 1524.8 280.5 1525.4 280.9 1526.1 281.8 1526.7 283.1 1527.3 284.6 1528 286.2 1528.7 288.2 1529.5 290.7 1530.2 293.5 1531 296.3 1531.8 298.9 1532.7 301 1533.5 302.7 1534.5 304.3 1535.4 305.7 1536.4 306.8 1537.3 307.6 1538.1 308 1538.8 308.2 1539.5 308.1 1540.1 307.7 1540.7 306.9 1541.3 305.7 1542 304.1 1542.7 301.8 1543.5 298.8 1544.2 295.4 1545 291.8 1545.8 288.4 1546.7 285.4 1547.5 282.7 1548.5 279.9 1549.4 277.2 1550.3 274.9 1551.2 273.2 1552.1 272.2 1552.9 272.1 1553.8 272.8 1554.5 274 1555.3 275.6 1556.1 277.4 1556.8 279.2 1557.5 281.2 1558.2 283.7 1558.8 286.3 1559.5 288.9 1560.1 291.3 1560.7 293.2 1561.2 294.8 1561.8 296.1 1562.3 297.3 1562.8 298.1 1563.3 298.6 1563.8 298.7 1564.3 298.4 1564.8 297.7 1565.3 296.7 1565.8 295.4 1566.3 293.7 1566.9 291.7 1567.5 289.1 1568.1 286.1 1568.7 282.7 1569.4 279.2 1570.1 275.6 1570.8 272.2 1571.5 268.6 1572.3 264.7 1573.1 260.7 1573.9 257.1 1574.7 254.4 1575.4 252.8 1576.1 252.4 1576.8 252.9 1577.4 254.2 1578.1 256.2 1578.7 258.9 1579.3 262.1 1580 266.1 1580.6 271 1581.3 276.6 1581.9 282.6 1582.6 288.7 1583.2 294.8 1583.9 301 1584.5 307.5 1585.1 314.1 1585.8 320.8 1586.4 327.4 1587.1 333.7 1587.9 339.9 1588.7 346.3 1589.5 352.6 1590.3 358.5 1591.1 363.7 1591.8 367.9 1592.4 371.1 1592.9 373.5 1593.4 375.3 1593.9 376.4 1594.3 377 1594.9 377.2 1595.5 377 1596.1 376.4 1596.7 375.2 1597.3 373.4 1598 371 1598.8 367.9 1599.6 363.7 1600.5 358.4 1601.5 352.5 1602.5 346.4 1603.4 340.5 1604.2 335.2 1605 330.4 1605.7 325.7 1606.3 321.1 1606.9 317 1607.5 313.3 1608.1 310.3 1608.7 308.1 1609.2 306.4 1609.7 305.3 1610.2 304.6 1610.7 304.2 1611.2 304.1 1611.8 304.4 1612.5 305.3 1613.1 306.4 1613.8 307.8 1614.5 309.2 1615.1 310.3" fill="none" stroke="#f00" stroke-width="2.08" stroke-linejoin="round" stroke-linecap="square"/>
<path d="M1497.2 294.8 L1498.2 294.3 1499.2 293.8 1500.1 293.3 1501.1 292.8 1502.1 292.3 1503.1 291.7 1504.2 290.9 1505.2 290 1506.3 289 1507.4 288.1 1508.4 287.4 1509.3 287 1510.1 286.9 1510.7 287.1 1511.3 287.4 1511.9 287.9 1512.5 288.5 1513.2 289.3 1514 290.4 1514.9 291.8 1515.8 293.3 1516.7 294.8 1517.7 296.2 1518.7 297.1 1519.7 297.6 1520.7 297.7 1521.8 297.7 1522.9 297.6 1523.9 297.6 1524.9 297.9 1525.8 298.4 1526.6 299 1527.3 299.8 1528.1 300.6 1528.8 301.6 1529.6 302.6 1530.3 303.7 1531.1 305 1531.9 306.4 1532.7 307.8 1533.4 309.1 1534.2 310.3 1535 311.5 1535.8 312.6 1536.6 313.7 1537.4 314.6 1538.2 315.3 1538.9 315.8 1539.6 315.9 1540.2 315.8 1540.8 315.5 1541.4 315 1542 314.3 1542.8 313.4 1543.6 312.3 1544.4 310.9 1545.4 309.3 1546.3 307.6 1547.3 305.8 1548.2 304.1 1549.2 302.4 1550.3 300.6 1551.4 298.8 1552.5 296.9 1553.5 295.1 1554.4 293.2 1555.3 291.4 1556.1 289.7 1556.9 287.9 1557.6 286.1 1558.4 284.2 1559.1 282.3 1559.9 280.3 1560.7 278.2 1561.4 276.1 1562.2 274 1563 271.9 1563.8 269.9 1564.6 267.9 1565.4 265.9 1566.2 264 1566.9 262.1 1567.7 260.4 1568.4 259 1569.1 257.8 1569.8 256.7 1570.4 255.8 1571.1 255.1 1571.7 254.6 1572.3 254.3 1573 254.1 1573.6 254 1574.2 254 1574.9 254.4 1575.5 255.2 1576.2 256.7 1577 258.8 1577.7 261.4 1578.5 264.6 1579.3 268.1 1580.1 272 1580.9 276.1 1581.7 280.7 1582.5 285.7 1583.3 291.1 1584.1 296.6 1584.8 302.1 1585.6 307.2 1586.2 312 1586.9 316.7 1587.5 321.2 1588.2 325.8 1588.8 330.4 1589.4 335.2 1590.1 340.5 1590.8 346.1 1591.5 351.8 1592.2 357.3 1592.8 362.3 1593.3 366.3 1593.8 369.5 1594.2 372 1594.5 374 1594.9 375.5 1595.3 376.5 1595.7 377.2 1596.1 377.5 1596.5 377.4 1597 376.8 1597.5 375.8 1598.1 374.4 1598.8 372.6 1599.6 370.1 1600.5 367 1601.5 363.4 1602.5 359.6 1603.5 355.9 1604.5 352.3" fill="none" stroke="#000" stroke-width="2.08" stroke-linejoin="round" stroke-linecap="square"/>
<path d="M1604.5 352.3 L1604.5 299.4" fill="none" stroke="#000" stroke-width="2.08" stroke-linejoin="round" stroke-linecap="square"/>
<path d="M1604.5 299.4 L1608.9 297.1 1615.1 294.8" fill="none" stroke="#000" stroke-width="2.08" stroke-linejoin="round" stroke-linecap="square"/>
<path d="M1419.6 489.4 L1420.5 490.7 1421.4 492 1422.3 493.3 1423.2 494.6 1423.9 495.9 1424.5 497.2 1424.9 498.5 1425.3 499.9 1425.6 501.3 1425.7 502.6 1425.6 504 1425.3 505.3 1424.8 506.6 1424.2 507.9 1423.4 509.2 1422.4 510.5 1421.2 511.6 1419.6 512.6 1417.7 513.5 1415.5 514.4 1413.1 515.2 1410.5 515.8 1407.8 516.2 1405 516.3 1402.2 516.2 1399.2 515.9 1396.1 515.5 1393 514.7 1390 513.8 1387.2 512.6 1384.5 511.2 1382 509.5 1379.5 507.6 1377.1 505.5 1374.8 503.1 1372.6 500.4 1370.4 497.5 1368.3 494.2 1366.3 490.7 1364.4 487.1 1362.7 483.2 1361.2 479.3 1360 475.2 1359 470.8 1358.1 466.3 1357.4 461.7 1357 457.4 1356.7 453.4 1356.6 449.7 1356.7 446.2 1357 442.9 1357.5 439.8 1358.1 436.8 1358.8 433.9 1359.6 431.2 1360.6 428.6 1361.8 426.1 1363 423.8 1364.5 421.5 1366.1 419.3 1367.8 417.2 1369.8 415.2 1371.8 413.3 1374.1 411.5 1376.5 409.7 1379.1 408 1381.9 406.2 1385 404.4 1388.2 402.7 1391.6 401 1395 399.5 1398.5 398.2 1402.1 397.1 1405.8 396.2 1409.6 395.4 1413.4 394.8 1417.3 394.2 1421.2 393.7 1425.3 393.2 1429.5 392.8 1433.7 392.4 1437.9 392.2 1441.9 392 1445.6 392.1 1449 392.3 1452.3 392.6 1455.4 393.1 1458.3 393.7 1461 394.3 1463.4 395 1465.6 395.7 1467.6 396.4 1469.4 397.2 1470.9 398.1 1472.2 399 1473.2 399.8 1473.9 400.7 1474.3 401.6 1474.5 402.5 1474.4 403.5 1473.9 404.5 1473.2 405.5 1472 406.6 1470.4 407.8 1468.5 409 1466.4 410.3 1464.1 411.5 1461.8 412.8 1459.3 414.2 1456.5 415.6 1453.6 417.1 1450.7 418.5 1448 419.8 1445.6 420.9 1443.4 422 1441.4 422.9 1439.5 423.7 1437.9 424.4 1436.5 425 1435.5 425.5 1435 425.7 1434.9 425.7 1435.1 425.6 1435.4 425.5 1435.6 425.4 1435.6 425.6 1435.1 425.9 1434.6 426.4 1433.9 426.9 1433.2 427.5 1432.5 428.1 1432 428.7 1431.6 429.2 1431.2 429.8 1430.9 430.4 1430.7 431 1430.6 431.6 1430.7 432.2 1430.9 432.8 1431.3 433.5 1431.9 434.1 1432.5 434.7 1433.2 435.2 1433.8 435.6 1434.4 435.8 1434.9 436 1435.6 436.1 1436.2 436.1 1436.9 436.1 1437.8 436 1438.8 435.9 1440 435.7 1441.2 435.5 1442.4 435.2 1443.5 434.8 1444.4 434.4 1445.2 434 1445.8 433.4 1446.4 432.8 1446.8 432.1 1447 431.5 1447.1 430.9 1447 430.3 1446.8 429.7 1446.4 429.1 1445.8 428.5 1445.2 428 1444.4 427.6 1443.6 427.2 1442.6 426.9 1441.5 426.7 1440.3 426.5 1439.1 426.4 1437.8 426.2 1436.5 426.1 1435.1 426 1433.6 425.9 1432.1 425.9 1430.5 425.9 1428.9 426 1427.1 426.2 1425.2 426.4 1423.2 426.7 1421.3 427 1419.4 427.4 1417.8 427.8 1416.2 428.2 1414.7 428.6 1413.2 429.1 1412 429.6 1411 430 1410.2 430.4 1409.9 430.8 1409.8 431.2 1410 431.6 1410.4 432 1410.8 432.3 1411.1 432.7 1411.5 433 1411.9 433.3 1412.4 433.6 1412.9 433.8 1413.4 434.1 1413.8 434.4 1414.1 434.8 1414.3 435.2 1414.5 435.6 1414.7 436 1415.1 436.3 1415.6 436.7 1416.3 436.9 1417.2 437.1 1418.3 437.3 1419.3 437.5 1420.2 437.8 1420.9 438.2 1421.3 438.8 1421.5 439.5 1421.6 440.3 1421.6 441.1 1421.8 442 1422.2 442.9 1422.8 443.8 1423.6 444.8 1424.4 445.8 1425.4 446.8 1426.4 447.8 1427.6 448.7 1428.8 449.5 1430.1 450.3 1431.6 451 1433.1 451.7 1434.7 452.3 1436.4 452.9 1438.4 453.4 1440.5 453.9 1442.8 454.4 1445 454.8 1447.1 455 1448.9 455.1 1450.4 455.1 1451.9 454.8 1453.1 454.5 1454.2 454.1 1455 453.6 1455.6 453.1 1455.8 452.5 1455.9 451.9 1455.7 451.2 1455.2 450.4 1454.6 449.6 1453.8 448.7 1452.6 447.7 1451.2 446.6 1449.5 445.5 1447.7 444.3 1446 443.2 1444.4 442.2 1443 441.3 1441.7 440.3 1440.3 439.5 1439 438.6 1437.7 437.9 1436.4 437.3 1435.1 436.9 1433.8 436.6 1432.5 436.4 1431.3 436.2 1430 436.1 1428.9 436 1427.8 435.9 1426.7 435.8 1425.7 435.8 1424.7 435.8 1423.8 435.9 1423.1 436 1422.5 436.2 1422.1 436.4 1421.8 436.7 1421.5 437 1421.2 437.3 1420.9 437.6" fill="none" stroke="#000" stroke-width="2.08" stroke-linejoin="round" stroke-linecap="square"/>
<path d="M1553.3 428.9 L1552.8 428.6 1552.3 428.3 1551.8 428 1551.3 427.7 1550.9 427.4 1550.7 427.1 1550.6 426.8 1550.7 426.3 1550.9 425.9 1551.2 425.6 1551.5 425.3 1551.8 425.1 1552.1 425.1 1552.5 425.2 1553 425.4 1553.4 425.6 1553.9 425.9 1554.2 426.2 1554.5 426.6 1554.7 427.1 1554.8 427.6 1555 428.1 1555.2 428.6 1555.6 429.1 1555.9 429.5 1556.3 430 1556.8 430.4 1557.3 430.8 1557.9 431.2 1558.7 431.6 1559.5 431.9 1560.4 432.3 1561.4 432.6 1562.5 432.9 1563.7 433.2 1564.9 433.6 1566.1 433.9 1567.4 434.2 1568.8 434.5 1570.3 434.8 1571.9 435.1 1573.8 435.3 1576.2 435.5 1579.1 435.6 1582.2 435.6 1585.1 435.7 1587.3 435.8 1588.4 436 1588.4 436.3 1587.4 436.5 1585.8 436.9 1583.9 437.3 1581.8 437.9 1580 438.7 1578.3 439.7 1576.3 441 1574.4 442.4 1572.4 443.8 1570.5 445.3 1568.9 446.7 1567.3 448.1 1565.6 449.6 1564.1 451.2 1562.8 452.5 1562 453.6 1561.8 454.2 1562.3 454.3 1563.5 454 1565.2 453.3 1567.1 452.5 1569.1 451.6 1571.1 450.7 1573.1 449.7 1575.3 448.7 1577.7 447.5 1580 446.3 1582.3 445.1 1584.4 444 1586.5 442.9 1588.7 441.8 1590.7 440.8 1592.6 439.7 1594.3 438.7 1595.6 437.8 1596.5 436.9 1597.1 436.2 1597.5 435.5 1597.6 434.8 1597.5 434.1 1597.3 433.3 1596.9 432.5 1596.4 431.6 1595.6 430.7 1594.6 429.7 1593.5 428.8 1592.3 427.7 1590.8 426.7 1589.1 425.6 1587.2 424.4 1585.3 423.3 1583.4 422.1 1581.7 420.9 1580.1 419.8 1578.4 418.6 1576.7 417.4 1575.2 416.2 1573.8 415 1572.8 413.6 1572 412.2 1571.3 410.7 1570.9 409.1 1570.7 407.6 1570.7 406.1 1571.2 404.7 1572 403.5 1573.1 402.3 1574.5 401.2 1576.2 400.2 1578.1 399.2 1580.1 398.2 1582.4 397.3 1585 396.3 1587.9 395.4 1590.8 394.6 1593.6 393.9 1596.3 393.4 1599 392.9 1601.7 392.6 1604.4 392.3 1606.9 392.2 1609.1 392.3 1610.9 392.5 1612.3 393 1613.4 393.7 1614.1 394.5 1614.6 395.4 1614.9 396.4 1615 397.4 1614.9 398.5 1614.5 399.5 1613.9 400.7 1613.1 401.9 1612.1 403.3 1610.9 404.7 1609.5 406.3 1607.9 407.9 1606 409.6 1604 411.4 1601.8 413.3 1599.6 415.3 1597.2 417.3 1594.6 419.3 1592 421.4 1589.2 423.6 1586.3 425.9 1583.3 428.2 1580.3 430.6 1577.2 433.1 1573.9 435.6 1570.6 438.2 1567.2 440.9 1563.9 443.6 1560.5 446.5 1557.1 449.4 1553.6 452.5 1550.1 455.6 1546.5 458.9 1542.8 462.3 1538.8 466 1534.5 470 1530.2 474.2 1526 478.3 1522 482.2 1518.4 485.8 1515.4 489.1 1512.5 492.1 1510 495 1507.7 497.7 1505.7 500.3 1503.8 502.9 1502.3 505.3 1501.2 507.5 1500.2 509.6 1499.4 511.7 1498.6 513.7 1497.7 515.8" fill="none" stroke="#000" stroke-width="2.08" stroke-linejoin="round" stroke-linecap="square"/>
<path d="M1497.7 515.8 L1513.6 506.1 1542 491 1542.8 438 1570.4 435.5" fill="none" stroke="#000" stroke-width="2.08" stroke-linejoin="round" stroke-linecap="square"/>
<rect x="1351.5" y="108.5" width="128.0" height="66.0" fill="none" stroke="#000" stroke-width="1.11"/>
<rect x="1351.5" y="178.5" width="128.0" height="66.0" fill="none" stroke="#000" stroke-width="1.11"/>
<rect x="1492.5" y="108.5" width="128.0" height="66.0" fill="none" stroke="#000" stroke-width="1.11"/>
<rect x="1492.5" y="178.5" width="128.0" height="66.0" fill="none" stroke="#000" stroke-width="1.11"/>
<rect x="1351.5" y="247.5" width="128.0" height="136.0" fill="none" stroke="#000" stroke-width="1.11"/>
<rect x="1492.5" y="247.5" width="128.0" height="136.0" fill="none" stroke="#000" stroke-width="1.11"/>
<rect x="1351.5" y="387.5" width="128.0" height="135.0" fill="none" stroke="#000" stroke-width="1.11"/>
<rect x="1492.5" y="387.5" width="128.0" height="135.0" fill="none" stroke="#000" stroke-width="1.11"/>
<text x="1415.23" y="99.67" font-size="16.67" text-anchor="middle" textLength="62.3" lengthAdjust="spacingAndGlyphs">original</text>
<text x="1556.01" y="99.67" font-size="16.67" text-anchor="middle" textLength="79.2" lengthAdjust="spacingAndGlyphs">corrected</text>
<text x="1345.68" y="137.86" font-size="13.89" text-anchor="middle">R</text>
<text x="1345.68" y="207.46" font-size="13.89" text-anchor="middle">T</text>
<defs><clipPath id="cc"><rect x="1351.24" y="525.84" width="268.76" height="275.16"/></clipPath></defs><g clip-path="url(#cc)">
<path d="M1434.8 779 L1433.6 779.6 1433.5 779.6 1432 780.4 1431.9 780.4 1430.4 781.1 1430.2 781.2 1428.8 781.9 1428.5 782 1427.1 782.7 1426.8 782.8 1425.3 783.4 1425.1 783.5 1423.5 784.1 1423.3 784.2 1421.8 784.7 1421.1 784.9 1420.1 785.3 1418.5 785.7 1418.4 785.7 1416.7 786.1 1415.1 786.3 1413.4 786.5 1411.7 786.4 1410 786.1 1408.7 785.7 1408.4 785.6 1407.2 784.9 1406.7 784.7 1406.1 784.2 1405.3 783.4 1405 783.1 1404.6 782.7 1404.1 781.9 1403.7 781.1 1403.3 780.4 1403.3 780.3 1403.1 779.6 1402.8 778.8 1402.7 778.1 1402.6 777.3 1402.5 776.5 1402.5 775.8 1402.5 775 1402.5 774.2 1402.6 773.5 1402.7 772.7 1402.8 772 1403 771.2 1403.2 770.4 1403.3 770.2 1403.5 769.7 1403.8 768.9 1404.1 768.1 1404.5 767.4 1404.9 766.6 1405 766.4 1405.3 765.8 1405.8 765.1 1406.3 764.3 1406.7 763.8 1406.8 763.5 1407.4 762.8 1408.1 762 1408.4 761.7 1408.8 761.3 1409.6 760.5 1410 760.1 1410.4 759.7 1411.3 759 1411.7 758.6 1412.3 758.2 1413.3 757.4 1413.4 757.4 1414.4 756.7 1415.1 756.3 1415.6 755.9 1416.7 755.3 1417 755.1 1418.4 754.4 1420 753.6 1420.1 753.6 1421.7 752.8 1421.8 752.8 1423.5 752.1 1423.6 752.1 1425.1 751.5 1425.8 751.3 1426.8 751 1428.2 750.6 1428.5 750.5 1430.2 750 1431 749.8 1431.9 749.6 1433.5 749.2 1434.2 749 1435.2 748.8 1436.9 748.5 1438.2 748.3 1438.6 748.2 1440.3 747.9 1441.9 747.7 1443.4 747.5 1443.6 747.5 1445.3 747.3 1447 747.1 1448.7 747 1450.3 746.8 1452 746.8 1452.6 746.7 1453.7 746.7 1455.4 746.6 1457.1 746.6 1458.7 746.6 1460.4 746.7 1461.5 746.7 1462.1 746.8 1463.8 746.9 1465.5 747 1467.1 747.2 1468.7 747.5 1468.8 747.5 1470.5 747.9 1471.9 748.3 1472.2 748.4 1473.8 749 1473.9 749.1 1475 749.8 1475.5 750.4 1475.7 750.6 1476.1 751.3 1476.1 752.1 1476 752.6" fill="none" stroke="#000" stroke-width="2.08" stroke-linejoin="round"/>
<path d="M1366.7 801 L1366.7 800.2 1366.6 799.5 1366.5 798.7 1366.5 797.9 1366.5 797.2 1366.4 796.4 1366.4 795.6 1366.4 795 1366.4 794.9 1366.3 794.1 1366.3 793.4 1366.3 792.6 1366.3 791.8 1366.3 791.1 1366.3 790.3 1366.3 789.5 1366.3 788.8 1366.3 788 1366.3 787.2 1366.4 786.5 1366.4 786.3 1366.4 785.7 1366.4 784.9 1366.5 784.2 1366.5 783.4 1366.5 782.7 1366.6 781.9 1366.7 781.1 1366.7 780.4 1366.8 779.6 1366.9 778.8 1367 778.1 1367 777.3 1367.1 776.5 1367.2 775.8 1367.3 775 1367.5 774.2 1367.6 773.5 1367.7 772.7 1367.8 772 1368 771.2 1368 770.9 1368.1 770.4 1368.3 769.7 1368.5 768.9 1368.6 768.1 1368.8 767.4 1369 766.6 1369.2 765.8 1369.4 765.1 1369.6 764.3 1369.7 764.1 1369.9 763.5 1370.1 762.8 1370.4 762 1370.7 761.3 1371 760.5 1371.3 759.7 1371.4 759.5 1371.6 759 1372 758.2 1372.3 757.4 1372.7 756.7 1373.1 756 1373.1 755.9 1373.5 755.1 1374 754.4 1374.5 753.6 1374.8 753.2 1375 752.8 1375.5 752.1 1376.1 751.3 1376.4 750.9 1376.7 750.6 1377.4 749.8 1378.1 749 1378.8 748.3 1379.6 747.5 1379.8 747.3 1380.5 746.7 1381.4 746 1381.5 745.9 1382.4 745.2 1383.2 744.7 1383.5 744.4 1384.7 743.7 1384.8 743.6 1386 742.9 1386.5 742.6 1387.5 742.1 1388.2 741.8 1389 741.4 1389.9 741 1390.8 740.6 1391.6 740.3 1392.7 739.9 1393.2 739.7 1394.9 739.1 1396.6 738.6 1397.4 738.3 1398.2 738.1" fill="none" stroke="#000" stroke-width="2.08" stroke-linejoin="round"/>
<path d="M1447.4 732.3 L1448.7 732.3 1450.3 732.2 1451 732.2 1452 732.2 1453.7 732.1 1455.4 732.1 1457.1 732 1458.7 732 1460.4 732 1462.1 731.9 1463.8 731.9 1465.5 731.9 1467.1 731.9 1468.8 731.9 1470.5 731.8 1472.2 731.8 1473.9 731.8 1475.5 731.8 1477.2 731.8 1478.9 731.8 1480.6 731.8 1482.3 731.8 1483.9 731.8 1485.6 731.9 1487.3 731.9 1489 731.9 1490.7 731.9 1492.3 732 1494 732 1495.7 732 1497.4 732.1 1499.1 732.1 1500.7 732.2 1501.9 732.2 1502.4 732.2 1504.1 732.3 1505.8 732.4 1507.5 732.4 1509.1 732.5 1510.8 732.6 1512.5 732.7 1514.2 732.8 1515.9 732.9 1517.5 733 1517.6 733 1519.2 733.1 1520.9 733.2 1522.6 733.4 1524.3 733.5 1525.9 733.7 1526.6 733.7 1527.6 733.8 1529.3 734 1531 734.3 1532.7 734.5 1534.3 734.8 1536 735.1 1537 735.3 1537.7 735.4 1539.4 735.9 1540 736 1541.1 736.4 1542.2 736.8 1542.7 737.1 1543.6 737.6 1544.4 738.3 1544.5 738.3 1544.9 739.1 1545 739.9 1544.8 740.6 1544.4 741.3 1544.4 741.4 1543.7 742.1 1542.8 742.9 1542.7 743 1541.9 743.7 1541.1 744.2 1540.7 744.4 1539.5 745.2 1539.4 745.3 1538.2 746 1537.7 746.2 1536.8 746.7 1536 747.1 1535.3 747.5 1534.3 748 1533.8 748.3 1532.7 748.8 1532.3 749 1531 749.6 1530.7 749.8 1529.3 750.4 1529 750.6 1527.6 751.2 1527.4 751.3 1525.9 752 1525.7 752.1 1524.3 752.7 1524 752.8 1522.6 753.5 1522.3 753.6 1520.9 754.2 1520.5 754.4 1519.2 755 1518.8 755.1 1517.5 755.7 1517.1 755.9 1515.9 756.4 1515.3 756.7 1514.2 757.2 1513.6 757.4 1512.5 757.9 1511.9 758.2 1510.8 758.7 1510.2 759 1509.1 759.4 1508.4 759.7 1507.5 760.2 1506.7 760.5 1505.8 760.9 1505 761.3 1504.1 761.7 1503.4 762 1502.4 762.4 1501.7 762.8 1500.7 763.2 1500 763.5 1499.1 764 1498.4 764.3 1497.4 764.8 1496.8 765.1 1495.7 765.6 1495.2 765.8 1494 766.4 1493.6 766.6 1492.3 767.2 1492 767.4 1490.7 768 1490.4 768.1 1489 768.9 1488.9 768.9 1487.4 769.7 1487.3 769.7 1485.9 770.4 1485.6 770.6 1484.4 771.2 1483.9 771.4 1483 772 1482.3 772.3 1481.5 772.7 1480.6 773.2 1480.1 773.5 1478.9 774.2 1478.8 774.2 1477.4 775 1477.2 775.1 1476.1 775.8 1475.5 776.1 1474.8 776.5 1473.9 777.1 1473.5 777.3 1472.2 778.1 1471 778.8 1470.5 779.1 1469.7 779.6 1468.8 780.2 1468.5 780.4 1467.4 781.1 1467.1 781.3 1466.2 781.9 1465.5 782.4 1465.1 782.7 1464 783.4 1463.8 783.6 1462.9 784.2 1462.1 784.8 1461.9 784.9 1460.8 785.7 1460.4 786 1459.8 786.5 1458.8 787.2 1458.7 787.3 1457.9 788 1457.1 788.7 1456.9 788.8 1456 789.5 1455.4 790.1 1455.1 790.3 1454.2 791.1 1453.7 791.5 1453.4 791.8 1452.5 792.6 1452 793.1 1451.7 793.4 1450.9 794.1 1450.3 794.7 1450.2 794.9 1449.4 795.6 1448.7 796.4 1448 797.2 1447.3 797.9 1447 798.2 1446.6 798.7 1445.9 799.5 1445.3 800.2 1444.6 801" fill="none" stroke="#000" stroke-width="2.08" stroke-linejoin="round"/>
<path d="M1444.6 525.8 L1444 526.6 1443.6 527.1 1443.4 527.4 1442.9 528.1 1442.3 528.9 1441.9 529.4 1441.8 529.7 1441.2 530.4 1440.7 531.2 1440.3 531.9 1440.2 532 1439.7 532.7 1439.2 533.5 1438.8 534.2 1438.6 534.6 1438.3 535 1437.9 535.8 1437.5 536.5 1437.1 537.3 1436.9 537.6 1436.7 538.1 1436.3 538.8 1435.9 539.6 1435.5 540.4 1435.2 541 1435.2 541.1 1434.8 541.9 1434.5 542.7 1434.1 543.4 1433.8 544.2 1433.5 544.7 1433.4 544.9 1433.1 545.7 1432.8 546.5 1432.5 547.2 1432.1 548 1431.9 548.7 1431.8 548.8 1431.5 549.5 1431.2 550.3 1430.8 551.1 1430.5 551.8 1430.2 552.5 1430.1 552.6 1429.7 553.4 1429.4 554.1 1428.9 554.9 1428.5 555.6 1428.5 555.7 1428 556.4 1427.5 557.2 1427 557.9 1426.8 558.2 1426.4 558.7 1425.7 559.5 1425.1 560.1 1425 560.2 1424.1 561 1423.5 561.5 1423.2 561.8 1422 562.5 1421.8 562.7 1420.7 563.3 1420.1 563.6 1419 564.1 1418.4 564.3 1417 564.8 1416.7 564.9 1415.1 565.3 1414 565.6 1413.4 565.7 1411.7 566 1410 566.2 1408.4 566.3 1407.7 566.3 1406.7 566.4 1405 566.4 1403.3 566.4 1403 566.3 1401.6 566.3 1400 566.1 1398.3 565.9 1396.6 565.6 1396.3 565.6 1394.9 565.3 1394.2 565.1" fill="none" stroke="#000" stroke-width="2.08" stroke-linejoin="round"/>
<path d="M1367 528.2 L1367 528.1 1366.9 527.4 1366.8 526.6 1366.7 525.8" fill="none" stroke="#000" stroke-width="2.08" stroke-linejoin="round"/>
<path d="M1620 741.5 L1618.3 741.7 1616.6 741.9 1615 742.1 1614.7 742.1 1613.3 742.3 1611.6 742.5 1609.9 742.8 1609 742.9 1608.2 743 1606.6 743.3 1604.9 743.5 1603.8 743.7 1603.2 743.8 1601.5 744 1599.8 744.3 1599.1 744.4 1598.2 744.6 1596.5 744.9 1594.8 745.2 1594.6 745.2 1593.1 745.5 1591.4 745.8 1590.5 746 1589.8 746.1 1588.1 746.4 1586.5 746.7 1586.4 746.8 1584.7 747.1 1583 747.4 1582.8 747.5 1581.4 747.8 1579.7 748.2 1579.2 748.3 1578 748.5 1576.3 748.9 1575.8 749 1574.6 749.3 1573 749.7 1572.5 749.8 1571.3 750.1 1569.6 750.5 1569.3 750.6 1567.9 750.9 1566.2 751.3 1564.6 751.7 1563.3 752.1 1562.9 752.2 1561.2 752.6 1560.4 752.8 1559.5 753.1 1557.8 753.5 1557.6 753.6 1556.2 754 1554.8 754.4 1554.5 754.5 1552.8 754.9 1552.2 755.1 1551.1 755.4 1549.5 755.9 1547.9 756.4" fill="none" stroke="#000" stroke-width="2.08" stroke-linejoin="round"/>
<path d="M1501.7 774.1 L1501.4 774.2 1500.7 774.6 1499.9 775 1499.1 775.4 1498.4 775.8 1497.4 776.3 1497 776.5 1495.7 777.2 1495.5 777.3 1494.2 778.1 1494 778.2 1492.8 778.8 1492.3 779.1 1491.5 779.6 1490.7 780.1 1490.2 780.4 1489 781.1 1487.7 781.9 1487.3 782.2 1486.5 782.7 1485.6 783.3 1485.4 783.4 1484.2 784.2 1483.9 784.4 1483.1 784.9 1482.3 785.6 1482.1 785.7 1481 786.5 1480.6 786.8 1480 787.2 1479 788 1478.9 788.1 1478.1 788.8 1477.2 789.5 1476.3 790.3 1475.5 790.9 1475.4 791.1 1474.6 791.8 1473.9 792.5 1473.7 792.6 1473 793.4 1472.2 794.1 1471.5 794.9 1470.8 795.6 1470.5 795.9 1470.1 796.4 1469.4 797.2 1468.8 797.9 1468.2 798.7 1467.6 799.5 1467.1 800.1 1467.1 800.2 1466.5 801" fill="none" stroke="#000" stroke-width="2.08" stroke-linejoin="round"/>
<path d="M1620 609.5 L1618.3 609.4 1616.6 609.4 1615 609.3 1613.3 609.3 1611.6 609.2 1610.3 609.2 1609.9 609.1 1608.2 609.1 1606.6 609 1604.9 608.9 1603.2 608.8 1601.5 608.8 1599.8 608.7 1598.2 608.6 1596.5 608.5 1594.8 608.4 1594.1 608.4 1593.1 608.3 1591.4 608.2 1589.8 608.1 1588.1 608 1586.4 607.9 1584.7 607.8 1583 607.7 1581.8 607.6 1581.4 607.6 1579.7 607.5 1578 607.4 1576.3 607.2 1574.6 607.1 1573 607 1571.4 606.9 1571.3 606.9 1569.6 606.7 1567.9 606.6 1566.2 606.4 1564.6 606.3 1562.9 606.1 1562.3 606.1 1561.2 606 1559.5 605.8 1557.8 605.7 1556.2 605.5 1554.5 605.4 1554 605.3 1552.8 605.2 1551.1 605 1549.5 604.9 1547.8 604.7 1546.4 604.6 1546.1 604.5 1544.4 604.4 1542.7 604.2 1541.1 604 1539.4 603.8 1539.3 603.8 1537.7 603.6 1536 603.4 1534.3 603.2 1532.7 603.1 1532.5 603 1531 602.9 1529.3 602.7 1527.6 602.5 1525.9 602.3 1524.3 602.1 1522.6 601.9 1520.9 601.7 1519.5 601.5 1519.2 601.5 1517.5 601.3 1515.9 601.1 1514.2 600.9 1513.2 600.7 1512.5 600.7 1510.8 600.4 1509.1 600.2 1507.5 600 1506.9 600 1505.8 599.8 1504.1 599.6 1502.4 599.4 1500.7 599.2 1500.4 599.2 1499.1 599.1 1497.4 598.9 1495.7 598.7 1494 598.5 1493.7 598.5 1492.3 598.3 1490.7 598.1 1489 597.9 1487.3 597.8 1486.6 597.7 1485.6 597.6 1483.9 597.4 1482.3 597.3 1480.6 597.1 1478.9 596.9 1478.7 596.9 1477.2 596.8 1475.5 596.6 1473.9 596.5 1472.2 596.4 1470.5 596.2 1469.4 596.2 1468.8 596.1 1467.1 596 1465.5 595.9 1463.8 595.8 1462.1 595.7 1460.4 595.6 1458.7 595.5 1457.5 595.4 1457.1 595.4 1455.4 595.3 1453.7 595.2 1452 595.1 1450.3 595 1448.7 595 1447 594.9 1445.3 594.9 1443.6 594.8 1441.9 594.8 1440.3 594.7 1438.6 594.7 1436.9 594.7 1435.2 594.6 1434.5 594.6 1433.5 594.6 1431.9 594.6 1430.2 594.6 1428.5 594.6 1426.8 594.6 1425.1 594.6 1423.5 594.6 1421.8 594.6 1421.1 594.6 1420.1 594.6 1418.4 594.7 1416.7 594.7 1415.1 594.8 1413.4 594.8 1411.7 594.9 1410 594.9 1408.4 595 1406.7 595.1 1405 595.2 1403.3 595.3 1401.9 595.4 1401.6 595.4 1400 595.5 1398.3 595.7 1396.6 595.8 1394.9 596 1393.7 596.2 1393.2 596.2 1391.6 596.4 1389.9 596.7 1388.3 596.9 1388.2 596.9 1386.5 597.2 1384.8 597.6 1384.3 597.7 1383.2 597.9 1381.5 598.4 1381.2 598.5 1379.8 598.8 1378.6 599.2 1378.1 599.4 1376.5 600 1376.4 600 1374.8 600.7 1374.7 600.7 1373.2 601.5 1373.1 601.6 1371.9 602.3 1371.4 602.6 1370.7 603 1369.7 603.8 1368.7 604.6 1368 605.2 1367.9 605.3 1367.2 606.1 1366.5 606.9 1366.4 607 1365.9 607.6 1365.3 608.4 1364.8 609.2 1364.7 609.3 1364.3 609.9 1363.9 610.7 1363.5 611.4 1363.1 612.2 1363 612.4 1362.7 613 1362.4 613.7 1362.1 614.5 1361.8 615.3 1361.6 616 1361.3 616.7 1361.3 616.8 1361.1 617.6 1360.8 618.3 1360.6 619.1 1360.4 619.9 1360.2 620.6 1360.1 621.4 1359.9 622.1 1359.7 622.9 1359.6 623.4 1359.6 623.7 1359.4 624.4 1359.3 625.2 1359.2 626 1359.1 626.7 1358.9 627.5 1358.8 628.3 1358.7 629 1358.6 629.8 1358.5 630.6 1358.4 631.3 1358.3 632.1 1358.3 632.8 1358.2 633.6 1358.1 634.4 1358 635.1 1358 635.9 1358 636.2 1357.9 636.7 1357.9 637.4 1357.8 638.2 1357.7 639 1357.7 639.7 1357.6 640.5 1357.6 641.3 1357.5 642 1357.5 642.8 1357.5 643.5 1357.4 644.3 1357.4 645.1 1357.4 645.8 1357.3 646.6 1357.3 647.4 1357.3 648.1 1357.3 648.9 1357.2 649.7 1357.2 650.4 1357.2 651.2 1357.2 652 1357.2 652.7 1357.2 653.5 1357.1 654.2 1357.1 655 1357.1 655.8 1357.1 656.5 1357.1 657.3 1357.1 658.1 1357.1 658.8 1357.1 659.6 1357.1 660.4 1357.1 661.1 1357.1 661.9 1357.2 662.7 1357.2 663.4 1357.2 664.2 1357.2 664.9 1357.2 665.7 1357.2 666.5 1357.3 667.2 1357.3 668 1357.3 668.8 1357.3 669.5 1357.4 670.3 1357.4 671.1 1357.4 671.8 1357.5 672.6 1357.5 673.4 1357.6 674.1 1357.6 674.9 1357.6 675.6 1357.7 676.4 1357.7 677.2 1357.8 677.9 1357.9 678.7 1357.9 679.5 1358 679.9 1358 680.2 1358 681 1358.1 681.8 1358.2 682.5 1358.3 683.3 1358.4 684.1 1358.4 684.8 1358.5 685.6 1358.6 686.3 1358.7 687.1 1358.8 687.9 1358.9 688.6 1359.1 689.4 1359.2 690.2 1359.3 690.9 1359.4 691.7 1359.6 692.5 1359.6 692.7 1359.7 693.2 1359.9 694 1360.1 694.8 1360.2 695.5 1360.4 696.3 1360.6 697.1 1360.8 697.8 1361.1 698.6 1361.3 699.3 1361.3 699.4 1361.6 700.1 1361.8 700.9 1362.1 701.6 1362.4 702.4 1362.7 703.2 1363 703.7 1363.1 703.9 1363.5 704.7 1363.9 705.5 1364.3 706.2 1364.7 706.8 1364.8 707 1365.3 707.8 1365.9 708.5 1366.4 709.1 1366.5 709.3 1367.2 710 1367.9 710.8 1368 710.9 1368.7 711.6 1369.7 712.3 1369.7 712.4 1370.7 713.1 1371.4 713.6 1371.8 713.9 1373.1 714.6 1373.2 714.6 1374.7 715.4 1374.8 715.4 1376.4 716.2 1378.1 716.8 1378.5 716.9 1379.8 717.4 1380.9 717.7 1381.5 717.9 1383.2 718.3 1383.8 718.5 1384.8 718.7 1386.5 719 1387.5 719.2 1388.2 719.3 1389.9 719.6 1391.6 719.9 1392.1 720 1393.2 720.1 1394.9 720.4 1396.6 720.6 1398.3 720.7 1400 720.9 1401.6 721.1 1403.3 721.2 1405 721.4 1406.7 721.5 1406.9 721.5 1408.4 721.6 1410 721.7 1411.7 721.8 1413.4 721.9 1415.1 722 1416.7 722.1 1418.4 722.2 1420.1 722.3 1420.5 722.3 1421.8 722.3 1423.5 722.4 1425.1 722.5 1426.8 722.5 1428.5 722.6 1430.2 722.6 1431.9 722.7 1433.5 722.7 1435.2 722.8 1436.9 722.8 1438.6 722.9 1440.3 722.9 1441.9 722.9 1443.6 723 1445.3 723 1447 723 1447.9 723 1448.7 723.1 1450.3 723.1 1452 723.1 1453.7 723.1 1455.4 723.1 1457.1 723.2 1458.7 723.2 1460.4 723.2 1462.1 723.2 1463.8 723.2 1465.5 723.2 1467.1 723.3 1468.8 723.3 1470.5 723.3 1472.2 723.3 1473.9 723.3 1475.5 723.3 1477.2 723.3 1478.9 723.3 1480.6 723.3 1482.3 723.3 1483.9 723.3 1485.6 723.3 1487.3 723.3 1489 723.3 1490.7 723.3 1492.3 723.3 1494 723.3 1495.7 723.3 1497.4 723.3 1499.1 723.3 1500.7 723.3 1502.4 723.3 1504.1 723.3 1505.8 723.3 1507.5 723.3 1509.1 723.2 1510.8 723.2 1512.5 723.2 1514.2 723.2 1515.9 723.2 1517.5 723.2 1519.2 723.2 1520.9 723.1 1522.6 723.1 1524.3 723.1 1525.9 723.1 1527.6 723.1 1528.7 723 1529.3 723 1531 723 1532.7 723 1534.3 723 1536 722.9 1537.7 722.9 1539.4 722.9 1541.1 722.8 1542.7 722.8 1544.4 722.8 1546.1 722.7 1547.8 722.7 1549.5 722.7 1551.1 722.6 1552.8 722.6 1554.5 722.6 1556.2 722.5 1557.8 722.5 1559.5 722.4 1561.2 722.4 1562.4 722.4" fill="none" stroke="#000" stroke-width="2.08" stroke-linejoin="round"/>
<path d="M1611.8 720.5 L1613.3 720.4 1615 720.3 1616.6 720.3 1618.3 720.2 1620 720.1" fill="none" stroke="#000" stroke-width="2.08" stroke-linejoin="round"/>
<path d="M1466.5 525.8 L1466 526.6 1465.6 527.4 1465.5 527.5 1465.1 528.1 1464.7 528.9 1464.3 529.7 1463.9 530.4 1463.8 530.7 1463.5 531.2 1463.2 532 1462.9 532.7 1462.6 533.5 1462.3 534.2 1462.1 535 1461.9 535.8 1461.7 536.5 1461.5 537.3 1461.4 538.1 1461.3 538.8 1461.2 539.6 1461.1 540.4 1461 541.1 1461 541.9 1461 542.7 1461 543.4 1461.1 544.2 1461.2 544.9 1461.3 545.7 1461.4 546.5 1461.5 547.2 1461.7 548 1461.9 548.8 1462.1 549.4 1462.1 549.5 1462.4 550.3 1462.7 551.1 1463 551.8 1463.4 552.6 1463.7 553.4 1463.8 553.4 1464.1 554.1 1464.6 554.9 1465.1 555.6 1465.5 556.3 1465.6 556.4 1466.1 557.2 1466.7 557.9 1467.1 558.5 1467.3 558.7 1468 559.5 1468.7 560.2 1468.8 560.4 1469.4 561 1470.2 561.8 1470.5 562 1471 562.5 1471.9 563.3 1472.2 563.5 1472.9 564.1 1473.9 564.8 1474.9 565.6 1475.5 566 1476.1 566.3 1477.2 567.1 1477.3 567.1 1478.5 567.9 1478.9 568.1 1479.9 568.6 1480.6 569 1481.3 569.4 1482.3 569.9 1482.8 570.2 1483.9 570.7 1484.5 570.9 1485.6 571.5 1486.2 571.7 1487.3 572.2 1488.1 572.5 1489 572.8 1490.1 573.2 1490.7 573.4 1492.3 574 1494 574.5 1494.7 574.8 1495.7 575.1 1497.3 575.5 1497.4 575.5 1499.1 576 1500.2 576.3 1500.7 576.4 1502.4 576.8 1503.4 577 1504.1 577.2 1505.8 577.6 1506.9 577.8 1507.5 577.9 1509.1 578.2 1510.8 578.5 1511 578.6 1512.5 578.8 1514.2 579.1 1515.7 579.3 1515.9 579.4 1517.5 579.6 1519.2 579.9 1520.9 580.1 1521.2 580.1 1522.6 580.3 1524.3 580.5 1525.9 580.7 1527.6 580.8 1527.9 580.9 1529.3 581 1531 581.2 1532.7 581.3 1534.3 581.5 1536 581.6 1536.3 581.6 1537.7 581.7 1539.4 581.9 1541.1 582 1542.7 582.1 1544.4 582.2 1546.1 582.3 1547.6 582.4 1547.8 582.4 1549.5 582.5 1551.1 582.6 1552.8 582.7 1554.5 582.8 1556.2 582.8 1557.8 582.9 1559.5 583 1561.2 583 1562.3 583.1" fill="none" stroke="#000" stroke-width="2.08" stroke-linejoin="round"/>
<path d="M1611.8 584 L1613.3 584 1615 584 1616.6 584 1618.3 584 1620 584" fill="none" stroke="#000" stroke-width="2.08" stroke-linejoin="round"/>
<path d="M1620 751.1 L1618.3 751.3 1618.1 751.3 1616.6 751.5 1615 751.6 1613.3 751.8 1611.6 752 1610.9 752.1 1609.9 752.2 1608.2 752.4 1606.6 752.6 1604.9 752.8 1604.6 752.8 1603.2 753 1601.5 753.3 1599.8 753.5 1599.1 753.6 1598.2 753.7 1596.5 754 1594.8 754.2 1594 754.4 1593.1 754.5 1591.4 754.8 1589.8 755.1 1589.3 755.1 1588.1 755.3 1586.4 755.6 1585 755.9 1584.7 755.9 1583 756.3 1581.4 756.6 1580.9 756.7 1579.7 756.9 1578 757.2 1577.1 757.4 1576.3 757.6 1574.6 757.9 1573.4 758.2 1573 758.3 1571.3 758.7 1569.9 759 1569.6 759 1567.9 759.4 1566.6 759.7 1566.2 759.8 1566 759.9" fill="none" stroke="#000" stroke-width="2.08" stroke-linejoin="round"/>
<path d="M1519 775.4 L1518.1 775.8 1517.5 776 1516.5 776.5 1515.9 776.8 1514.9 777.3 1514.2 777.6 1513.3 778.1 1512.5 778.5 1511.8 778.8 1510.8 779.3 1510.3 779.6 1509.1 780.2 1508.9 780.4 1507.5 781.1 1507.5 781.2 1506.2 781.9 1505.8 782.1 1504.9 782.7 1504.1 783.1 1503.6 783.4 1502.4 784.2 1501.2 784.9 1500.7 785.2 1500 785.7 1499.1 786.4 1498.9 786.5 1497.8 787.2 1497.4 787.6 1496.8 788 1495.8 788.8 1495.7 788.8 1494.8 789.5 1494 790.2 1493.9 790.3 1493 791.1 1492.3 791.6 1492.1 791.8 1491.2 792.6 1490.7 793.2 1490.4 793.4 1489.7 794.1 1489 794.8 1488.9 794.9 1488.2 795.6 1487.5 796.4 1487.3 796.7 1486.9 797.2 1486.3 797.9 1485.7 798.7 1485.6 798.8 1485.2 799.5 1484.6 800.2 1484.1 801" fill="none" stroke="#000" stroke-width="2.08" stroke-linejoin="round"/>
<path d="M1620 618.5 L1618.3 618.5 1616.6 618.4 1615 618.4 1614.3 618.3 1613.3 618.3 1611.6 618.2 1609.9 618.1 1608.2 618.1 1606.6 618 1604.9 617.9 1603.2 617.8 1601.5 617.7 1599.8 617.7 1598.2 617.6 1597.7 617.6 1596.5 617.5 1594.8 617.4 1593.1 617.3 1591.4 617.2 1589.8 617.1 1588.1 617 1586.4 616.9 1584.7 616.8 1583.8 616.8 1583 616.8 1581.4 616.6 1579.7 616.5 1578 616.4 1576.3 616.3 1574.6 616.2 1573 616.1 1571.5 616 1571.3 616 1569.6 615.9 1567.9 615.8 1566.2 615.7 1564.6 615.6 1562.9 615.5 1561.2 615.3 1560.2 615.3 1559.5 615.2 1557.8 615.1 1556.2 615 1554.5 614.9 1552.8 614.7 1551.1 614.6 1549.6 614.5 1549.5 614.5 1547.8 614.4 1546.1 614.2 1544.4 614.1 1542.7 614 1541.1 613.9 1539.4 613.7 1537.7 613.6 1536 613.5 1534.3 613.3 1532.7 613.2 1531 613.1 1529.5 613 1529.3 613 1527.6 612.8 1525.9 612.7 1524.3 612.6 1522.6 612.4 1520.9 612.3 1519.6 612.2 1519.2 612.2 1517.5 612 1515.9 611.9 1515.7 611.9" fill="none" stroke="#000" stroke-width="2.08" stroke-linejoin="round"/>
<path d="M1466.2 608.9 L1465.5 608.9 1463.8 608.8 1462.1 608.8 1460.4 608.7 1458.7 608.7 1457.1 608.7 1455.4 608.7 1453.7 608.7 1452 608.7 1450.3 608.7 1448.7 608.7 1447 608.7 1445.3 608.7 1443.6 608.8 1441.9 608.8 1440.3 608.9 1438.6 608.9 1436.9 609 1435.2 609.1 1434.3 609.2 1433.5 609.2 1431.9 609.3 1430.2 609.4 1428.5 609.6 1426.8 609.7 1425.1 609.9 1423.5 610.1 1421.8 610.3 1420.1 610.5 1419.1 610.7 1418.4 610.8 1416.7 611.1 1415.1 611.4 1414.6 611.4 1413.4 611.7 1411.7 612 1410.9 612.2 1410 612.4 1408.4 612.8 1407.8 613 1406.7 613.3 1405.2 613.7 1405 613.8 1403.3 614.3 1402.8 614.5 1401.6 614.9 1400.7 615.3 1400 615.6 1398.9 616 1398.3 616.3 1397.2 616.8 1396.6 617.1 1395.7 617.6 1394.9 618 1394.3 618.3 1393.2 618.9 1393 619.1 1391.8 619.9 1391.6 620 1390.7 620.6 1389.9 621.2 1389.7 621.4 1388.7 622.1 1388.2 622.6 1387.8 622.9 1387 623.7 1386.5 624.1 1386.2 624.4 1385.5 625.2 1384.8 625.9 1384.8 626 1384.1 626.7 1383.5 627.5 1383.2 628 1382.9 628.3 1382.4 629 1381.9 629.8 1381.5 630.4 1381.4 630.6 1380.9 631.3 1380.5 632.1 1380.1 632.8 1379.8 633.4 1379.7 633.6 1379.3 634.4 1379 635.1 1378.6 635.9 1378.3 636.7 1378.1 637.2 1378 637.4 1377.7 638.2 1377.5 639 1377.2 639.7 1377 640.5 1376.7 641.3 1376.5 642 1376.4 642.3 1376.3 642.8 1376.1 643.5 1375.9 644.3 1375.8 645.1 1375.6 645.8 1375.4 646.6 1375.3 647.4 1375.2 648.1 1375 648.9 1374.9 649.7 1374.8 650.4 1374.8 650.9 1374.7 651.2 1374.6 652 1374.5 652.7 1374.5 653.5 1374.4 654.2 1374.4 655 1374.3 655.8 1374.3 656.5 1374.2 657.3 1374.2 658.1 1374.2 658.8 1374.2 659.6 1374.2 660.4 1374.2 661.1 1374.2 661.9 1374.2 662.7 1374.2 663.4 1374.2 664.2 1374.3 664.9 1374.3 665.7 1374.4 666.5 1374.4 667.2 1374.5 668 1374.6 668.8 1374.7 669.5 1374.8 670.2 1374.8 670.3 1374.9 671.1 1375 671.8 1375.1 672.6 1375.2 673.4 1375.4 674.1 1375.5 674.9 1375.7 675.6 1375.8 676.4 1376 677.2 1376.2 677.9 1376.4 678.7 1376.4 678.9 1376.6 679.5 1376.8 680.2 1377.1 681 1377.3 681.8 1377.6 682.5 1377.8 683.3 1378.1 684 1378.1 684.1 1378.4 684.8 1378.8 685.6 1379.1 686.3 1379.5 687.1 1379.8 687.8 1379.8 687.9 1380.2 688.6 1380.6 689.4 1381.1 690.2 1381.5 690.8 1381.5 690.9 1382 691.7 1382.5 692.5 1383.1 693.2 1383.2 693.3 1383.7 694 1384.3 694.8 1384.8 695.4 1384.9 695.5 1385.6 696.3 1386.3 697.1 1386.5 697.2 1387.1 697.8 1387.9 698.6 1388.2 698.8 1388.8 699.3 1389.7 700.1 1389.9 700.2 1390.7 700.9 1391.6 701.5 1391.8 701.6 1392.9 702.4 1393.2 702.6 1394.2 703.2 1394.9 703.6 1395.5 703.9 1396.6 704.5 1396.9 704.7 1398.3 705.4 1398.5 705.5 1400 706.1 1400.2 706.2 1401.6 706.8 1402 707 1403.3 707.5 1404.1 707.8 1405 708.1 1406.3 708.5 1406.7 708.6 1408.4 709.1 1408.8 709.3 1410 709.6 1411.6 710 1411.7 710.1 1413.4 710.5 1414.8 710.8 1415.1 710.9 1416.7 711.2 1418.4 711.6 1420.1 711.9 1421.8 712.2 1422.6 712.3 1423.5 712.5 1425.1 712.8 1426.8 713 1427.5 713.1 1428.5 713.2 1430.2 713.5 1431.9 713.7 1433.5 713.9 1435.2 714.1 1436.9 714.2 1438.6 714.4 1440.3 714.6 1441 714.6 1441.9 714.7 1443.6 714.9 1445.3 715 1447 715.1 1448.7 715.2 1450.3 715.3 1451.1 715.4 1452 715.5 1453.7 715.6 1455.4 715.6 1457.1 715.7 1458.7 715.8 1460.4 715.9 1462.1 716 1463.8 716 1465.5 716.1 1467.1 716.2 1467.3 716.2 1468.8 716.2 1470.5 716.3 1472.2 716.3 1473.9 716.3 1475.5 716.4 1477.2 716.4 1478.9 716.4 1480.6 716.5 1482.3 716.5 1483.9 716.5 1485.6 716.5 1487.3 716.5 1489 716.6 1490.7 716.6 1492.3 716.6 1494 716.6 1495.7 716.6 1497.4 716.6 1499.1 716.6 1500.7 716.5 1502.4 716.5 1504.1 716.5 1505.8 716.5 1507.5 716.5 1509.1 716.4 1510.8 716.4 1512.5 716.4 1514.2 716.4 1515.9 716.3 1517.5 716.3 1519.2 716.2 1520.9 716.2 1522.4 716.2 1522.6 716.2 1524.3 716.1 1525.9 716.1 1527.6 716 1529.3 715.9 1531 715.9 1532.7 715.8 1534.3 715.8 1536 715.7 1537.7 715.6 1539.4 715.6 1541.1 715.5 1542.7 715.4 1543.2 715.4 1544.4 715.3 1546.1 715.3 1547.8 715.2 1549.5 715.1 1551.1 715 1552.8 714.9 1554.5 714.8 1556.2 714.7 1557.8 714.6 1558 714.6 1559.5 714.5 1561.2 714.4 1562.9 714.3 1564.6 714.2 1566.2 714.1 1567.9 714 1569.6 713.9 1570.4 713.9 1571.3 713.8 1573 713.7 1574.6 713.6 1576.3 713.5 1578 713.3 1579.7 713.2 1581.4 713.1 1583 713 1584.7 712.9 1586.4 712.7 1588.1 712.6 1589.8 712.5 1591.4 712.4 1591.8 712.3 1593.1 712.2 1594.8 712.1 1596.5 712 1598.2 711.8 1599.8 711.7 1601.5 711.6 1601.7 711.6 1603.2 711.5 1604.9 711.3 1606.6 711.2 1608.2 711.1 1609.9 710.9 1611.5 710.8 1611.6 710.8 1613.3 710.7 1615 710.5 1616.6 710.4 1618.3 710.3 1620 710.2" fill="none" stroke="#000" stroke-width="2.08" stroke-linejoin="round"/>
<path d="M1484.1 525.8 L1483.9 526.2 1483.7 526.6 1483.3 527.4 1482.9 528.1 1482.5 528.9 1482.3 529.4 1482.2 529.7 1481.9 530.4 1481.6 531.2 1481.3 532 1481.1 532.7 1480.9 533.5 1480.8 534.2 1480.7 535 1480.6 535.7 1480.6 535.8 1480.5 536.5 1480.5 537.3 1480.5 538.1 1480.5 538.8 1480.6 539.4 1480.6 539.6 1480.7 540.4 1480.8 541.1 1481 541.9 1481.2 542.7 1481.5 543.4 1481.8 544.2 1482.1 544.9 1482.3 545.3 1482.4 545.7 1482.8 546.5 1483.3 547.2 1483.8 548 1483.9 548.3 1484.3 548.8 1484.9 549.5 1485.5 550.3 1485.6 550.4 1486.2 551.1 1486.9 551.8 1487.3 552.2 1487.7 552.6 1488.5 553.4 1489 553.8 1489.4 554.1 1490.3 554.9 1490.7 555.1 1491.4 555.6 1492.3 556.3 1492.5 556.4 1493.6 557.2 1494 557.4 1494.9 557.9 1495.7 558.4 1496.2 558.7 1497.4 559.3 1497.6 559.5 1499.1 560.2 1500.7 561 1500.8 561 1502.4 561.7 1502.5 561.8 1504.1 562.4 1504.4 562.5 1505.5 562.9" fill="none" stroke="#000" stroke-width="2.08" stroke-linejoin="round"/>
<path d="M1554 572.6 L1554.5 572.6 1556.2 572.8 1557.8 572.9 1559.5 573.1 1561.2 573.2 1561.4 573.2 1562.9 573.3 1564.6 573.5 1566.2 573.6 1567.9 573.7 1569.6 573.8 1571.3 573.9 1572.8 574 1573 574 1574.6 574.1 1576.3 574.2 1578 574.3 1579.7 574.3 1581.4 574.4 1583 574.5 1584.7 574.6 1586.4 574.6 1588.1 574.7 1589.8 574.7 1590.3 574.8 1591.4 574.8 1593.1 574.8 1594.8 574.9 1596.5 574.9 1598.2 575 1599.8 575 1601.5 575 1603.2 575.1 1604.9 575.1 1606.6 575.1 1608.2 575.2 1609.9 575.2 1611.6 575.2 1613.3 575.2 1615 575.2 1616.6 575.2 1618.3 575.2 1620 575.2" fill="none" stroke="#000" stroke-width="2.08" stroke-linejoin="round"/>
<path d="M1595.1 761.1 L1594.8 761.1 1593.9 761.3 1593.1 761.4 1591.4 761.6 1589.8 761.9 1589.2 762 1588.1 762.2 1586.4 762.5 1584.9 762.8 1584.7 762.8 1583 763.1 1581.4 763.5 1580.9 763.5 1579.7 763.8 1578 764.1 1577.1 764.3 1576.3 764.5 1574.6 764.8 1573.6 765.1 1573 765.2 1571.3 765.6 1570.2 765.8 1569.6 766 1567.9 766.4 1567 766.6 1566.2 766.8 1564.6 767.2 1563.9 767.4 1562.9 767.6 1561.2 768.1 1561 768.1 1559.5 768.5 1558.2 768.9 1557.8 769 1556.2 769.5 1555.6 769.7 1554.5 770 1553 770.4 1552.8 770.5 1551.1 771 1550.5 771.2 1549.5 771.5 1548.1 772 1547.8 772.1 1546.1 772.6 1545.8 772.7 1544.4 773.2 1543.6 773.5 1542.7 773.8 1541.5 774.2 1541.1 774.4 1539.4 775 1537.7 775.7 1537.5 775.8 1536 776.3 1535.5 776.5 1534.3 777 1533.7 777.3 1532.7 777.7 1531.9 778.1 1531 778.5 1530.1 778.8 1529.3 779.2 1528.5 779.6 1527.6 780 1526.8 780.4 1525.9 780.8 1525.3 781.1 1524.3 781.6 1523.8 781.9 1522.6 782.5 1522.3 782.7 1520.9 783.4 1519.5 784.2 1519.2 784.4 1518.2 784.9 1517.5 785.4 1516.9 785.7 1515.9 786.4 1515.7 786.5 1514.5 787.2 1514.2 787.5 1513.4 788 1512.5 788.6 1512.3 788.8 1511.3 789.5 1510.8 789.9 1510.3 790.3 1509.3 791.1 1509.1 791.2 1508.4 791.8 1507.5 792.6 1506.6 793.4 1505.8 794.1 1505.8 794.2 1505.1 794.9 1504.3 795.6 1504.1 795.9 1503.6 796.4 1503 797.2 1502.4 797.9 1501.8 798.7 1501.2 799.5 1500.7 800.2 1500.3 801" fill="none" stroke="#000" stroke-width="2.08" stroke-linejoin="round"/>
<path d="M1620 625.6 L1618.3 625.6 1616.6 625.5 1615 625.4 1613.3 625.3 1611.6 625.2 1611.2 625.2 1609.9 625.1 1608.2 625 1606.6 625 1604.9 624.9 1603.2 624.8 1601.5 624.7 1599.8 624.6 1598.2 624.5 1597.3 624.4 1596.5 624.4 1594.8 624.3 1593.1 624.2 1591.4 624.1 1589.8 624 1588.1 623.9 1586.4 623.8 1584.7 623.7 1584.5 623.7 1583 623.6 1581.4 623.5 1579.7 623.4 1578 623.3 1576.3 623.2 1574.6 623.1 1573 623 1572.3 622.9 1571.3 622.8 1569.6 622.7 1567.9 622.6 1566.2 622.5 1564.6 622.4 1562.9 622.3 1561.2 622.2 1560.5 622.1 1559.5 622.1 1557.8 622 1556.2 621.9 1554.5 621.7 1552.8 621.6 1551.1 621.5 1549.5 621.4 1548.9 621.4 1547.8 621.3 1546.1 621.2 1544.4 621.1 1542.7 621 1541.1 620.9 1539.4 620.8 1537.7 620.7 1537.1 620.6 1536 620.5 1534.3 620.4 1532.7 620.3 1531 620.2 1529.3 620.1 1527.6 620 1525.9 619.9 1524.9 619.9 1524.3 619.8 1522.6 619.7 1520.9 619.6 1519.2 619.5 1517.5 619.4 1515.9 619.3 1514.2 619.2 1512.5 619.1 1511.4 619.1 1510.8 619.1 1509.1 619 1507.5 618.9 1505.8 618.8 1504.1 618.7 1502.4 618.6 1500.7 618.6 1499.1 618.5 1497.4 618.4 1495.7 618.4 1494.7 618.3 1494 618.3 1492.3 618.2 1490.7 618.2 1489 618.1 1487.3 618.1 1485.6 618 1483.9 618 1482.3 618 1480.6 617.9 1478.9 617.9 1477.2 617.9 1475.5 617.9 1473.9 617.9 1472.2 617.9 1470.5 617.9 1468.8 617.9 1467.1 617.9 1465.5 617.9 1463.8 618 1462.1 618 1460.4 618.1 1458.7 618.1 1457.1 618.2 1455.4 618.3 1454.5 618.3 1453.7 618.4 1452 618.5 1450.3 618.6 1448.7 618.7 1447 618.8 1445.3 619 1444.3 619.1 1443.6 619.2 1441.9 619.3 1440.3 619.5 1438.6 619.8 1437.9 619.9 1436.9 620 1435.2 620.2 1433.5 620.5 1433 620.6 1431.9 620.8 1430.2 621.1 1429 621.4 1428.5 621.5 1426.8 621.9 1425.7 622.1 1425.1 622.3 1423.5 622.7 1422.7 622.9 1421.8 623.2 1420.2 623.7 1420.1 623.7 1418.4 624.3 1417.9 624.4 1416.7 624.9 1415.9 625.2 1415.1 625.5 1414 626 1413.4 626.2 1412.3 626.7 1411.7 627 1410.7 627.5 1410 627.9 1409.3 628.3 1408.4 628.8 1408 629 1406.7 629.8 1405.6 630.6 1405 631 1404.5 631.3 1403.5 632.1 1403.3 632.2 1402.6 632.8 1401.7 633.6 1401.6 633.7 1400.9 634.4 1400.1 635.1 1400 635.3 1399.4 635.9 1398.7 636.7 1398.3 637.1 1398 637.4 1397.4 638.2 1396.8 639 1396.6 639.3 1396.3 639.7 1395.8 640.5 1395.3 641.3 1394.9 641.9 1394.8 642 1394.4 642.8 1394 643.5 1393.6 644.3 1393.2 645.1 1392.9 645.8 1392.6 646.6 1392.3 647.4 1392 648.1 1391.7 648.9 1391.6 649.4 1391.5 649.7 1391.3 650.4 1391 651.2 1390.8 652 1390.7 652.7 1390.5 653.5 1390.4 654.2 1390.2 655 1390.1 655.8 1390 656.5 1389.9 657.3 1389.9 657.5 1389.8 658.1 1389.8 658.8 1389.7 659.6 1389.7 660.4 1389.6 661.1 1389.6 661.9 1389.6 662.7 1389.6 663.4 1389.7 664.2 1389.7 664.9 1389.8 665.7 1389.8 666.5 1389.9 666.9 1389.9 667.2 1390 668 1390.1 668.8 1390.2 669.5 1390.4 670.3 1390.5 671.1 1390.7 671.8 1390.9 672.6 1391.1 673.4 1391.3 674.1 1391.5 674.9 1391.6 675 1391.8 675.6 1392 676.4 1392.3 677.2 1392.6 677.9 1392.9 678.7 1393.2 679.4 1393.3 679.5 1393.6 680.2 1394 681 1394.4 681.8 1394.8 682.5 1394.9 682.6 1395.3 683.3 1395.8 684.1 1396.3 684.8 1396.6 685.3 1396.8 685.6 1397.4 686.3 1398 687.1 1398.3 687.5 1398.6 687.9 1399.3 688.6 1400 689.4 1400.7 690.2 1401.5 690.9 1401.6 691 1402.4 691.7 1403.3 692.5 1404.2 693.2 1405 693.8 1405.2 694 1406.3 694.8 1406.7 695 1407.4 695.5 1408.4 696.1 1408.6 696.3 1409.9 697.1 1410 697.1 1411.3 697.8 1411.7 698 1412.8 698.6 1413.4 698.9 1414.4 699.3 1415.1 699.6 1416.2 700.1 1416.7 700.3 1418.1 700.9 1418.4 701 1420.1 701.6 1421.8 702.2 1422.3 702.4 1423.5 702.8 1424.8 703.2 1425.1 703.3 1426.8 703.7 1427.5 703.9 1428.5 704.2 1430.2 704.6 1430.5 704.7 1431.9 705 1433.5 705.4 1433.9 705.5 1435.2 705.7 1436.9 706.1 1437.8 706.2 1438.6 706.4 1440.3 706.7 1441.9 706.9 1442.2 707 1443.6 707.2 1445.3 707.5 1447 707.7 1447.4 707.8 1448.7 707.9 1450.3 708.1 1452 708.3 1453.7 708.5 1453.8 708.5 1455.4 708.7 1457.1 708.8 1458.7 709 1460.4 709.1 1462.1 709.3 1463.8 709.4 1465.5 709.5 1467.1 709.6 1468.8 709.7 1470.5 709.8 1472.2 709.9 1473.9 710 1474.5 710 1475.5 710.1 1477.2 710.2 1478.9 710.2 1480.6 710.3 1482.3 710.3 1483.9 710.4 1485.6 710.4 1487.3 710.5 1489 710.5 1490.7 710.5 1492.3 710.5 1494 710.6 1495.7 710.6 1497.4 710.6 1499.1 710.6 1500.7 710.6 1501.2 710.6" fill="none" stroke="#000" stroke-width="2.08" stroke-linejoin="round"/>
<path d="M1550.8 708.8 L1551.1 708.8 1552.8 708.7 1554.5 708.5 1555 708.5 1556.2 708.4 1557.8 708.3 1559.5 708.2 1561.2 708.1 1562.9 707.9 1564.6 707.8 1565.4 707.8 1566.2 707.7 1567.9 707.5 1569.6 707.4 1571.3 707.3 1573 707.1 1574.6 707 1574.7 707 1576.3 706.9 1578 706.7 1579.7 706.6 1581.4 706.4 1583 706.3 1583.5 706.2 1584.7 706.1 1586.4 706 1588.1 705.8 1589.8 705.6 1591.4 705.5 1591.8 705.5 1593.1 705.3 1594.8 705.2 1596.5 705 1598.2 704.9 1599.8 704.7 1599.9 704.7 1601.5 704.5 1603.2 704.4 1604.9 704.2 1606.6 704.1 1608 703.9 1608.2 703.9 1609.9 703.7 1611.6 703.6 1613.3 703.4 1615 703.3 1616.1 703.2 1616.6 703.1 1618.3 703 1620 702.8" fill="none" stroke="#000" stroke-width="2.08" stroke-linejoin="round"/>
<path d="M1509.9 552.2 L1510.7 552.6 1510.8 552.7 1512 553.4 1512.5 553.6 1513.5 554.1 1514.2 554.5 1515.1 554.9 1515.9 555.2 1516.8 555.6 1517.5 556 1518.6 556.4 1519.2 556.6 1520.6 557.2 1520.9 557.3 1522.6 557.9 1522.7 557.9 1524.3 558.5 1525 558.7 1525.9 559 1527.5 559.5 1527.6 559.5 1529.3 560 1530.3 560.2 1531 560.4 1532.7 560.8 1533.3 561 1534.3 561.3 1536 561.6 1536.6 561.8 1537.7 562 1539.4 562.4 1540.2 562.5 1541.1 562.7 1542.7 563 1544.2 563.3 1544.4 563.3 1546.1 563.6 1547.8 563.9 1548.8 564.1 1549.5 564.2 1551.1 564.4 1552.8 564.6 1554.1 564.8 1554.5 564.9 1556.2 565.1 1557.8 565.3 1559.5 565.5 1560.2 565.6 1561.2 565.7 1562.9 565.9 1564.6 566.1 1566.2 566.2 1567.5 566.3 1567.9 566.4 1569.6 566.5 1571.3 566.7 1573 566.8 1574.6 566.9 1576.3 567.1 1576.9 567.1 1578 567.2 1579.7 567.3 1581.4 567.4 1583 567.5 1584.7 567.6 1586.4 567.7 1588.1 567.8 1589.8 567.9 1590.3 567.9 1591.4 567.9 1593.1 568 1594.8 568.1 1596.5 568.1 1598.2 568.2 1599.8 568.2 1601.5 568.3 1603.2 568.3 1604.9 568.4 1606.6 568.4 1608.2 568.4 1609.9 568.5 1611.6 568.5 1613.3 568.5 1615 568.5 1616.6 568.5 1618.3 568.6 1620 568.6" fill="none" stroke="#000" stroke-width="2.08" stroke-linejoin="round"/>
<text x="1374.11" y="551.74" font-size="13.89" text-anchor="middle" textLength="39.8" lengthAdjust="spacingAndGlyphs" transform="rotate(-305.4 1374.11 551.74)" dominant-baseline="central">3.068</text>
<text x="1497.82" y="532.32" font-size="13.89" text-anchor="middle" textLength="39.8" lengthAdjust="spacingAndGlyphs" transform="rotate(-283.2 1497.82 532.32)" dominant-baseline="central">7.671</text>
<text x="1529.41" y="569.28" font-size="13.89" text-anchor="middle" textLength="39.8" lengthAdjust="spacingAndGlyphs" transform="rotate(-349.1 1529.41 569.28)" dominant-baseline="central">6.137</text>
<text x="1587.07" y="583.72" font-size="13.89" text-anchor="middle" textLength="39.8" lengthAdjust="spacingAndGlyphs" transform="rotate(-359.0 1587.07 583.72)" dominant-baseline="central">4.602</text>
<text x="1490.94" y="610.13" font-size="13.89" text-anchor="middle" textLength="39.8" lengthAdjust="spacingAndGlyphs" transform="rotate(-356.5 1490.94 610.13)" dominant-baseline="central">6.137</text>
<text x="1525.99" y="710.07" font-size="13.89" text-anchor="middle" textLength="39.8" lengthAdjust="spacingAndGlyphs" transform="rotate(-2.1 1525.99 710.07)" dominant-baseline="central">7.671</text>
<text x="1587.11" y="721.53" font-size="13.89" text-anchor="middle" textLength="39.8" lengthAdjust="spacingAndGlyphs" transform="rotate(-2.2 1587.11 721.53)" dominant-baseline="central">4.602</text>
<text x="1422.62" y="733.95" font-size="13.89" text-anchor="middle" textLength="39.8" lengthAdjust="spacingAndGlyphs" transform="rotate(-6.3 1422.62 733.95)" dominant-baseline="central">3.068</text>
<text x="1456.60" y="767.33" font-size="13.89" text-anchor="middle" textLength="39.8" lengthAdjust="spacingAndGlyphs" transform="rotate(-30.6 1456.60 767.33)" dominant-baseline="central">1.534</text>
<text x="1524.45" y="764.32" font-size="13.89" text-anchor="middle" textLength="39.8" lengthAdjust="spacingAndGlyphs" transform="rotate(-20.9 1524.45 764.32)" dominant-baseline="central">4.602</text>
<text x="1542.15" y="766.54" font-size="13.89" text-anchor="middle" textLength="39.8" lengthAdjust="spacingAndGlyphs" transform="rotate(-18.1 1542.15 766.54)" dominant-baseline="central">6.137</text>
<text x="1619.77" y="758.11" font-size="13.89" text-anchor="middle" textLength="39.8" lengthAdjust="spacingAndGlyphs" transform="rotate(-6.5 1619.77 758.11)" dominant-baseline="central">7.671</text>
</g>
<path d="M1435.23 753.9 L1432.89 761.09 1425.32 761.09 1431.44 765.54 1429.1 772.74 1435.23 768.29 1441.35 772.74 1439.01 765.54 1445.13 761.09 1437.57 761.09Z" fill="#000"/>
<rect x="1351.5" y="526.5" width="269.0" height="275.0" fill="none" stroke="#000" stroke-width="1.11"/>
<text x="1351.50" y="821.70" font-size="13.89" text-anchor="middle">0</text>
<text x="1418.50" y="821.70" font-size="13.89" text-anchor="middle">1</text>
<text x="1486.50" y="821.70" font-size="13.89" text-anchor="middle">2</text>
<text x="1553.50" y="821.70" font-size="13.89" text-anchor="middle">3</text>
<text x="1620.50" y="821.70" font-size="13.89" text-anchor="middle">4</text>
<text x="1341.52" y="783.35" font-size="13.89" text-anchor="end" textLength="29.3" lengthAdjust="spacingAndGlyphs">−75</text>
<text x="1341.52" y="745.13" font-size="13.89" text-anchor="end" textLength="29.3" lengthAdjust="spacingAndGlyphs">−50</text>
<text x="1341.52" y="706.92" font-size="13.89" text-anchor="end" textLength="29.3" lengthAdjust="spacingAndGlyphs">−25</text>
<text x="1341.52" y="668.70" font-size="13.89" text-anchor="end">0</text>
<text x="1341.52" y="630.48" font-size="13.89" text-anchor="end" textLength="17.7" lengthAdjust="spacingAndGlyphs">25</text>
<text x="1341.52" y="592.27" font-size="13.89" text-anchor="end" textLength="17.7" lengthAdjust="spacingAndGlyphs">50</text>
<text x="1341.52" y="554.05" font-size="13.89" text-anchor="end" textLength="17.7" lengthAdjust="spacingAndGlyphs">75</text>
<path d="M1351.5 801.5v4.86M1418.5 801.5v4.86M1486.5 801.5v4.86M1553.5 801.5v4.86M1620.5 801.5v4.86M1351.5 778.5h-4.86M1351.5 740.5h-4.86M1351.5 702.5h-4.86M1351.5 663.5h-4.86M1351.5 625.5h-4.86M1351.5 587.5h-4.86M1351.5 549.5h-4.86" stroke="#000" stroke-width="1.11"/>
</svg></div></body></html>
